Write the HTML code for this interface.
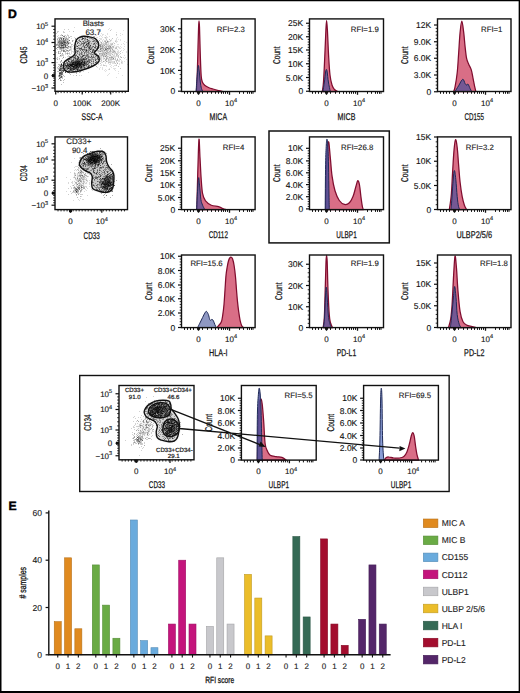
<!DOCTYPE html>
<html><head><meta charset="utf-8"><title>Figure</title>
<style>html,body{margin:0;padding:0;background:#fff;overflow:hidden}svg{display:block;font-family:"Liberation Sans",sans-serif;text-rendering:geometricPrecision}text{stroke:#1a1a1a;stroke-width:.12px}</style>
</head><body>
<svg width="520" height="693" viewBox="0 0 520 693" font-family="Liberation Sans"><rect x="0" y="0" width="520" height="693" fill="#fff"/>
<defs><filter id="bl0" x="-50%" y="-50%" width="200%" height="200%"><feGaussianBlur stdDeviation="0.4"/></filter><filter id="bl1" x="-50%" y="-50%" width="200%" height="200%"><feGaussianBlur stdDeviation="0.8"/></filter><filter id="bl2" x="-50%" y="-50%" width="200%" height="200%"><feGaussianBlur stdDeviation="1.6"/></filter><filter id="bl3" x="-50%" y="-50%" width="200%" height="200%"><feGaussianBlur stdDeviation="2.6"/></filter><filter id="bl4" x="-50%" y="-50%" width="200%" height="200%"><feGaussianBlur stdDeviation="4"/></filter></defs>
<path d="M196.4 91.5 C196.54 88.71 196.91 84.01 197.2 76 C197.49 67.99 197.75 55.82 198 47 C198.25 38.18 198.42 31.7 198.6 27 C198.78 22.3 198.84 20.9 199 20.9 C199.16 20.9 199.27 20.86 199.5 27 C199.73 33.14 199.99 46.18 200.3 55 C200.61 63.82 200.79 71.05 201.2 76 C201.61 80.95 201.92 80.79 202.6 82.5 C203.28 84.21 203.85 84.56 205 85.5 C206.15 86.44 207.56 87.07 209 87.7 C210.44 88.33 211.29 88.48 213 89 C214.71 89.52 216.7 90.15 218.5 90.6 C220.3 91.05 222.19 91.34 223 91.5Z" fill="#d96e86" fill-opacity="1.0" stroke="#800d2f" stroke-width="1.25" stroke-linejoin="round"/>
<path d="M196.1 91.5 C196.26 89.07 196.6 82.66 197 78 C197.4 73.34 197.89 66.68 198.3 65.6 C198.71 64.52 198.94 69.05 199.3 72 C199.66 74.95 199.9 79.03 200.3 82 C200.7 84.97 201.01 86.79 201.5 88.5 C201.99 90.21 202.73 90.96 203 91.5Z" fill="#4a4f9a" fill-opacity="0.7" stroke="#1f2a58" stroke-width="1.0" stroke-linejoin="round"/>
<rect x="181.5" y="18.9" width="73.6" height="72.6" fill="none" stroke="#111" stroke-width="1.4"/>
<path d="M178 28.8H181.5" stroke="#111" stroke-width="1.2"/>
<text x="175.2" y="31.9" font-size="8.5" text-anchor="end" fill="#111">30K</text>
<path d="M178 49.6H181.5" stroke="#111" stroke-width="1.2"/>
<text x="175.2" y="52.7" font-size="8.5" text-anchor="end" fill="#111">20K</text>
<path d="M178 70.4H181.5" stroke="#111" stroke-width="1.2"/>
<text x="175.2" y="73.5" font-size="8.5" text-anchor="end" fill="#111">10K</text>
<path d="M178 91.2H181.5" stroke="#111" stroke-width="1.2"/>
<text x="175.2" y="94.3" font-size="8.5" text-anchor="end" fill="#111">0</text>
<path d="M179.7 32.96H181.5M179.7 37.12H181.5M179.7 41.28H181.5M179.7 45.44H181.5M179.7 53.76H181.5M179.7 57.92H181.5M179.7 62.08H181.5M179.7 66.24H181.5M179.7 74.56H181.5M179.7 78.72H181.5M179.7 82.88H181.5M179.7 87.04H181.5" stroke="#111" stroke-width="0.9"/>
<path d="M184.5 91.5V93.8M187.5 91.5V93.8M190.5 91.5V93.8M193.5 91.5V93.8M202.5 91.5V93.8M207.5 91.5V93.8M211.5 91.5V93.8M215.5 91.5V93.8M218.5 91.5V93.8M221.5 91.5V93.8M223.5 91.5V93.8M225.5 91.5V93.8M227.5 91.5V93.8M239.5 91.5V93.8M243.5 91.5V93.8M247.5 91.5V93.8M249.5 91.5V93.8M251.5 91.5V93.8M253 91.5V93.8" stroke="#111" stroke-width="1"/>
<path d="M198.5 91.5V94.7M229.5 91.5V94.7" stroke="#111" stroke-width="1.3"/>
<rect x="197" y="91.5" width="3" height="2.2" fill="#111"/>
<text x="198.5" y="105.5" font-size="8" text-anchor="middle" fill="#111">0</text>
<text x="225.1" y="105.5" font-size="8" fill="#111">10<tspan font-size="5.6" dy="-3.4">4</tspan></text>
<text transform="translate(218.3 119.9)" font-size="9.8" text-anchor="middle" textLength="17.5" lengthAdjust="spacingAndGlyphs" style="stroke-width:0.25px" fill="#111">MICA</text>
<text transform="translate(153.8 55.2) rotate(-90)" font-size="9.8" text-anchor="middle" textLength="17.6" lengthAdjust="spacingAndGlyphs" style="stroke-width:0.25px" fill="#111">Count</text>
<text x="216.8" y="32.2" font-size="7.8" fill="#151515">RFI=2.3</text>
<path d="M322.3 91.5 C322.52 89.79 323.05 88.39 323.5 82 C323.95 75.61 324.37 65.36 324.8 56 C325.23 46.64 325.58 36.37 325.9 30 C326.22 23.63 326.33 20.6 326.6 20.6 C326.87 20.6 327.04 23.72 327.4 30 C327.76 36.28 328.13 47.4 328.6 55.5 C329.07 63.6 329.39 69.69 330 75 C330.61 80.31 331.19 82.39 332 85 C332.81 87.61 333.51 88.33 334.5 89.5 C335.49 90.67 336.96 91.14 337.5 91.5Z" fill="#d96e86" fill-opacity="1.0" stroke="#800d2f" stroke-width="1.25" stroke-linejoin="round"/>
<path d="M322.9 91.5 C323.17 89.79 323.91 85.51 324.4 82 C324.89 78.49 325.24 74.25 325.6 72 C325.96 69.75 326.11 69.5 326.4 69.5 C326.69 69.5 326.84 69.75 327.2 72 C327.56 74.25 327.84 78.49 328.4 82 C328.96 85.51 329.96 89.79 330.3 91.5Z" fill="#4a4f9a" fill-opacity="0.7" stroke="#1f2a58" stroke-width="1.0" stroke-linejoin="round"/>
<rect x="309.5" y="18.9" width="74" height="72.6" fill="none" stroke="#111" stroke-width="1.4"/>
<path d="M306 23.25H309.5" stroke="#111" stroke-width="1.2"/>
<text x="303.2" y="26.35" font-size="8.5" text-anchor="end" fill="#111">25K</text>
<path d="M306 36.75H309.5" stroke="#111" stroke-width="1.2"/>
<text x="303.2" y="39.85" font-size="8.5" text-anchor="end" fill="#111">20K</text>
<path d="M306 50H309.5" stroke="#111" stroke-width="1.2"/>
<text x="303.2" y="53.1" font-size="8.5" text-anchor="end" fill="#111">15K</text>
<path d="M306 63.75H309.5" stroke="#111" stroke-width="1.2"/>
<text x="303.2" y="66.85" font-size="8.5" text-anchor="end" fill="#111">10K</text>
<path d="M306 77.5H309.5" stroke="#111" stroke-width="1.2"/>
<text x="303.2" y="80.6" font-size="8.5" text-anchor="end" fill="#111">5.0K</text>
<path d="M306 91.25H309.5" stroke="#111" stroke-width="1.2"/>
<text x="303.2" y="94.35" font-size="8.5" text-anchor="end" fill="#111">0</text>
<path d="M307.7 25.95H309.5M307.7 28.65H309.5M307.7 31.35H309.5M307.7 34.05H309.5M307.7 39.4H309.5M307.7 42.05H309.5M307.7 44.7H309.5M307.7 47.35H309.5M307.7 52.75H309.5M307.7 55.5H309.5M307.7 58.25H309.5M307.7 61H309.5M307.7 66.5H309.5M307.7 69.25H309.5M307.7 72H309.5M307.7 74.75H309.5M307.7 80.25H309.5M307.7 83H309.5M307.7 85.75H309.5M307.7 88.5H309.5" stroke="#111" stroke-width="0.9"/>
<path d="M312.5 91.5V93.8M315.5 91.5V93.8M318.5 91.5V93.8M321.5 91.5V93.8M330.5 91.5V93.8M335.5 91.5V93.8M339.5 91.5V93.8M343.5 91.5V93.8M346.5 91.5V93.8M349.5 91.5V93.8M351.5 91.5V93.8M353.5 91.5V93.8M355.5 91.5V93.8M367.5 91.5V93.8M371.5 91.5V93.8M375.5 91.5V93.8M377.5 91.5V93.8M379.5 91.5V93.8M381 91.5V93.8" stroke="#111" stroke-width="1"/>
<path d="M326.5 91.5V94.7M357.5 91.5V94.7" stroke="#111" stroke-width="1.3"/>
<rect x="325" y="91.5" width="3" height="2.2" fill="#111"/>
<text x="326.5" y="105.5" font-size="8" text-anchor="middle" fill="#111">0</text>
<text x="353.1" y="105.5" font-size="8" fill="#111">10<tspan font-size="5.6" dy="-3.4">4</tspan></text>
<text transform="translate(346.5 119.9)" font-size="9.8" text-anchor="middle" textLength="17.8" lengthAdjust="spacingAndGlyphs" style="stroke-width:0.25px" fill="#111">MICB</text>
<text transform="translate(280.2 55.2) rotate(-90)" font-size="9.8" text-anchor="middle" textLength="17.6" lengthAdjust="spacingAndGlyphs" style="stroke-width:0.25px" fill="#111">Count</text>
<text x="350.8" y="32.4" font-size="7.8" fill="#151515">RFI=1.9</text>
<path d="M453.6 91.5 C453.85 90.73 454.35 90.57 455 87.2 C455.65 83.83 456.55 78.78 457.2 72.8 C457.85 66.82 458.08 61.27 458.6 54 C459.12 46.73 459.52 38.3 460.1 32.4 C460.68 26.5 461.15 21.2 461.8 21.2 C462.45 21.2 463.11 27.79 463.7 32.4 C464.29 37.01 464.58 42.12 465.1 46.8 C465.62 51.48 465.95 55.27 466.6 58.4 C467.25 61.53 467.85 62.13 468.7 64.2 C469.55 66.27 470.51 67.31 471.3 69.9 C472.09 72.49 472.47 75.49 473.1 78.6 C473.73 81.71 474.3 84.88 474.8 87.2 C475.3 89.52 475.7 90.73 475.9 91.5Z" fill="#d96e86" fill-opacity="1.0" stroke="#800d2f" stroke-width="1.25" stroke-linejoin="round"/>
<path d="M455 91.5 C455.65 90.47 457.21 88 458.6 85.8 C459.99 83.6 461.53 79.7 462.7 79.3 C463.87 78.9 464.4 82.56 465.1 83.6 C465.8 84.64 466.08 85.01 466.6 85.1 C467.12 85.19 467.35 83.45 468 84.1 C468.65 84.75 469.55 87.37 470.2 88.7 C470.85 90.03 471.35 91 471.6 91.5Z" fill="#4a4f9a" fill-opacity="0.7" stroke="#1f2a58" stroke-width="1.0" stroke-linejoin="round"/>
<rect x="437.5" y="18.9" width="73.5" height="72.6" fill="none" stroke="#111" stroke-width="1.4"/>
<path d="M434 25H437.5" stroke="#111" stroke-width="1.2"/>
<text x="431.2" y="28.1" font-size="8.5" text-anchor="end" fill="#111">12K</text>
<path d="M434 41.75H437.5" stroke="#111" stroke-width="1.2"/>
<text x="431.2" y="44.85" font-size="8.5" text-anchor="end" fill="#111">9.0K</text>
<path d="M434 58.25H437.5" stroke="#111" stroke-width="1.2"/>
<text x="431.2" y="61.35" font-size="8.5" text-anchor="end" fill="#111">6.0K</text>
<path d="M434 75H437.5" stroke="#111" stroke-width="1.2"/>
<text x="431.2" y="78.1" font-size="8.5" text-anchor="end" fill="#111">3.0K</text>
<path d="M434 91.75H437.5" stroke="#111" stroke-width="1.2"/>
<text x="431.2" y="94.85" font-size="8.5" text-anchor="end" fill="#111">0</text>
<path d="M435.7 28.35H437.5M435.7 31.7H437.5M435.7 35.05H437.5M435.7 38.4H437.5M435.7 45.05H437.5M435.7 48.35H437.5M435.7 51.65H437.5M435.7 54.95H437.5M435.7 61.6H437.5M435.7 64.95H437.5M435.7 68.3H437.5M435.7 71.65H437.5M435.7 78.35H437.5M435.7 81.7H437.5M435.7 85.05H437.5M435.7 88.4H437.5" stroke="#111" stroke-width="0.9"/>
<path d="M440.5 91.5V93.8M443.5 91.5V93.8M446.5 91.5V93.8M449.5 91.5V93.8M458.5 91.5V93.8M463.5 91.5V93.8M467.5 91.5V93.8M471.5 91.5V93.8M474.5 91.5V93.8M477.5 91.5V93.8M479.5 91.5V93.8M481.5 91.5V93.8M483.5 91.5V93.8M495.5 91.5V93.8M499.5 91.5V93.8M503.5 91.5V93.8M505.5 91.5V93.8M507.5 91.5V93.8M509 91.5V93.8" stroke="#111" stroke-width="1"/>
<path d="M454.5 91.5V94.7M485.5 91.5V94.7" stroke="#111" stroke-width="1.3"/>
<rect x="453" y="91.5" width="3" height="2.2" fill="#111"/>
<text x="454.5" y="105.5" font-size="8" text-anchor="middle" fill="#111">0</text>
<text x="481.1" y="105.5" font-size="8" fill="#111">10<tspan font-size="5.6" dy="-3.4">4</tspan></text>
<text transform="translate(474.25 119.9)" font-size="9.8" text-anchor="middle" textLength="19.5" lengthAdjust="spacingAndGlyphs" style="stroke-width:0.25px" fill="#111">CD155</text>
<text transform="translate(408.2 55.2) rotate(-90)" font-size="9.8" text-anchor="middle" textLength="17.6" lengthAdjust="spacingAndGlyphs" style="stroke-width:0.25px" fill="#111">Count</text>
<text x="481" y="32.4" font-size="7.8" fill="#151515">RFI=1</text>
<path d="M196.9 209.6 C196.95 206.74 197 201.76 197.2 193.7 C197.4 185.64 197.68 174.61 198 164.8 C198.32 154.99 198.64 140.5 199 139.2 C199.36 137.9 199.6 150.38 200 157.6 C200.4 164.82 200.73 172.8 201.2 179.3 C201.67 185.8 201.83 189.81 202.6 193.7 C203.37 197.59 203.93 198.83 205.5 200.9 C207.07 202.97 208.96 204.16 211.3 205.2 C213.64 206.24 216.43 206.09 218.5 206.7 C220.57 207.31 221.45 208.08 222.8 208.6 C224.15 209.12 225.42 209.42 226 209.6Z" fill="#d96e86" fill-opacity="1.0" stroke="#800d2f" stroke-width="1.25" stroke-linejoin="round"/>
<path d="M196.6 209.6 C196.71 207.26 196.84 202.32 197.2 196.6 C197.56 190.88 198.13 179.37 198.6 177.8 C199.07 176.23 199.39 183.99 199.8 187.9 C200.21 191.81 200.4 196.39 200.9 199.5 C201.4 202.61 201.9 203.38 202.6 205.2 C203.3 207.02 204.4 208.81 204.8 209.6Z" fill="#4a4f9a" fill-opacity="0.7" stroke="#1f2a58" stroke-width="1.0" stroke-linejoin="round"/>
<rect x="181.5" y="136.9" width="73.6" height="72.7" fill="none" stroke="#111" stroke-width="1.4"/>
<path d="M178 148.25H181.5" stroke="#111" stroke-width="1.2"/>
<text x="175.2" y="151.35" font-size="8.5" text-anchor="end" fill="#111">25K</text>
<path d="M178 160.75H181.5" stroke="#111" stroke-width="1.2"/>
<text x="175.2" y="163.85" font-size="8.5" text-anchor="end" fill="#111">20K</text>
<path d="M178 172.5H181.5" stroke="#111" stroke-width="1.2"/>
<text x="175.2" y="175.6" font-size="8.5" text-anchor="end" fill="#111">15K</text>
<path d="M178 185H181.5" stroke="#111" stroke-width="1.2"/>
<text x="175.2" y="188.1" font-size="8.5" text-anchor="end" fill="#111">10K</text>
<path d="M178 197.5H181.5" stroke="#111" stroke-width="1.2"/>
<text x="175.2" y="200.6" font-size="8.5" text-anchor="end" fill="#111">5.0K</text>
<path d="M178 209.5H181.5" stroke="#111" stroke-width="1.2"/>
<text x="175.2" y="212.6" font-size="8.5" text-anchor="end" fill="#111">0</text>
<path d="M179.7 150.75H181.5M179.7 153.25H181.5M179.7 155.75H181.5M179.7 158.25H181.5M179.7 163.1H181.5M179.7 165.45H181.5M179.7 167.8H181.5M179.7 170.15H181.5M179.7 175H181.5M179.7 177.5H181.5M179.7 180H181.5M179.7 182.5H181.5M179.7 187.5H181.5M179.7 190H181.5M179.7 192.5H181.5M179.7 195H181.5M179.7 199.9H181.5M179.7 202.3H181.5M179.7 204.7H181.5M179.7 207.1H181.5" stroke="#111" stroke-width="0.9"/>
<path d="M184.5 209.6V211.9M187.5 209.6V211.9M190.5 209.6V211.9M193.5 209.6V211.9M202.5 209.6V211.9M207.5 209.6V211.9M211.5 209.6V211.9M215.5 209.6V211.9M218.5 209.6V211.9M221.5 209.6V211.9M223.5 209.6V211.9M225.5 209.6V211.9M227.5 209.6V211.9M239.5 209.6V211.9M243.5 209.6V211.9M247.5 209.6V211.9M249.5 209.6V211.9M251.5 209.6V211.9M253 209.6V211.9" stroke="#111" stroke-width="1"/>
<path d="M198.5 209.6V212.8M229.5 209.6V212.8" stroke="#111" stroke-width="1.3"/>
<rect x="197" y="209.6" width="3" height="2.2" fill="#111"/>
<text x="198.5" y="223.6" font-size="8" text-anchor="middle" fill="#111">0</text>
<text x="225.1" y="223.6" font-size="8" fill="#111">10<tspan font-size="5.6" dy="-3.4">4</tspan></text>
<text transform="translate(218.3 238)" font-size="9.8" text-anchor="middle" textLength="19.2" lengthAdjust="spacingAndGlyphs" style="stroke-width:0.25px" fill="#111">CD112</text>
<text transform="translate(152.2 173.25) rotate(-90)" font-size="9.8" text-anchor="middle" textLength="17.6" lengthAdjust="spacingAndGlyphs" style="stroke-width:0.25px" fill="#111">Count</text>
<text x="222.8" y="149.9" font-size="7.8" fill="#151515">RFI=4</text>
<path d="M325.6 209.6 C325.82 200.67 326.28 172.2 326.8 160 C327.32 147.8 327.87 142.23 328.5 141.8 C329.13 141.37 329.65 151.37 330.3 157.6 C330.95 163.83 331.25 170.42 332.1 176.4 C332.95 182.38 333.7 186.46 335 190.8 C336.3 195.14 337.59 198.05 339.3 200.5 C341.01 202.95 342.68 203.99 344.5 204.4 C346.32 204.81 347.87 204.2 349.4 202.8 C350.93 201.4 351.83 199.53 353 196.6 C354.17 193.67 355.04 189.36 355.9 186.5 C356.76 183.64 357.15 180.97 357.8 180.7 C358.45 180.43 358.94 182.14 359.5 185 C360.06 187.86 360.38 192.69 360.9 196.6 C361.42 200.51 361.95 204.36 362.4 206.7 C362.85 209.04 363.22 209.08 363.4 209.6Z" fill="#d96e86" fill-opacity="1.0" stroke="#800d2f" stroke-width="1.25" stroke-linejoin="round"/>
<path d="M325.2 209.6 C325.27 201.54 325.4 176.43 325.6 164.8 C325.8 153.17 326.05 149.61 326.3 145 C326.55 140.39 326.71 139.02 327 139.2 C327.29 139.38 327.63 141.36 327.9 146 C328.17 150.64 328.3 156.18 328.5 165 C328.7 173.82 328.86 186.97 329 195 C329.14 203.03 329.25 206.97 329.3 209.6Z" fill="#4a4f9a" fill-opacity="0.85" stroke="#1f2a58" stroke-width="1.0" stroke-linejoin="round"/>
<rect x="309.5" y="136.9" width="74" height="72.7" fill="none" stroke="#111" stroke-width="1.4"/>
<path d="M306 148.3H309.5" stroke="#111" stroke-width="1.2"/>
<text x="303.2" y="151.4" font-size="8.5" text-anchor="end" fill="#111">10K</text>
<path d="M306 160.9H309.5" stroke="#111" stroke-width="1.2"/>
<text x="303.2" y="164" font-size="8.5" text-anchor="end" fill="#111">8.0K</text>
<path d="M306 172.8H309.5" stroke="#111" stroke-width="1.2"/>
<text x="303.2" y="175.9" font-size="8.5" text-anchor="end" fill="#111">6.0K</text>
<path d="M306 184.6H309.5" stroke="#111" stroke-width="1.2"/>
<text x="303.2" y="187.7" font-size="8.5" text-anchor="end" fill="#111">4.0K</text>
<path d="M306 196.7H309.5" stroke="#111" stroke-width="1.2"/>
<text x="303.2" y="199.8" font-size="8.5" text-anchor="end" fill="#111">2.0K</text>
<path d="M306 208.9H309.5" stroke="#111" stroke-width="1.2"/>
<text x="303.2" y="212" font-size="8.5" text-anchor="end" fill="#111">0</text>
<path d="M307.7 150.82H309.5M307.7 153.34H309.5M307.7 155.86H309.5M307.7 158.38H309.5M307.7 163.28H309.5M307.7 165.66H309.5M307.7 168.04H309.5M307.7 170.42H309.5M307.7 175.16H309.5M307.7 177.52H309.5M307.7 179.88H309.5M307.7 182.24H309.5M307.7 187.02H309.5M307.7 189.44H309.5M307.7 191.86H309.5M307.7 194.28H309.5M307.7 199.14H309.5M307.7 201.58H309.5M307.7 204.02H309.5M307.7 206.46H309.5" stroke="#111" stroke-width="0.9"/>
<path d="M312.5 209.6V211.9M315.5 209.6V211.9M318.5 209.6V211.9M321.5 209.6V211.9M330.5 209.6V211.9M335.5 209.6V211.9M339.5 209.6V211.9M343.5 209.6V211.9M346.5 209.6V211.9M349.5 209.6V211.9M351.5 209.6V211.9M353.5 209.6V211.9M355.5 209.6V211.9M367.5 209.6V211.9M371.5 209.6V211.9M375.5 209.6V211.9M377.5 209.6V211.9M379.5 209.6V211.9M381 209.6V211.9" stroke="#111" stroke-width="1"/>
<path d="M326.5 209.6V212.8M357.5 209.6V212.8" stroke="#111" stroke-width="1.3"/>
<rect x="325" y="209.6" width="3" height="2.2" fill="#111"/>
<text x="326.5" y="223.6" font-size="8" text-anchor="middle" fill="#111">0</text>
<text x="353.1" y="223.6" font-size="8" fill="#111">10<tspan font-size="5.6" dy="-3.4">4</tspan></text>
<text transform="translate(346.5 238)" font-size="9.8" text-anchor="middle" textLength="20.5" lengthAdjust="spacingAndGlyphs" style="stroke-width:0.25px" fill="#111">ULBP1</text>
<text transform="translate(280.2 173.25) rotate(-90)" font-size="9.8" text-anchor="middle" textLength="17.6" lengthAdjust="spacingAndGlyphs" style="stroke-width:0.25px" fill="#111">Count</text>
<text x="341" y="149.9" font-size="7.8" fill="#151515">RFI=26.8</text>
<path d="M449.3 209.6 C449.43 208.81 449.62 208.06 450 205.2 C450.38 202.34 450.93 199.68 451.4 193.7 C451.87 187.72 452.13 179.79 452.6 172 C453.07 164.21 453.48 156.23 454 150.4 C454.52 144.57 454.92 140.12 455.5 139.6 C456.08 139.08 456.64 142.96 457.2 147.5 C457.76 152.04 458.08 158.55 458.6 164.8 C459.12 171.05 459.45 176.48 460.1 182.2 C460.75 187.92 461.43 192.46 462.2 196.6 C462.97 200.74 463.61 202.86 464.4 205.2 C465.19 207.54 466.2 208.81 466.6 209.6Z" fill="#d96e86" fill-opacity="1.0" stroke="#800d2f" stroke-width="1.25" stroke-linejoin="round"/>
<path d="M450.7 209.6 C450.83 208.81 451 209.88 451.4 205.2 C451.8 200.52 452.38 189.83 452.9 183.6 C453.42 177.37 453.78 171.37 454.3 170.6 C454.82 169.83 455.28 174.62 455.8 179.3 C456.32 183.98 456.7 191.67 457.2 196.6 C457.7 201.53 458.08 204.36 458.6 206.7 C459.12 209.04 459.83 209.08 460.1 209.6Z" fill="#4a4f9a" fill-opacity="0.7" stroke="#1f2a58" stroke-width="1.0" stroke-linejoin="round"/>
<rect x="437.5" y="136.9" width="73.5" height="72.7" fill="none" stroke="#111" stroke-width="1.4"/>
<path d="M434 137H437.5" stroke="#111" stroke-width="1.2"/>
<text x="431.2" y="140.1" font-size="8.5" text-anchor="end" fill="#111">15K</text>
<path d="M434 161.25H437.5" stroke="#111" stroke-width="1.2"/>
<text x="431.2" y="164.35" font-size="8.5" text-anchor="end" fill="#111">10K</text>
<path d="M434 185.5H437.5" stroke="#111" stroke-width="1.2"/>
<text x="431.2" y="188.6" font-size="8.5" text-anchor="end" fill="#111">5.0K</text>
<path d="M434 209.5H437.5" stroke="#111" stroke-width="1.2"/>
<text x="431.2" y="212.6" font-size="8.5" text-anchor="end" fill="#111">0</text>
<path d="M435.7 141.85H437.5M435.7 146.7H437.5M435.7 151.55H437.5M435.7 156.4H437.5M435.7 166.1H437.5M435.7 170.95H437.5M435.7 175.8H437.5M435.7 180.65H437.5M435.7 190.3H437.5M435.7 195.1H437.5M435.7 199.9H437.5M435.7 204.7H437.5" stroke="#111" stroke-width="0.9"/>
<path d="M440.5 209.6V211.9M443.5 209.6V211.9M446.5 209.6V211.9M449.5 209.6V211.9M458.5 209.6V211.9M463.5 209.6V211.9M467.5 209.6V211.9M471.5 209.6V211.9M474.5 209.6V211.9M477.5 209.6V211.9M479.5 209.6V211.9M481.5 209.6V211.9M483.5 209.6V211.9M495.5 209.6V211.9M499.5 209.6V211.9M503.5 209.6V211.9M505.5 209.6V211.9M507.5 209.6V211.9M509 209.6V211.9" stroke="#111" stroke-width="1"/>
<path d="M454.5 209.6V212.8M485.5 209.6V212.8" stroke="#111" stroke-width="1.3"/>
<rect x="453" y="209.6" width="3" height="2.2" fill="#111"/>
<text x="454.5" y="223.6" font-size="8" text-anchor="middle" fill="#111">0</text>
<text x="481.1" y="223.6" font-size="8" fill="#111">10<tspan font-size="5.6" dy="-3.4">4</tspan></text>
<text transform="translate(474.25 238)" font-size="9.8" text-anchor="middle" textLength="35.6" lengthAdjust="spacingAndGlyphs" style="stroke-width:0.25px" fill="#111">ULBP2/5/6</text>
<text transform="translate(408.2 173.25) rotate(-90)" font-size="9.8" text-anchor="middle" textLength="17.6" lengthAdjust="spacingAndGlyphs" style="stroke-width:0.25px" fill="#111">Count</text>
<text x="465.8" y="149.9" font-size="7.8" fill="#151515">RFI=3.2</text>
<path d="M217.1 327.6 C217.41 327.2 218.03 326.44 218.8 325.4 C219.57 324.36 220.68 323.74 221.4 321.8 C222.12 319.86 222.33 317.71 222.8 314.6 C223.27 311.49 223.6 308.93 224 304.5 C224.4 300.07 224.64 295.2 225 290 C225.36 284.8 225.6 279.74 226 275.6 C226.4 271.46 226.73 269.72 227.2 267 C227.67 264.28 228.1 262.19 228.6 260.5 C229.1 258.81 229.53 258.19 230 257.6 C230.47 257.01 230.73 256.95 231.2 257.2 C231.67 257.45 232.08 257.51 232.6 259 C233.12 260.49 233.58 262.26 234.1 265.5 C234.62 268.74 235.07 272.59 235.5 277 C235.93 281.41 236.14 285.57 236.5 290 C236.86 294.43 237.1 297.69 237.5 301.6 C237.9 305.51 238.23 308.33 238.7 311.7 C239.17 315.07 239.58 317.83 240.1 320.3 C240.62 322.77 241.02 324.09 241.6 325.4 C242.18 326.71 242.99 327.2 243.3 327.6Z" fill="#d96e86" fill-opacity="1.0" stroke="#800d2f" stroke-width="1.25" stroke-linejoin="round"/>
<path d="M197.6 327.6 C198 326.81 198.9 325.02 199.8 323.2 C200.7 321.38 201.7 319.32 202.6 317.5 C203.5 315.68 204.1 314.2 204.8 313.1 C205.5 312 205.85 311.13 206.5 311.4 C207.15 311.67 207.81 313.12 208.4 314.6 C208.99 316.08 209.33 318.57 209.8 319.6 C210.27 320.63 210.6 320.37 211 320.3 C211.4 320.23 211.55 319.06 212 319.2 C212.45 319.34 212.98 320.11 213.5 321.1 C214.02 322.09 214.4 323.53 214.9 324.7 C215.4 325.87 216.05 327.08 216.3 327.6Z" fill="#7b86b8" fill-opacity="0.85" stroke="#1f2a58" stroke-width="1.0" stroke-linejoin="round"/>
<rect x="181.5" y="255" width="73.6" height="72.6" fill="none" stroke="#111" stroke-width="1.4"/>
<path d="M178 256.25H181.5" stroke="#111" stroke-width="1.2"/>
<text x="175.2" y="259.35" font-size="8.5" text-anchor="end" fill="#111">10K</text>
<path d="M178 270.5H181.5" stroke="#111" stroke-width="1.2"/>
<text x="175.2" y="273.6" font-size="8.5" text-anchor="end" fill="#111">8.0K</text>
<path d="M178 285H181.5" stroke="#111" stroke-width="1.2"/>
<text x="175.2" y="288.1" font-size="8.5" text-anchor="end" fill="#111">6.0K</text>
<path d="M178 298.75H181.5" stroke="#111" stroke-width="1.2"/>
<text x="175.2" y="301.85" font-size="8.5" text-anchor="end" fill="#111">4.0K</text>
<path d="M178 313H181.5" stroke="#111" stroke-width="1.2"/>
<text x="175.2" y="316.1" font-size="8.5" text-anchor="end" fill="#111">2.0K</text>
<path d="M178 327.5H181.5" stroke="#111" stroke-width="1.2"/>
<text x="175.2" y="330.6" font-size="8.5" text-anchor="end" fill="#111">0</text>
<path d="M179.7 259.1H181.5M179.7 261.95H181.5M179.7 264.8H181.5M179.7 267.65H181.5M179.7 273.4H181.5M179.7 276.3H181.5M179.7 279.2H181.5M179.7 282.1H181.5M179.7 287.75H181.5M179.7 290.5H181.5M179.7 293.25H181.5M179.7 296H181.5M179.7 301.6H181.5M179.7 304.45H181.5M179.7 307.3H181.5M179.7 310.15H181.5M179.7 315.9H181.5M179.7 318.8H181.5M179.7 321.7H181.5M179.7 324.6H181.5" stroke="#111" stroke-width="0.9"/>
<path d="M184.5 327.6V329.9M187.5 327.6V329.9M190.5 327.6V329.9M193.5 327.6V329.9M202.5 327.6V329.9M207.5 327.6V329.9M211.5 327.6V329.9M215.5 327.6V329.9M218.5 327.6V329.9M221.5 327.6V329.9M223.5 327.6V329.9M225.5 327.6V329.9M227.5 327.6V329.9M239.5 327.6V329.9M243.5 327.6V329.9M247.5 327.6V329.9M249.5 327.6V329.9M251.5 327.6V329.9M253 327.6V329.9" stroke="#111" stroke-width="1"/>
<path d="M198.5 327.6V330.8M229.5 327.6V330.8" stroke="#111" stroke-width="1.3"/>
<rect x="197" y="327.6" width="3" height="2.2" fill="#111"/>
<text x="198.5" y="341.6" font-size="8" text-anchor="middle" fill="#111">0</text>
<text x="225.1" y="341.6" font-size="8" fill="#111">10<tspan font-size="5.6" dy="-3.4">4</tspan></text>
<text transform="translate(218.3 356)" font-size="9.8" text-anchor="middle" textLength="18.5" lengthAdjust="spacingAndGlyphs" style="stroke-width:0.25px" fill="#111">HLA-I</text>
<text transform="translate(152.2 291.3) rotate(-90)" font-size="9.8" text-anchor="middle" textLength="17.6" lengthAdjust="spacingAndGlyphs" style="stroke-width:0.25px" fill="#111">Count</text>
<text x="190.4" y="266.3" font-size="7.8" fill="#151515">RFI=15.6</text>
<path d="M323.1 327.6 C323.32 325.87 323.92 324.77 324.3 318 C324.68 311.23 324.89 300.08 325.2 290 C325.51 279.92 325.75 268.23 326 262 C326.25 255.77 326.38 255.4 326.6 255.4 C326.82 255.4 326.95 255.77 327.2 262 C327.45 268.23 327.62 280.46 328 290 C328.38 299.54 328.83 309.06 329.3 315 C329.77 320.94 330.02 320.73 330.6 323 C331.18 325.27 332.16 326.77 332.5 327.6Z" fill="#d96e86" fill-opacity="1.0" stroke="#800d2f" stroke-width="1.25" stroke-linejoin="round"/>
<path d="M323.4 327.6 C323.6 325.87 324.14 323.33 324.5 318 C324.86 312.67 325.08 303.54 325.4 298 C325.72 292.46 325.98 287.2 326.3 287.2 C326.62 287.2 326.82 292.82 327.2 298 C327.58 303.18 327.9 311.32 328.4 316 C328.9 320.68 329.44 321.91 330 324 C330.56 326.09 331.23 326.95 331.5 327.6Z" fill="#4a4f9a" fill-opacity="0.7" stroke="#1f2a58" stroke-width="1.0" stroke-linejoin="round"/>
<rect x="309.5" y="255" width="74" height="72.6" fill="none" stroke="#111" stroke-width="1.4"/>
<path d="M306 264.25H309.5" stroke="#111" stroke-width="1.2"/>
<text x="303.2" y="267.35" font-size="8.5" text-anchor="end" fill="#111">30K</text>
<path d="M306 285.5H309.5" stroke="#111" stroke-width="1.2"/>
<text x="303.2" y="288.6" font-size="8.5" text-anchor="end" fill="#111">20K</text>
<path d="M306 306.75H309.5" stroke="#111" stroke-width="1.2"/>
<text x="303.2" y="309.85" font-size="8.5" text-anchor="end" fill="#111">10K</text>
<path d="M306 327.5H309.5" stroke="#111" stroke-width="1.2"/>
<text x="303.2" y="330.6" font-size="8.5" text-anchor="end" fill="#111">0</text>
<path d="M307.7 268.5H309.5M307.7 272.75H309.5M307.7 277H309.5M307.7 281.25H309.5M307.7 289.75H309.5M307.7 294H309.5M307.7 298.25H309.5M307.7 302.5H309.5M307.7 310.9H309.5M307.7 315.05H309.5M307.7 319.2H309.5M307.7 323.35H309.5" stroke="#111" stroke-width="0.9"/>
<path d="M312.5 327.6V329.9M315.5 327.6V329.9M318.5 327.6V329.9M321.5 327.6V329.9M330.5 327.6V329.9M335.5 327.6V329.9M339.5 327.6V329.9M343.5 327.6V329.9M346.5 327.6V329.9M349.5 327.6V329.9M351.5 327.6V329.9M353.5 327.6V329.9M355.5 327.6V329.9M367.5 327.6V329.9M371.5 327.6V329.9M375.5 327.6V329.9M377.5 327.6V329.9M379.5 327.6V329.9M381 327.6V329.9" stroke="#111" stroke-width="1"/>
<path d="M326.5 327.6V330.8M357.5 327.6V330.8" stroke="#111" stroke-width="1.3"/>
<rect x="325" y="327.6" width="3" height="2.2" fill="#111"/>
<text x="326.5" y="341.6" font-size="8" text-anchor="middle" fill="#111">0</text>
<text x="353.1" y="341.6" font-size="8" fill="#111">10<tspan font-size="5.6" dy="-3.4">4</tspan></text>
<text transform="translate(346.5 356)" font-size="9.8" text-anchor="middle" textLength="19.4" lengthAdjust="spacingAndGlyphs" style="stroke-width:0.25px" fill="#111">PD-L1</text>
<text transform="translate(281.8 291.3) rotate(-90)" font-size="9.8" text-anchor="middle" textLength="17.6" lengthAdjust="spacingAndGlyphs" style="stroke-width:0.25px" fill="#111">Count</text>
<text x="350.8" y="265.8" font-size="7.8" fill="#151515">RFI=1.9</text>
<path d="M448.5 327.6 C448.9 326.03 450.05 323.06 450.7 318.9 C451.35 314.74 451.58 312.29 452.1 304.5 C452.62 296.71 453.08 284.29 453.6 275.6 C454.12 266.91 454.48 257.5 455 256.2 C455.52 254.9 455.98 262.3 456.5 268.4 C457.02 274.5 457.25 282.31 457.9 290.1 C458.55 297.89 459.18 305.99 460.1 311.7 C461.02 317.41 461.7 319.33 463 321.8 C464.3 324.27 465.48 324.5 467.3 325.4 C469.12 326.3 471.53 326.4 473.1 326.8 C474.67 327.2 475.48 327.46 476 327.6Z" fill="#d96e86" fill-opacity="1.0" stroke="#800d2f" stroke-width="1.25" stroke-linejoin="round"/>
<path d="M450.3 327.6 C450.5 326.03 450.88 323.83 451.4 318.9 C451.92 313.97 452.62 306.03 453.2 300.2 C453.78 294.37 454.1 287.02 454.6 286.5 C455.1 285.98 455.53 292.24 456 297.3 C456.47 302.36 456.59 309.67 457.2 314.6 C457.81 319.53 458.63 322.36 459.4 324.7 C460.17 327.04 461.12 327.08 461.5 327.6Z" fill="#4a4f9a" fill-opacity="0.7" stroke="#1f2a58" stroke-width="1.0" stroke-linejoin="round"/>
<rect x="437.5" y="255" width="73.5" height="72.6" fill="none" stroke="#111" stroke-width="1.4"/>
<path d="M434 263H437.5" stroke="#111" stroke-width="1.2"/>
<text x="431.2" y="266.1" font-size="8.5" text-anchor="end" fill="#111">15K</text>
<path d="M434 284.25H437.5" stroke="#111" stroke-width="1.2"/>
<text x="431.2" y="287.35" font-size="8.5" text-anchor="end" fill="#111">10K</text>
<path d="M434 305.75H437.5" stroke="#111" stroke-width="1.2"/>
<text x="431.2" y="308.85" font-size="8.5" text-anchor="end" fill="#111">5.0K</text>
<path d="M434 327.5H437.5" stroke="#111" stroke-width="1.2"/>
<text x="431.2" y="330.6" font-size="8.5" text-anchor="end" fill="#111">0</text>
<path d="M435.7 267.25H437.5M435.7 271.5H437.5M435.7 275.75H437.5M435.7 280H437.5M435.7 288.55H437.5M435.7 292.85H437.5M435.7 297.15H437.5M435.7 301.45H437.5M435.7 310.1H437.5M435.7 314.45H437.5M435.7 318.8H437.5M435.7 323.15H437.5" stroke="#111" stroke-width="0.9"/>
<path d="M440.5 327.6V329.9M443.5 327.6V329.9M446.5 327.6V329.9M449.5 327.6V329.9M458.5 327.6V329.9M463.5 327.6V329.9M467.5 327.6V329.9M471.5 327.6V329.9M474.5 327.6V329.9M477.5 327.6V329.9M479.5 327.6V329.9M481.5 327.6V329.9M483.5 327.6V329.9M495.5 327.6V329.9M499.5 327.6V329.9M503.5 327.6V329.9M505.5 327.6V329.9M507.5 327.6V329.9M509 327.6V329.9" stroke="#111" stroke-width="1"/>
<path d="M454.5 327.6V330.8M485.5 327.6V330.8" stroke="#111" stroke-width="1.3"/>
<rect x="453" y="327.6" width="3" height="2.2" fill="#111"/>
<text x="454.5" y="341.6" font-size="8" text-anchor="middle" fill="#111">0</text>
<text x="481.1" y="341.6" font-size="8" fill="#111">10<tspan font-size="5.6" dy="-3.4">4</tspan></text>
<text transform="translate(474.25 356)" font-size="9.8" text-anchor="middle" textLength="20.3" lengthAdjust="spacingAndGlyphs" style="stroke-width:0.25px" fill="#111">PD-L2</text>
<text transform="translate(408.2 291.3) rotate(-90)" font-size="9.8" text-anchor="middle" textLength="17.6" lengthAdjust="spacingAndGlyphs" style="stroke-width:0.25px" fill="#111">Count</text>
<text x="480" y="266.3" font-size="7.8" fill="#151515">RFI=1.8</text>
<path d="M257.3 460.1 C257.43 454.68 257.66 439.92 258 430 C258.34 420.08 258.71 410.6 259.2 405 C259.69 399.4 260.16 399.08 260.7 398.9 C261.24 398.72 261.66 399.93 262.2 404 C262.74 408.07 263.18 414.39 263.7 421.5 C264.22 428.61 264.45 438.23 265.1 443.5 C265.75 448.77 266.38 448.69 267.3 450.8 C268.22 452.91 268.62 454.16 270.2 455.2 C271.78 456.24 273.99 456.22 276.1 456.6 C278.21 456.98 280.06 456.67 281.9 457.3 C283.74 457.93 285.51 459.6 286.3 460.1Z" fill="#d96e86" fill-opacity="1.0" stroke="#800d2f" stroke-width="1.25" stroke-linejoin="round"/>
<path d="M257.1 460.1 C257.15 451.84 257.15 426.28 257.4 414.2 C257.65 402.12 258.16 397.68 258.5 393 C258.84 388.32 258.99 388.02 259.3 388.2 C259.61 388.38 259.91 390.98 260.2 394 C260.49 397.02 260.67 398.74 260.9 405 C261.13 411.26 261.27 418.88 261.5 428.8 C261.73 438.72 262.07 454.47 262.2 460.1Z" fill="#4a4f9a" fill-opacity="0.85" stroke="#1f2a58" stroke-width="1.0" stroke-linejoin="round"/>
<rect x="241.4" y="385.5" width="74.8" height="74.6" fill="none" stroke="#111" stroke-width="1.4"/>
<path d="M237.9 398.25H241.4" stroke="#111" stroke-width="1.2"/>
<text x="235.1" y="401.35" font-size="8.5" text-anchor="end" fill="#111">10K</text>
<path d="M237.9 410.5H241.4" stroke="#111" stroke-width="1.2"/>
<text x="235.1" y="413.6" font-size="8.5" text-anchor="end" fill="#111">8.0K</text>
<path d="M237.9 423H241.4" stroke="#111" stroke-width="1.2"/>
<text x="235.1" y="426.1" font-size="8.5" text-anchor="end" fill="#111">6.0K</text>
<path d="M237.9 435.5H241.4" stroke="#111" stroke-width="1.2"/>
<text x="235.1" y="438.6" font-size="8.5" text-anchor="end" fill="#111">4.0K</text>
<path d="M237.9 448H241.4" stroke="#111" stroke-width="1.2"/>
<text x="235.1" y="451.1" font-size="8.5" text-anchor="end" fill="#111">2.0K</text>
<path d="M237.9 460H241.4" stroke="#111" stroke-width="1.2"/>
<text x="235.1" y="463.1" font-size="8.5" text-anchor="end" fill="#111">0</text>
<path d="M239.6 400.7H241.4M239.6 403.15H241.4M239.6 405.6H241.4M239.6 408.05H241.4M239.6 413H241.4M239.6 415.5H241.4M239.6 418H241.4M239.6 420.5H241.4M239.6 425.5H241.4M239.6 428H241.4M239.6 430.5H241.4M239.6 433H241.4M239.6 438H241.4M239.6 440.5H241.4M239.6 443H241.4M239.6 445.5H241.4M239.6 450.4H241.4M239.6 452.8H241.4M239.6 455.2H241.4M239.6 457.6H241.4" stroke="#111" stroke-width="0.9"/>
<path d="M244.4 460.1V462.4M247.4 460.1V462.4M250.4 460.1V462.4M253.4 460.1V462.4M262.4 460.1V462.4M267.4 460.1V462.4M271.4 460.1V462.4M275.4 460.1V462.4M278.4 460.1V462.4M281.4 460.1V462.4M283.4 460.1V462.4M285.4 460.1V462.4M287.4 460.1V462.4M299.4 460.1V462.4M303.4 460.1V462.4M307.4 460.1V462.4M309.4 460.1V462.4M311.4 460.1V462.4M312.9 460.1V462.4" stroke="#111" stroke-width="1"/>
<path d="M258.4 460.1V463.3M289.4 460.1V463.3" stroke="#111" stroke-width="1.3"/>
<rect x="256.9" y="460.1" width="3" height="2.2" fill="#111"/>
<text x="258.4" y="474.1" font-size="8" text-anchor="middle" fill="#111">0</text>
<text x="285" y="474.1" font-size="8" fill="#111">10<tspan font-size="5.6" dy="-3.4">4</tspan></text>
<text transform="translate(278.8 487.9)" font-size="9.8" text-anchor="middle" textLength="20.5" lengthAdjust="spacingAndGlyphs" style="stroke-width:0.25px" fill="#111">ULBP1</text>
<text transform="translate(212.1 422.8) rotate(-90)" font-size="9.8" text-anchor="middle" textLength="17.6" lengthAdjust="spacingAndGlyphs" style="stroke-width:0.25px" fill="#111">Count</text>
<text x="284.6" y="398.4" font-size="7.8" fill="#151515">RFI=5.5</text>
<path d="M384.2 460.1 C384.52 459.69 385.21 458.36 386 457.8 C386.79 457.24 387.21 456.96 388.6 457 C389.99 457.04 391.74 457.82 393.7 458 C395.66 458.18 397.66 458.29 399.5 458 C401.34 457.71 402.59 457.44 403.9 456.4 C405.21 455.36 405.79 454.52 406.8 452.2 C407.81 449.88 408.71 446.38 409.5 443.5 C410.29 440.62 410.62 438.18 411.2 436.2 C411.78 434.22 412.16 432.5 412.7 432.5 C413.24 432.5 413.68 433.7 414.2 436.2 C414.72 438.7 415.08 442.98 415.6 446.4 C416.12 449.82 416.56 452.73 417.1 455.2 C417.64 457.67 418.33 459.22 418.6 460.1Z" fill="#d96e86" fill-opacity="1.0" stroke="#800d2f" stroke-width="1.25" stroke-linejoin="round"/>
<path d="M379.1 460.1 C379.24 456.48 379.63 450.82 379.9 440 C380.17 429.18 380.35 409.32 380.6 400 C380.85 390.68 381.05 388.2 381.3 388.2 C381.55 388.2 381.77 390.68 382 400 C382.23 409.32 382.28 429.18 382.6 440 C382.92 450.82 383.58 456.48 383.8 460.1Z" fill="#7d92d0" fill-opacity="0.9" stroke="#1f2a58" stroke-width="1.0" stroke-linejoin="round"/>
<rect x="363.6" y="385.5" width="74.8" height="74.6" fill="none" stroke="#111" stroke-width="1.4"/>
<path d="M360.1 398.25H363.6" stroke="#111" stroke-width="1.2"/>
<text x="357.3" y="401.35" font-size="8.5" text-anchor="end" fill="#111">10K</text>
<path d="M360.1 410.5H363.6" stroke="#111" stroke-width="1.2"/>
<text x="357.3" y="413.6" font-size="8.5" text-anchor="end" fill="#111">8.0K</text>
<path d="M360.1 423H363.6" stroke="#111" stroke-width="1.2"/>
<text x="357.3" y="426.1" font-size="8.5" text-anchor="end" fill="#111">6.0K</text>
<path d="M360.1 435.5H363.6" stroke="#111" stroke-width="1.2"/>
<text x="357.3" y="438.6" font-size="8.5" text-anchor="end" fill="#111">4.0K</text>
<path d="M360.1 448H363.6" stroke="#111" stroke-width="1.2"/>
<text x="357.3" y="451.1" font-size="8.5" text-anchor="end" fill="#111">2.0K</text>
<path d="M360.1 460H363.6" stroke="#111" stroke-width="1.2"/>
<text x="357.3" y="463.1" font-size="8.5" text-anchor="end" fill="#111">0</text>
<path d="M361.8 400.7H363.6M361.8 403.15H363.6M361.8 405.6H363.6M361.8 408.05H363.6M361.8 413H363.6M361.8 415.5H363.6M361.8 418H363.6M361.8 420.5H363.6M361.8 425.5H363.6M361.8 428H363.6M361.8 430.5H363.6M361.8 433H363.6M361.8 438H363.6M361.8 440.5H363.6M361.8 443H363.6M361.8 445.5H363.6M361.8 450.4H363.6M361.8 452.8H363.6M361.8 455.2H363.6M361.8 457.6H363.6" stroke="#111" stroke-width="0.9"/>
<path d="M366.6 460.1V462.4M369.6 460.1V462.4M372.6 460.1V462.4M375.6 460.1V462.4M384.6 460.1V462.4M389.6 460.1V462.4M393.6 460.1V462.4M397.6 460.1V462.4M400.6 460.1V462.4M403.6 460.1V462.4M405.6 460.1V462.4M407.6 460.1V462.4M409.6 460.1V462.4M421.6 460.1V462.4M425.6 460.1V462.4M429.6 460.1V462.4M431.6 460.1V462.4M433.6 460.1V462.4M435.1 460.1V462.4" stroke="#111" stroke-width="1"/>
<path d="M380.6 460.1V463.3M411.6 460.1V463.3" stroke="#111" stroke-width="1.3"/>
<rect x="379.1" y="460.1" width="3" height="2.2" fill="#111"/>
<text x="380.6" y="474.1" font-size="8" text-anchor="middle" fill="#111">0</text>
<text x="407.2" y="474.1" font-size="8" fill="#111">10<tspan font-size="5.6" dy="-3.4">4</tspan></text>
<text transform="translate(401 487.9)" font-size="9.8" text-anchor="middle" textLength="20.5" lengthAdjust="spacingAndGlyphs" style="stroke-width:0.25px" fill="#111">ULBP1</text>
<text transform="translate(334.3 422.8) rotate(-90)" font-size="9.8" text-anchor="middle" textLength="17.6" lengthAdjust="spacingAndGlyphs" style="stroke-width:0.25px" fill="#111">Count</text>
<text x="398.8" y="398.4" font-size="7.8" fill="#151515">RFI=69.5</text>
<path d="M75.2 43.5 C75.54 41.93 75.74 40.73 76.6 39.6 C77.46 38.47 78.7 37.8 80 37.2 C81.3 36.6 82.23 36.34 83.8 36.25 C85.37 36.16 86.79 36.35 88.7 36.7 C90.61 37.05 92.76 37.34 94.4 38.2 C96.04 39.06 97.02 40.2 97.8 41.5 C98.58 42.8 98.84 44.01 98.75 45.4 C98.66 46.79 98.05 47.96 97.3 49.2 C96.55 50.44 94.94 51.38 94.6 52.3 C94.26 53.22 94.73 53.63 95.4 54.3 C96.07 54.97 97.62 55.19 98.3 56 C98.98 56.81 99.12 57.77 99.2 58.8 C99.28 59.83 99.43 60.66 98.75 61.7 C98.07 62.74 97.05 63.56 95.4 64.6 C93.75 65.64 91.85 66.55 89.6 67.5 C87.35 68.45 85.49 69.13 82.9 69.9 C80.31 70.67 77.97 71.46 75.2 71.8 C72.43 72.14 69.5 72.23 67.5 71.8 C65.5 71.37 64.78 70.52 64.1 69.4 C63.42 68.28 63.61 66.99 63.7 65.6 C63.79 64.21 63.74 62.92 64.6 61.7 C65.46 60.48 66.93 59.83 68.5 58.8 C70.07 57.77 72.09 57.03 73.3 56 C74.51 54.97 74.95 54.49 75.2 53.1 C75.45 51.71 74.7 50.03 74.7 48.3 C74.7 46.57 74.86 45.07 75.2 43.5Z" fill="#000" fill-opacity="0.16" filter="url(#bl1)"/>
<ellipse cx="77" cy="64" rx="10" ry="4.2" transform="rotate(-15 77 64)" fill="#000" fill-opacity="0.48" filter="url(#bl2)"/>
<ellipse cx="87" cy="46" rx="6" ry="5" transform="rotate(0 87 46)" fill="#000" fill-opacity="0.08" filter="url(#bl2)"/>
<ellipse cx="63" cy="44" rx="4" ry="5.5" transform="rotate(0 63 44)" fill="#000" fill-opacity="0.3" filter="url(#bl2)"/>
<ellipse cx="106" cy="51" rx="10" ry="9" transform="rotate(-10 106 51)" fill="#000" fill-opacity="0.07" filter="url(#bl3)"/>
<ellipse cx="61" cy="71" rx="1.8" ry="6" transform="rotate(0 61 71)" fill="#000" fill-opacity="0.16" filter="url(#bl1)"/>
<path d="M74 66.5h1M93 61.5h1M86 44.5h1M81 67.5h1M85 52.5h1M83 64.5h1M90 59.5h1M75 65.5h1M80 65.5h1M91 66.5h1M70 64.5h1M95 44.5h1M69 64.5h1M90 49.5h1M79 64.5h1M84 64.5h1M83 51.5h1M78 58.5h1M88 53.5h1M81 63.5h1M67 67.5h1M82 59.5h1M73 66.5h1M78 63.5h1M77 61.5h1M84 46.5h1M88 57.5h1M69 71.5h1M82 54.5h1M77 69.5h1M68 59.5h1M73 70.5h1M91 58.5h1M82 60.5h1M71 56.5h1M88 66.5h1M96 66.5h1M91 60.5h1M95 47.5h1M75 67.5h1M94 47.5h1M71 64.5h1M77 43.5h1M75 58.5h1M80 63.5h1M90 49.5h1M75 62.5h1M97 57.5h1M80 68.5h1M67 65.5h1M85 39.5h1M77 46.5h1M81 69.5h1M83 49.5h1M78 64.5h1M94 57.5h1M70 69.5h1M75 62.5h1M79 69.5h1M81 63.5h1M77 64.5h1M72 64.5h1M71 61.5h1M98 44.5h1M78 56.5h1M85 64.5h1M74 61.5h1M83 38.5h1M97 48.5h1M90 45.5h1M86 39.5h1M77 60.5h1M80 48.5h1M77 63.5h1M73 67.5h1M98 45.5h1M80 41.5h1M77 61.5h1M84 37.5h1M79 65.5h1M87 39.5h1M74 64.5h1M72 64.5h1M76 68.5h1M75 48.5h1M76 63.5h1M77 56.5h1M70 65.5h1M80 68.5h1M85 51.5h1M77 63.5h1M63 70.5h1M94 43.5h1M81 48.5h1M72 69.5h1M78 61.5h1M65 71.5h1M89 43.5h1M78 60.5h1M68 66.5h1M96 55.5h1M89 47.5h1M70 69.5h1M74 57.5h1M77 66.5h1M87 41.5h1M77 70.5h1M91 63.5h1M84 40.5h1M78 62.5h1M67 63.5h1M76 51.5h1M75 65.5h1M79 72.5h1M83 67.5h1M64 63.5h1M84 55.5h1M96 54.5h1M63 62.5h1M72 62.5h1M78 63.5h1M89 62.5h1M93 52.5h1M87 37.5h1M88 40.5h1M77 62.5h1M71 64.5h1M88 42.5h1M93 41.5h1M87 39.5h1M82 37.5h1M75 64.5h1M83 64.5h1M96 62.5h1M87 61.5h1M74 53.5h1M86 42.5h1M76 69.5h1M81 49.5h1M77 64.5h1M75 68.5h1M82 61.5h1M82 56.5h1M78 50.5h1M86 64.5h1M75 61.5h1M79 62.5h1M93 36.5h1M69 66.5h1M76 59.5h1M69 66.5h1M82 60.5h1M66 66.5h1M66 63.5h1M64 64.5h1M81 54.5h1M93 44.5h1M76 64.5h1M79 63.5h1M65 72.5h1M93 46.5h1M84 52.5h1M95 58.5h1M84 59.5h1M65 70.5h1M69 68.5h1M79 40.5h1M88 45.5h1M78 62.5h1M65 69.5h1M88 56.5h1M74 65.5h1M75 67.5h1M71 65.5h1M91 49.5h1M67 62.5h1M77 61.5h1M82 38.5h1M83 64.5h1M81 68.5h1M66 66.5h1M66 65.5h1M76 41.5h1M84 59.5h1M87 45.5h1M95 51.5h1M75 66.5h1M72 65.5h1M79 61.5h1M71 68.5h1M77 64.5h1M95 62.5h1M69 61.5h1M94 64.5h1M76 67.5h1M78 45.5h1M78 64.5h1M61 67.5h1M86 44.5h1M81 48.5h1M76 52.5h1M75 38.5h1M93 57.5h1M84 63.5h1M72 62.5h1M98 41.5h1M81 67.5h1M71 65.5h1M64 70.5h1M82 41.5h1M95 48.5h1M89 53.5h1M76 60.5h1M68 61.5h1M82 64.5h1M82 50.5h1M84 61.5h1M70 64.5h1M80 67.5h1M79 55.5h1M76 65.5h1M68 68.5h1M76 61.5h1M95 38.5h1M80 64.5h1M73 55.5h1M72 64.5h1M78 61.5h1M74 57.5h1M73 66.5h1M72 63.5h1M73 57.5h1M80 41.5h1M86 55.5h1M92 52.5h1M79 66.5h1M82 58.5h1M73 64.5h1M80 50.5h1M73 64.5h1M83 64.5h1M70 70.5h1M72 63.5h1M94 51.5h1M92 47.5h1M76 61.5h1M75 70.5h1M90 49.5h1M77 62.5h1M77 68.5h1M82 56.5h1M83 58.5h1M96 46.5h1M88 52.5h1M69 64.5h1M75 62.5h1M85 56.5h1M74 65.5h1M66 68.5h1M86 59.5h1M89 61.5h1M70 66.5h1M77 64.5h1M83 38.5h1M73 66.5h1M81 53.5h1M83 49.5h1M81 62.5h1M85 42.5h1M74 64.5h1M66 65.5h1M81 42.5h1M68 72.5h1M86 66.5h1M80 63.5h1M66 61.5h1M83 65.5h1M93 53.5h1M81 48.5h1M92 39.5h1M88 43.5h1M71 66.5h1M76 58.5h1M70 69.5h1M87 64.5h1M80 70.5h1M90 41.5h1M93 61.5h1M83 59.5h1M73 71.5h1M79 61.5h1M73 64.5h1M84 62.5h1M87 56.5h1M77 56.5h1M89 60.5h1M74 64.5h1M82 43.5h1M59 70.5h1M71 70.5h1M91 56.5h1M81 62.5h1M78 63.5h1M71 72.5h1M81 57.5h1M89 48.5h1M78 67.5h1M84 54.5h1M92 59.5h1M89 48.5h1M70 65.5h1M76 64.5h1M97 57.5h1M67 68.5h1M78 62.5h1M70 74.5h1M68 60.5h1M88 61.5h1M84 61.5h1M89 46.5h1M90 57.5h1M84 62.5h1M79 63.5h1M87 64.5h1M88 43.5h1M73 61.5h1M95 51.5h1M87 52.5h1M81 63.5h1M81 37.5h1M82 64.5h1M69 66.5h1M67 69.5h1M87 46.5h1M88 42.5h1M76 65.5h1M75 64.5h1M80 63.5h1M98 59.5h1M80 66.5h1M95 60.5h1M86 43.5h1M94 54.5h1M98 61.5h1M72 69.5h1M77 51.5h1M83 65.5h1M71 64.5h1M64 68.5h1M86 36.5h1M73 66.5h1M92 57.5h1M76 65.5h1M71 70.5h1M92 51.5h1M73 68.5h1M97 58.5h1M74 66.5h1M70 70.5h1M87 39.5h1M70 67.5h1M72 60.5h1M87 41.5h1M81 62.5h1M73 69.5h1M85 59.5h1M80 65.5h1M87 50.5h1M69 67.5h1M79 49.5h1M72 66.5h1M91 61.5h1M63 68.5h1M79 64.5h1M89 65.5h1M86 55.5h1M65 72.5h1M79 43.5h1M82 43.5h1M76 39.5h1M87 37.5h1M85 45.5h1M88 50.5h1M96 59.5h1M85 61.5h1M77 41.5h1M90 48.5h1M69 70.5h1M97 58.5h1M84 62.5h1M93 62.5h1M67 66.5h1M98 43.5h1M87 37.5h1M85 42.5h1M76 65.5h1M86 41.5h1M87 43.5h1M87 46.5h1M77 69.5h1M76 66.5h1M96 41.5h1M90 62.5h1M91 55.5h1M80 71.5h1M79 37.5h1M67 64.5h1M89 62.5h1M76 68.5h1M75 46.5h1M94 47.5h1M80 64.5h1M88 41.5h1M81 67.5h1M80 50.5h1M81 62.5h1M77 48.5h1" stroke="#000" stroke-opacity="0.28" stroke-width="1" fill="none" filter="url(#bl0)"/>
<path d="M78 57.5h1M75 68.5h1M76 62.5h1M98 47.5h1M96 61.5h1M72 64.5h1M70 68.5h1M65 65.5h1M87 55.5h1M75 62.5h1M88 46.5h1M79 54.5h1M86 49.5h1M67 67.5h1M90 45.5h1M86 65.5h1M75 61.5h1M61 68.5h1M73 68.5h1M93 49.5h1M95 47.5h1M81 66.5h1M78 65.5h1M81 70.5h1M87 54.5h1M96 41.5h1M91 48.5h1M61 66.5h1M77 57.5h1M73 68.5h1M81 66.5h1M86 65.5h1M95 59.5h1M79 53.5h1M86 58.5h1M58 66.5h1M86 44.5h1M70 69.5h1M84 42.5h1M65 63.5h1M71 65.5h1M93 41.5h1M89 65.5h1M85 41.5h1M81 63.5h1M90 47.5h1M75 66.5h1M73 62.5h1M86 49.5h1M73 57.5h1M71 69.5h1M89 38.5h1M76 72.5h1M69 73.5h1M88 65.5h1M86 64.5h1M72 70.5h1M93 39.5h1M76 64.5h1M75 64.5h1M71 62.5h1M88 54.5h1M65 70.5h1M87 36.5h1M80 63.5h1M92 46.5h1M65 70.5h1M80 41.5h1M63 64.5h1M69 66.5h1M77 46.5h1M80 64.5h1M79 64.5h1M78 64.5h1M83 59.5h1M82 69.5h1M72 63.5h1M72 68.5h1M95 45.5h1M77 64.5h1M76 41.5h1M79 52.5h1M79 62.5h1M83 38.5h1M68 61.5h1M76 67.5h1M71 65.5h1M80 65.5h1M95 59.5h1M75 62.5h1M97 58.5h1M73 64.5h1M83 43.5h1M86 50.5h1M73 64.5h1M73 67.5h1M71 64.5h1M76 68.5h1M76 66.5h1M74 62.5h1M90 37.5h1M85 38.5h1M81 59.5h1M72 70.5h1M75 63.5h1M69 61.5h1M65 70.5h1M88 57.5h1M87 39.5h1M71 61.5h1M77 52.5h1M76 64.5h1M83 38.5h1M75 69.5h1M67 66.5h1M73 59.5h1M86 47.5h1M80 67.5h1M68 67.5h1M94 40.5h1M81 58.5h1M74 67.5h1M70 64.5h1M80 53.5h1M86 44.5h1M78 57.5h1M77 42.5h1M69 59.5h1M74 66.5h1M81 62.5h1M85 63.5h1M82 56.5h1M89 57.5h1M96 41.5h1M74 54.5h1M67 63.5h1M84 66.5h1M75 64.5h1M94 41.5h1M78 67.5h1M84 59.5h1M90 38.5h1M75 68.5h1M95 46.5h1M93 44.5h1M83 45.5h1M86 61.5h1M62 66.5h1M64 70.5h1M81 52.5h1M81 54.5h1M83 66.5h1M77 63.5h1M86 50.5h1M85 67.5h1M75 65.5h1M65 61.5h1M88 48.5h1M92 57.5h1M64 66.5h1M78 51.5h1M84 61.5h1M94 40.5h1M76 62.5h1M71 69.5h1M71 65.5h1M98 61.5h1M98 44.5h1M79 39.5h1M79 61.5h1M75 65.5h1M83 55.5h1M79 65.5h1M72 63.5h1M79 67.5h1M66 67.5h1M84 60.5h1M90 49.5h1M71 66.5h1M79 60.5h1M82 61.5h1M86 47.5h1M67 62.5h1M81 64.5h1M91 38.5h1M94 36.5h1M77 59.5h1M91 38.5h1M77 51.5h1M90 54.5h1M66 66.5h1M84 64.5h1M88 62.5h1M77 64.5h1M67 64.5h1M66 65.5h1M83 55.5h1M83 58.5h1M67 65.5h1M82 46.5h1M90 53.5h1M80 66.5h1M84 47.5h1M83 59.5h1M79 54.5h1M89 44.5h1M65 65.5h1M78 57.5h1M76 65.5h1M77 59.5h1M70 65.5h1M86 58.5h1M73 58.5h1M84 68.5h1M77 69.5h1M71 58.5h1M63 67.5h1M93 57.5h1M81 56.5h1M76 65.5h1M96 43.5h1M83 46.5h1M81 66.5h1M90 46.5h1M84 52.5h1M66 66.5h1M91 43.5h1M89 59.5h1M79 63.5h1M88 40.5h1M67 72.5h1M95 46.5h1M69 59.5h1M81 49.5h1M83 45.5h1M89 60.5h1M78 62.5h1M82 63.5h1M82 68.5h1M76 69.5h1M77 68.5h1M70 65.5h1M69 69.5h1M86 52.5h1M97 42.5h1M93 49.5h1M88 59.5h1M73 64.5h1M69 64.5h1M75 63.5h1M72 66.5h1M80 48.5h1M88 68.5h1M69 68.5h1M82 37.5h1M68 68.5h1M76 41.5h1M70 64.5h1M91 56.5h1M77 67.5h1M82 67.5h1M77 66.5h1M77 71.5h1M85 38.5h1M80 37.5h1M74 68.5h1M76 65.5h1M79 62.5h1M84 43.5h1M70 67.5h1M88 47.5h1M93 50.5h1M64 68.5h1M68 68.5h1M71 69.5h1M82 56.5h1M71 60.5h1M94 38.5h1M91 65.5h1M72 64.5h1M73 71.5h1M97 59.5h1M80 58.5h1M76 54.5h1M95 56.5h1M81 67.5h1M84 49.5h1M89 47.5h1M95 62.5h1M88 63.5h1M83 44.5h1M76 71.5h1M70 68.5h1M83 43.5h1M84 63.5h1M93 56.5h1M93 60.5h1M68 65.5h1M76 63.5h1M81 53.5h1M77 48.5h1M71 62.5h1M89 66.5h1M77 69.5h1M84 67.5h1M84 67.5h1M78 63.5h1M65 64.5h1M74 58.5h1M72 66.5h1M79 64.5h1M72 65.5h1M78 68.5h1M66 65.5h1M86 51.5h1M88 44.5h1M79 65.5h1M88 42.5h1M65 63.5h1M91 65.5h1M75 56.5h1M77 66.5h1M67 65.5h1M79 66.5h1M94 43.5h1M87 44.5h1M94 43.5h1M88 60.5h1M73 66.5h1M97 56.5h1M83 41.5h1M67 60.5h1M74 69.5h1M77 43.5h1M80 60.5h1M77 61.5h1M98 44.5h1M73 69.5h1M71 68.5h1M79 69.5h1M87 43.5h1M81 62.5h1M83 44.5h1M79 40.5h1M87 60.5h1M79 45.5h1M65 66.5h1M80 62.5h1M69 56.5h1M91 54.5h1M96 53.5h1M96 48.5h1M81 65.5h1M81 66.5h1M75 39.5h1M85 63.5h1M65 70.5h1M74 63.5h1M76 46.5h1M81 52.5h1M89 49.5h1M81 64.5h1M63 70.5h1M76 65.5h1M86 51.5h1M84 63.5h1M83 66.5h1M78 64.5h1M79 66.5h1M72 64.5h1M83 64.5h1M88 60.5h1M73 69.5h1M74 62.5h1M79 64.5h1M83 55.5h1M83 65.5h1M76 55.5h1M72 62.5h1M75 49.5h1M76 64.5h1M72 64.5h1M77 56.5h1M69 70.5h1M75 58.5h1M67 69.5h1M88 61.5h1M87 41.5h1M81 66.5h1M78 65.5h1M76 66.5h1M83 62.5h1M75 55.5h1M85 45.5h1M82 61.5h1M80 56.5h1M68 67.5h1M72 68.5h1M78 67.5h1M93 40.5h1M82 49.5h1M92 49.5h1M92 58.5h1M90 45.5h1M80 49.5h1M76 67.5h1M93 63.5h1M83 55.5h1M75 49.5h1M78 69.5h1M82 39.5h1M68 68.5h1M73 62.5h1M84 49.5h1M68 68.5h1M78 65.5h1" stroke="#000" stroke-opacity="0.28" stroke-width="1" fill="none" filter="url(#bl0)"/>
<path d="M72 61.5h1M73 64.5h1M73 60.5h1M82 59.5h1M92 51.5h1M95 60.5h1M84 47.5h1M77 65.5h1M84 65.5h1M74 65.5h1M75 68.5h1M74 69.5h1M95 42.5h1M68 68.5h1M93 51.5h1M85 65.5h1M77 58.5h1M65 67.5h1M98 59.5h1M72 60.5h1M88 43.5h1M91 65.5h1M94 50.5h1M77 66.5h1M93 54.5h1M89 46.5h1M75 47.5h1M91 59.5h1M90 60.5h1M77 65.5h1M85 57.5h1M89 59.5h1M83 51.5h1M84 43.5h1M79 65.5h1M86 62.5h1M80 69.5h1M75 61.5h1M62 65.5h1M91 47.5h1M78 57.5h1M94 44.5h1M78 60.5h1M70 67.5h1M87 57.5h1M70 63.5h1M84 62.5h1M77 46.5h1M91 61.5h1M69 65.5h1M66 69.5h1M97 42.5h1M82 66.5h1M77 59.5h1M76 65.5h1M84 42.5h1M84 65.5h1M93 55.5h1M84 63.5h1M90 45.5h1M68 61.5h1M76 66.5h1M77 63.5h1M88 59.5h1M77 69.5h1M70 69.5h1M92 50.5h1M88 43.5h1M94 52.5h1M80 65.5h1M82 69.5h1M95 50.5h1M68 61.5h1M76 45.5h1M77 58.5h1M78 59.5h1M91 56.5h1M91 63.5h1M96 62.5h1M84 53.5h1M87 40.5h1M79 64.5h1M84 48.5h1M83 63.5h1M85 55.5h1M70 67.5h1M98 48.5h1M84 46.5h1M83 59.5h1M82 52.5h1M77 38.5h1M78 69.5h1M76 62.5h1M68 68.5h1M65 65.5h1M75 65.5h1M92 54.5h1M64 68.5h1M80 44.5h1M94 47.5h1M78 68.5h1M69 66.5h1M71 61.5h1M65 65.5h1M74 67.5h1M89 61.5h1M63 64.5h1M81 57.5h1M74 62.5h1M69 58.5h1M79 64.5h1M88 66.5h1M85 59.5h1M70 65.5h1M84 65.5h1M88 36.5h1M66 67.5h1M91 52.5h1M73 67.5h1M77 53.5h1M88 66.5h1M83 42.5h1M76 50.5h1M81 68.5h1M78 67.5h1M87 64.5h1M95 41.5h1M73 62.5h1M83 68.5h1M89 56.5h1M77 66.5h1M73 67.5h1M88 65.5h1M75 44.5h1M67 64.5h1M73 69.5h1M81 67.5h1M76 67.5h1M75 65.5h1M88 67.5h1M84 65.5h1M69 66.5h1M89 47.5h1M71 59.5h1M86 54.5h1M82 62.5h1M88 44.5h1M89 42.5h1M93 50.5h1M71 65.5h1M72 66.5h1M71 65.5h1M95 45.5h1M79 59.5h1M75 57.5h1M84 38.5h1M75 60.5h1M81 47.5h1M78 42.5h1M86 45.5h1M86 53.5h1M82 61.5h1M88 43.5h1M68 65.5h1M77 61.5h1M87 61.5h1M92 52.5h1M92 51.5h1M81 62.5h1M70 62.5h1M88 64.5h1M75 67.5h1M68 70.5h1M86 44.5h1M79 41.5h1M68 65.5h1M83 56.5h1M92 65.5h1M86 50.5h1M89 48.5h1M75 63.5h1M92 38.5h1M74 69.5h1M74 64.5h1M76 48.5h1M76 75.5h1M78 45.5h1M77 64.5h1M69 71.5h1M77 70.5h1M80 64.5h1M77 43.5h1M69 71.5h1M78 58.5h1M85 64.5h1M84 53.5h1M82 55.5h1M68 66.5h1M98 57.5h1M88 63.5h1M88 47.5h1M74 67.5h1M61 63.5h1M74 65.5h1M68 65.5h1M72 66.5h1M75 63.5h1M76 64.5h1M68 60.5h1M85 47.5h1M76 62.5h1M71 70.5h1M81 39.5h1M81 51.5h1M77 63.5h1M60 69.5h1M91 66.5h1M74 68.5h1M79 61.5h1M85 62.5h1M80 37.5h1M84 67.5h1M91 64.5h1M77 63.5h1M69 62.5h1M84 63.5h1M68 64.5h1M79 65.5h1M70 65.5h1M78 58.5h1M89 40.5h1M84 62.5h1M81 64.5h1M77 59.5h1M80 67.5h1M78 48.5h1M82 64.5h1M92 41.5h1M78 62.5h1M88 56.5h1M79 66.5h1M81 44.5h1M84 39.5h1M88 34.5h1M82 62.5h1M87 45.5h1M77 65.5h1M85 49.5h1M82 38.5h1M95 64.5h1M83 58.5h1M84 58.5h1M68 64.5h1M76 71.5h1M78 42.5h1M77 63.5h1M73 69.5h1M87 61.5h1M82 38.5h1M88 55.5h1M77 65.5h1M95 40.5h1M87 55.5h1M87 62.5h1M73 62.5h1M88 51.5h1M71 64.5h1M68 68.5h1M86 58.5h1M70 65.5h1M65 64.5h1M73 63.5h1M70 65.5h1M71 63.5h1M95 62.5h1M76 55.5h1M74 66.5h1M66 70.5h1M86 50.5h1M77 70.5h1M82 39.5h1M72 65.5h1M78 47.5h1M78 63.5h1M75 55.5h1M86 59.5h1M67 68.5h1M92 52.5h1M63 63.5h1M93 52.5h1M80 64.5h1M72 63.5h1M63 64.5h1M65 67.5h1M93 43.5h1M73 67.5h1M87 66.5h1M70 68.5h1M94 50.5h1M76 67.5h1M79 63.5h1M65 68.5h1M75 65.5h1M77 51.5h1M76 73.5h1M84 43.5h1M67 59.5h1M78 61.5h1M75 43.5h1M73 66.5h1M86 56.5h1M77 67.5h1M72 68.5h1M74 57.5h1M83 62.5h1M79 61.5h1M91 52.5h1M89 41.5h1M83 69.5h1M93 46.5h1M84 57.5h1M70 70.5h1M82 57.5h1M66 62.5h1M78 40.5h1M67 64.5h1M77 56.5h1M65 72.5h1M93 63.5h1M84 68.5h1M86 63.5h1M88 66.5h1M74 69.5h1M81 43.5h1M80 48.5h1M79 48.5h1M84 50.5h1M82 38.5h1M65 68.5h1M65 70.5h1M80 59.5h1M89 62.5h1M77 69.5h1M85 58.5h1M85 57.5h1M96 55.5h1M87 58.5h1M76 63.5h1M85 50.5h1M94 64.5h1M74 63.5h1M91 48.5h1M81 60.5h1M84 55.5h1M76 61.5h1M82 65.5h1M77 63.5h1M82 49.5h1M86 62.5h1M71 68.5h1M84 65.5h1M86 50.5h1M73 63.5h1M69 64.5h1M73 62.5h1M81 59.5h1M93 49.5h1M68 72.5h1M90 67.5h1M90 51.5h1M78 66.5h1M70 59.5h1M83 41.5h1M68 63.5h1M87 67.5h1M87 61.5h1M90 51.5h1M77 50.5h1M75 56.5h1M77 62.5h1M69 63.5h1M88 58.5h1M78 66.5h1M98 59.5h1M75 59.5h1M82 50.5h1M80 61.5h1M67 65.5h1M73 63.5h1M74 68.5h1M73 62.5h1M73 59.5h1M72 71.5h1M84 47.5h1M68 65.5h1M67 68.5h1M70 69.5h1M75 57.5h1M89 42.5h1M81 60.5h1M92 54.5h1M85 37.5h1M89 50.5h1M73 60.5h1M86 63.5h1M93 59.5h1M87 54.5h1M91 53.5h1M88 49.5h1M76 60.5h1M75 63.5h1M91 57.5h1M75 58.5h1M79 63.5h1M90 57.5h1M83 65.5h1" stroke="#000" stroke-opacity="0.28" stroke-width="1" fill="none" filter="url(#bl0)"/>
<path d="M116 41.5h1M120 53.5h1M92 63.5h1M112 51.5h1M103 50.5h1M110 46.5h1M96 61.5h1M110 59.5h1M110 41.5h1M118 66.5h1M115 51.5h1M114 59.5h1M108 45.5h1M104 43.5h1M102 54.5h1M106 37.5h1M121 62.5h1M100 57.5h1M103 61.5h1M108 60.5h1M101 38.5h1M115 41.5h1M117 59.5h1M100 45.5h1M99 38.5h1M117 41.5h1M99 68.5h1M96 35.5h1M99 51.5h1M108 69.5h1M109 68.5h1M115 48.5h1M116 48.5h1M105 38.5h1M103 52.5h1M99 40.5h1M100 39.5h1M105 47.5h1M113 58.5h1M116 47.5h1M105 42.5h1M101 59.5h1M98 52.5h1M100 45.5h1M117 55.5h1M126 59.5h1M107 49.5h1M103 55.5h1M99 55.5h1M118 56.5h1M102 69.5h1M103 45.5h1M105 37.5h1M103 49.5h1M94 51.5h1M105 65.5h1M116 48.5h1M116 56.5h1M116 54.5h1M105 37.5h1M95 57.5h1M110 64.5h1M95 60.5h1M120 53.5h1M124 44.5h1M121 62.5h1M99 47.5h1M107 42.5h1M114 62.5h1M94 49.5h1M111 67.5h1M119 63.5h1M115 60.5h1M109 28.5h1M98 32.5h1M109 48.5h1M95 47.5h1M114 68.5h1M111 44.5h1M103 56.5h1M114 65.5h1M101 45.5h1M97 49.5h1M123 43.5h1M100 51.5h1M118 50.5h1M109 58.5h1M105 52.5h1M121 61.5h1M105 60.5h1M118 57.5h1M92 37.5h1M111 40.5h1M114 51.5h1M100 67.5h1M103 42.5h1M109 61.5h1M107 48.5h1M106 43.5h1M106 49.5h1M108 47.5h1M120 59.5h1M110 46.5h1M112 61.5h1M102 52.5h1M106 61.5h1M115 58.5h1M106 44.5h1M113 46.5h1M106 42.5h1M118 57.5h1M120 46.5h1M104 65.5h1M116 40.5h1M108 61.5h1M105 60.5h1M102 50.5h1M113 51.5h1M110 63.5h1M119 47.5h1M110 57.5h1M106 59.5h1M96 59.5h1M96 39.5h1M99 40.5h1M120 68.5h1M106 46.5h1M108 42.5h1M105 49.5h1M106 53.5h1M120 51.5h1M120 56.5h1M112 49.5h1M104 45.5h1M112 58.5h1M97 50.5h1M125 57.5h1M103 49.5h1M105 49.5h1M113 58.5h1M124 55.5h1M109 53.5h1M106 61.5h1M109 62.5h1M115 59.5h1M121 63.5h1M107 48.5h1M126 42.5h1M99 54.5h1M101 36.5h1M116 65.5h1M96 56.5h1M119 52.5h1M117 58.5h1M104 61.5h1M106 50.5h1M109 41.5h1M103 64.5h1M101 42.5h1M96 40.5h1M112 44.5h1M105 41.5h1M110 66.5h1M103 46.5h1M111 59.5h1M101 48.5h1M104 41.5h1M105 71.5h1M115 48.5h1M110 61.5h1M123 48.5h1M112 50.5h1M114 57.5h1M121 57.5h1M96 39.5h1M103 61.5h1M109 45.5h1M112 47.5h1M103 53.5h1M106 66.5h1M101 48.5h1M113 58.5h1M98 64.5h1M109 51.5h1M102 35.5h1M109 57.5h1M98 51.5h1M109 47.5h1M112 54.5h1M109 36.5h1M101 44.5h1M99 53.5h1M105 43.5h1M104 48.5h1M95 38.5h1M109 64.5h1M108 46.5h1M101 46.5h1M104 40.5h1M116 46.5h1M97 51.5h1M100 59.5h1M126 51.5h1M98 56.5h1M127 64.5h1M100 31.5h1M99 45.5h1M93 49.5h1M119 59.5h1M105 48.5h1M95 56.5h1M109 57.5h1M108 74.5h1M113 58.5h1M111 44.5h1M110 52.5h1M106 54.5h1M114 61.5h1M100 54.5h1M105 46.5h1M117 60.5h1M116 55.5h1M89 37.5h1M106 51.5h1M120 39.5h1M101 60.5h1M107 51.5h1M97 46.5h1M100 63.5h1M92 47.5h1M106 48.5h1M101 44.5h1M100 45.5h1M92 61.5h1M109 48.5h1M100 42.5h1M102 68.5h1M100 44.5h1M113 66.5h1M105 52.5h1M108 43.5h1M115 52.5h1M121 60.5h1M117 54.5h1M111 53.5h1M108 41.5h1M113 55.5h1M118 61.5h1M124 49.5h1M104 52.5h1M97 61.5h1M105 40.5h1M100 51.5h1M106 70.5h1M101 60.5h1M111 39.5h1M118 46.5h1M100 63.5h1M111 57.5h1M99 45.5h1M108 46.5h1M108 52.5h1M102 47.5h1M110 50.5h1M114 63.5h1M109 54.5h1M111 43.5h1M105 49.5h1M96 37.5h1M104 65.5h1M123 50.5h1M124 58.5h1M102 46.5h1M95 54.5h1M110 47.5h1" stroke="#000" stroke-opacity="0.12" stroke-width="1" fill="none" filter="url(#bl0)"/>
<path d="M113 63.5h1M106 57.5h1M102 48.5h1M112 57.5h1M100 53.5h1M95 50.5h1M91 56.5h1M106 49.5h1M102 48.5h1M105 41.5h1M106 47.5h1M119 58.5h1M116 61.5h1M100 65.5h1M113 47.5h1M92 50.5h1M99 40.5h1M119 48.5h1M120 57.5h1M115 70.5h1M103 34.5h1M102 37.5h1M102 47.5h1M100 44.5h1M107 33.5h1M102 67.5h1M97 56.5h1M100 61.5h1M99 53.5h1M122 62.5h1M107 58.5h1M108 49.5h1M106 60.5h1M111 48.5h1M111 56.5h1M114 61.5h1M110 50.5h1M97 47.5h1M102 49.5h1M102 54.5h1M105 50.5h1M102 45.5h1M106 58.5h1M106 42.5h1M107 41.5h1M107 41.5h1M102 62.5h1M118 51.5h1M118 55.5h1M102 46.5h1M106 39.5h1M95 47.5h1M110 48.5h1M104 50.5h1M109 47.5h1M93 56.5h1M114 51.5h1M88 27.5h1M112 52.5h1M89 45.5h1M115 47.5h1M87 56.5h1M105 48.5h1M107 41.5h1M99 30.5h1M101 55.5h1M109 55.5h1M100 46.5h1M111 65.5h1M118 55.5h1M114 51.5h1M107 52.5h1M92 50.5h1M101 47.5h1M113 42.5h1M116 77.5h1M107 48.5h1M116 60.5h1M100 46.5h1M103 48.5h1M108 58.5h1M106 45.5h1M112 38.5h1M95 65.5h1M114 43.5h1M114 43.5h1M102 55.5h1M106 59.5h1M104 45.5h1M107 50.5h1M102 53.5h1M106 44.5h1M109 39.5h1M110 46.5h1M115 41.5h1M104 44.5h1M101 48.5h1M115 68.5h1M106 59.5h1M106 47.5h1M109 49.5h1M110 62.5h1M92 50.5h1M96 43.5h1M111 58.5h1M100 48.5h1M100 48.5h1M116 62.5h1M118 56.5h1M103 49.5h1M108 53.5h1M112 43.5h1M99 50.5h1M108 48.5h1M111 58.5h1M100 59.5h1M111 48.5h1M111 62.5h1M115 40.5h1M107 52.5h1M101 42.5h1M116 35.5h1M105 59.5h1M107 41.5h1M100 48.5h1M100 58.5h1M118 53.5h1M101 49.5h1M114 53.5h1M99 53.5h1M112 62.5h1M100 58.5h1M117 60.5h1M106 65.5h1M117 37.5h1M117 59.5h1M108 54.5h1M103 56.5h1M103 59.5h1M100 44.5h1M103 44.5h1M104 50.5h1M112 54.5h1M107 41.5h1M114 50.5h1M110 54.5h1M117 63.5h1M89 52.5h1M107 56.5h1M109 69.5h1M111 59.5h1M92 56.5h1M120 56.5h1M110 51.5h1M97 37.5h1M99 69.5h1M108 62.5h1M102 53.5h1M116 55.5h1M104 47.5h1M116 47.5h1M114 52.5h1M116 39.5h1M105 50.5h1M103 65.5h1M113 50.5h1M106 39.5h1M110 57.5h1M122 52.5h1M104 50.5h1M106 43.5h1M99 51.5h1M105 53.5h1M93 64.5h1M113 46.5h1M104 53.5h1M102 46.5h1M102 44.5h1M102 34.5h1M115 57.5h1M116 60.5h1M121 47.5h1M100 48.5h1M104 70.5h1M110 59.5h1M102 45.5h1M113 62.5h1M99 54.5h1M105 46.5h1M112 44.5h1M100 47.5h1M102 43.5h1M103 65.5h1M116 54.5h1M109 59.5h1M113 57.5h1M94 57.5h1M100 38.5h1M100 46.5h1M95 54.5h1M106 53.5h1M112 49.5h1M117 52.5h1M108 50.5h1M120 51.5h1M122 63.5h1M109 48.5h1M109 46.5h1M97 43.5h1M106 56.5h1M101 58.5h1M96 56.5h1M113 61.5h1M105 56.5h1M100 56.5h1M114 55.5h1M101 33.5h1M103 51.5h1M105 56.5h1M110 45.5h1M110 53.5h1M119 64.5h1M112 49.5h1M107 51.5h1M121 57.5h1M93 50.5h1M108 63.5h1M109 48.5h1M105 43.5h1M93 41.5h1M97 61.5h1M104 51.5h1M101 48.5h1M94 43.5h1M123 30.5h1M108 59.5h1M104 54.5h1M101 39.5h1M106 36.5h1M110 44.5h1M111 61.5h1M106 55.5h1M116 34.5h1M103 54.5h1M117 46.5h1M107 40.5h1M110 48.5h1M107 48.5h1M98 63.5h1M112 48.5h1M116 53.5h1M120 68.5h1M107 48.5h1M111 56.5h1M110 49.5h1M120 35.5h1M121 50.5h1M97 44.5h1M98 59.5h1M105 55.5h1M102 50.5h1M93 59.5h1M104 56.5h1M89 47.5h1M118 73.5h1M97 42.5h1M100 53.5h1M97 44.5h1M111 47.5h1M100 49.5h1M107 37.5h1M116 32.5h1M109 51.5h1M100 55.5h1M100 49.5h1" stroke="#000" stroke-opacity="0.12" stroke-width="1" fill="none" filter="url(#bl0)"/>
<path d="M113 47.5h1M103 55.5h1M101 43.5h1M106 38.5h1M105 52.5h1M113 58.5h1M116 34.5h1M117 51.5h1M100 46.5h1M103 47.5h1M111 60.5h1M105 49.5h1M110 47.5h1M99 49.5h1M108 56.5h1M102 45.5h1M100 35.5h1M124 61.5h1M114 54.5h1M110 40.5h1M103 48.5h1M113 68.5h1M100 50.5h1M105 49.5h1M113 56.5h1M112 56.5h1M107 53.5h1M100 41.5h1M114 69.5h1M93 61.5h1M103 58.5h1M117 44.5h1M97 47.5h1M106 49.5h1M105 35.5h1M112 59.5h1M107 48.5h1M107 42.5h1M97 67.5h1M113 52.5h1M110 47.5h1M105 60.5h1M112 46.5h1M116 65.5h1M109 60.5h1M103 53.5h1M107 75.5h1M109 46.5h1M104 54.5h1M103 43.5h1M104 54.5h1M106 58.5h1M92 48.5h1M117 56.5h1M107 45.5h1M94 48.5h1M103 56.5h1M108 49.5h1M90 60.5h1M120 59.5h1M106 48.5h1M117 63.5h1M100 51.5h1M102 51.5h1M105 56.5h1M94 42.5h1M106 40.5h1M113 59.5h1M107 61.5h1M119 60.5h1M110 43.5h1M109 69.5h1M101 57.5h1M96 53.5h1M105 54.5h1M101 55.5h1M97 50.5h1M102 51.5h1M99 36.5h1M96 42.5h1M95 43.5h1M106 57.5h1M107 50.5h1M119 54.5h1M104 47.5h1M110 49.5h1M97 40.5h1M113 50.5h1M112 63.5h1M115 53.5h1M107 56.5h1M109 45.5h1M108 62.5h1M101 51.5h1M106 55.5h1M101 65.5h1M107 44.5h1M114 45.5h1M110 51.5h1M87 40.5h1M118 60.5h1M112 38.5h1M121 57.5h1M109 52.5h1M113 59.5h1M111 45.5h1M117 59.5h1M100 49.5h1M106 49.5h1M101 62.5h1M106 51.5h1M107 57.5h1M98 50.5h1M97 48.5h1M106 50.5h1M93 56.5h1M100 49.5h1M99 47.5h1M108 60.5h1M106 47.5h1M122 61.5h1M109 39.5h1M115 58.5h1M107 46.5h1M115 63.5h1M118 44.5h1M97 43.5h1M105 62.5h1M101 46.5h1M106 61.5h1M89 50.5h1M120 48.5h1M105 42.5h1M102 41.5h1M110 55.5h1M120 33.5h1M102 47.5h1M110 62.5h1M104 41.5h1M117 53.5h1M103 61.5h1M105 56.5h1M110 46.5h1M115 63.5h1M110 58.5h1M102 55.5h1M108 41.5h1M106 58.5h1M115 65.5h1M94 34.5h1M97 46.5h1M103 44.5h1M114 56.5h1M100 31.5h1M100 49.5h1M107 58.5h1M118 71.5h1M106 52.5h1M101 53.5h1M103 46.5h1M108 46.5h1M118 52.5h1M117 63.5h1M114 62.5h1M106 49.5h1M110 55.5h1M112 52.5h1M100 47.5h1M106 46.5h1M115 59.5h1M111 51.5h1M122 34.5h1M118 39.5h1M95 60.5h1M105 44.5h1M98 50.5h1M108 52.5h1M96 61.5h1M94 51.5h1M113 52.5h1M101 64.5h1M108 29.5h1M110 50.5h1M112 46.5h1M107 54.5h1M111 47.5h1M101 42.5h1M108 59.5h1M109 57.5h1M124 41.5h1M104 50.5h1M103 39.5h1M104 45.5h1M108 48.5h1M104 37.5h1M92 41.5h1M105 41.5h1M100 51.5h1M94 58.5h1M108 47.5h1M109 73.5h1M108 48.5h1M117 54.5h1M116 64.5h1M118 47.5h1M102 54.5h1M105 59.5h1M121 44.5h1M103 52.5h1M119 61.5h1M117 62.5h1M85 40.5h1M105 49.5h1M102 40.5h1M107 34.5h1M123 57.5h1M106 42.5h1M90 46.5h1M101 43.5h1M112 57.5h1M110 30.5h1M120 40.5h1M94 59.5h1M116 42.5h1M87 51.5h1M101 61.5h1M98 51.5h1M103 57.5h1M118 66.5h1M115 56.5h1M101 50.5h1M104 53.5h1M104 58.5h1M105 48.5h1M100 46.5h1M106 53.5h1M115 52.5h1M110 30.5h1M126 52.5h1M97 54.5h1M102 48.5h1M124 46.5h1M104 55.5h1M117 49.5h1M111 57.5h1M112 59.5h1M101 50.5h1M108 44.5h1M112 43.5h1M101 53.5h1M106 53.5h1M109 62.5h1M112 57.5h1M111 57.5h1M122 75.5h1M113 51.5h1M116 61.5h1M110 40.5h1M104 58.5h1M116 38.5h1M105 63.5h1M100 45.5h1M106 55.5h1M101 54.5h1M97 47.5h1M101 56.5h1M95 35.5h1M98 48.5h1M111 29.5h1M110 60.5h1M105 69.5h1M92 46.5h1M116 53.5h1M105 44.5h1M105 48.5h1" stroke="#000" stroke-opacity="0.12" stroke-width="1" fill="none" filter="url(#bl0)"/>
<path d="M62 47.5h1M58 53.5h1M60 42.5h1M64 47.5h1M70 36.5h1M60 55.5h1M67 45.5h1M59 44.5h1M64 44.5h1M61 44.5h1M66 39.5h1M59 38.5h1M61 43.5h1M62 43.5h1M68 40.5h1M69 37.5h1M63 48.5h1M61 38.5h1M61 48.5h1M63 32.5h1M60 47.5h1M59 40.5h1M57 44.5h1M60 43.5h1M63 36.5h1M62 53.5h1M61 46.5h1M67 53.5h1M65 46.5h1M72 44.5h1M67 50.5h1M65 42.5h1M62 42.5h1M65 51.5h1M59 48.5h1M68 43.5h1M57 47.5h1M69 43.5h1M62 45.5h1M62 47.5h1M70 47.5h1M59 40.5h1M67 47.5h1M60 47.5h1M62 58.5h1M61 39.5h1M65 39.5h1M62 45.5h1M57 32.5h1M63 44.5h1M63 39.5h1M56 44.5h1M64 36.5h1M63 47.5h1M65 40.5h1M65 44.5h1M65 46.5h1M67 41.5h1M57 57.5h1M66 45.5h1M59 45.5h1M58 52.5h1M68 36.5h1M62 47.5h1M61 48.5h1M63 46.5h1M63 31.5h1M62 40.5h1M68 42.5h1M61 37.5h1M68 46.5h1M56 48.5h1M61 42.5h1M57 38.5h1M63 51.5h1M63 38.5h1M60 35.5h1M61 42.5h1M69 40.5h1M59 46.5h1M66 38.5h1M65 44.5h1M61 45.5h1M64 41.5h1M62 42.5h1M65 40.5h1M63 47.5h1M64 29.5h1M61 41.5h1M67 38.5h1M67 54.5h1M57 45.5h1M64 38.5h1M67 48.5h1M60 45.5h1M69 40.5h1M63 55.5h1M59 47.5h1M64 37.5h1M65 46.5h1M63 57.5h1M58 42.5h1M61 38.5h1M69 37.5h1M63 41.5h1" stroke="#000" stroke-opacity="0.2" stroke-width="1" fill="none" filter="url(#bl0)"/>
<path d="M65 49.5h1M69 49.5h1M61 34.5h1M58 53.5h1M60 41.5h1M67 39.5h1M68 43.5h1M64 44.5h1M65 42.5h1M61 35.5h1M64 44.5h1M67 39.5h1M59 39.5h1M61 40.5h1M58 31.5h1M69 46.5h1M65 45.5h1M66 42.5h1M58 46.5h1M58 45.5h1M63 41.5h1M65 46.5h1M58 42.5h1M65 47.5h1M67 35.5h1M68 37.5h1M60 48.5h1M63 44.5h1M62 35.5h1M62 48.5h1M63 38.5h1M63 51.5h1M61 50.5h1M64 42.5h1M66 43.5h1M59 41.5h1M61 45.5h1M60 52.5h1M58 43.5h1M58 47.5h1M70 46.5h1M57 59.5h1M71 36.5h1M63 41.5h1M61 43.5h1M68 50.5h1M60 43.5h1M64 51.5h1M60 55.5h1M58 42.5h1M60 37.5h1M59 46.5h1M59 37.5h1M69 50.5h1M65 42.5h1M56 45.5h1M67 41.5h1M65 37.5h1M70 47.5h1M67 42.5h1M62 53.5h1M64 40.5h1M63 39.5h1M61 38.5h1M64 50.5h1M61 43.5h1M65 51.5h1M57 42.5h1M68 43.5h1M59 47.5h1M63 39.5h1M67 50.5h1M60 47.5h1M65 52.5h1M68 44.5h1M58 45.5h1M64 32.5h1M58 47.5h1M61 47.5h1M58 37.5h1M63 42.5h1M62 37.5h1M66 43.5h1M63 51.5h1M60 38.5h1M69 50.5h1M66 50.5h1M59 42.5h1M62 35.5h1M66 38.5h1M60 40.5h1M63 44.5h1M59 41.5h1M61 50.5h1M63 40.5h1M59 44.5h1M60 47.5h1M61 51.5h1M66 37.5h1M66 40.5h1M63 45.5h1M63 47.5h1M58 51.5h1M65 42.5h1M68 38.5h1" stroke="#000" stroke-opacity="0.2" stroke-width="1" fill="none" filter="url(#bl0)"/>
<path d="M60 48.5h1M62 43.5h1M58 44.5h1M63 40.5h1M63 50.5h1M66 47.5h1M58 38.5h1M63 47.5h1M60 49.5h1M66 47.5h1M61 39.5h1M64 36.5h1M61 45.5h1M67 42.5h1M65 35.5h1M56 33.5h1M64 36.5h1M57 31.5h1M67 41.5h1M56 48.5h1M64 42.5h1M64 43.5h1M57 47.5h1M60 53.5h1M64 42.5h1M66 50.5h1M59 41.5h1M63 50.5h1M63 43.5h1M62 45.5h1M61 55.5h1M57 44.5h1M61 41.5h1M72 41.5h1M58 40.5h1M60 37.5h1M61 39.5h1M70 43.5h1M64 42.5h1M68 39.5h1M67 45.5h1M68 43.5h1M57 49.5h1M57 39.5h1M64 50.5h1M67 44.5h1M60 42.5h1M59 39.5h1M63 47.5h1M63 45.5h1M57 39.5h1M60 51.5h1M68 29.5h1M61 47.5h1M65 39.5h1M62 43.5h1M65 47.5h1M59 42.5h1M61 49.5h1M57 43.5h1M63 50.5h1M59 43.5h1M65 45.5h1M64 47.5h1M64 40.5h1M68 48.5h1M56 44.5h1M62 54.5h1M57 36.5h1M72 40.5h1M68 47.5h1M61 42.5h1M65 53.5h1M62 35.5h1M59 53.5h1M58 41.5h1M69 42.5h1M58 41.5h1M65 43.5h1M60 44.5h1M68 35.5h1M61 45.5h1M65 38.5h1M60 38.5h1M67 42.5h1M69 40.5h1M63 36.5h1M62 43.5h1M66 53.5h1M65 45.5h1M64 41.5h1M63 42.5h1M66 36.5h1M68 41.5h1M63 38.5h1M65 45.5h1M68 42.5h1M63 38.5h1M58 51.5h1M59 43.5h1M60 53.5h1M68 46.5h1M65 41.5h1M68 53.5h1M61 47.5h1" stroke="#000" stroke-opacity="0.2" stroke-width="1" fill="none" filter="url(#bl0)"/>
<path d="M60 68.5h1M59 77.5h1M61 73.5h1M59 70.5h1M59 74.5h1M60 66.5h1M59 69.5h1M62 68.5h1M63 71.5h1M59 65.5h1M59 58.5h1M61 80.5h1M62 70.5h1M60 70.5h1M61 64.5h1M58 64.5h1M61 75.5h1M61 65.5h1M58 75.5h1M61 60.5h1M61 63.5h1M63 64.5h1M62 67.5h1M59 74.5h1M61 76.5h1M59 78.5h1M61 65.5h1M61 84.5h1M59 73.5h1M60 66.5h1M61 77.5h1M63 80.5h1M58 68.5h1M59 67.5h1M62 72.5h1M60 80.5h1M62 74.5h1M61 74.5h1M60 64.5h1M59 78.5h1M60 67.5h1M62 78.5h1M61 73.5h1M60 75.5h1M63 67.5h1M60 68.5h1M59 75.5h1M60 79.5h1M62 65.5h1M60 66.5h1M61 74.5h1M63 70.5h1M61 69.5h1M64 65.5h1" stroke="#000" stroke-opacity="0.25" stroke-width="1" fill="none" filter="url(#bl0)"/>
<path d="M60 68.5h1M60 69.5h1M57 71.5h1M63 67.5h1M62 70.5h1M62 73.5h1M60 65.5h1M60 72.5h1M63 75.5h1M61 70.5h1M59 75.5h1M62 67.5h1M62 65.5h1M60 77.5h1M60 74.5h1M58 71.5h1M62 72.5h1M60 62.5h1M62 68.5h1M58 76.5h1M59 68.5h1M60 68.5h1M60 61.5h1M62 76.5h1M60 78.5h1M61 64.5h1M63 57.5h1M60 75.5h1M63 71.5h1M61 72.5h1M59 76.5h1M59 75.5h1M60 65.5h1M59 76.5h1M61 74.5h1M61 64.5h1M63 82.5h1M61 76.5h1M61 66.5h1M64 76.5h1M59 70.5h1M62 73.5h1M59 70.5h1M61 64.5h1M60 70.5h1M61 64.5h1M60 72.5h1M60 70.5h1M61 66.5h1M62 70.5h1M61 77.5h1M60 73.5h1M59 75.5h1" stroke="#000" stroke-opacity="0.25" stroke-width="1" fill="none" filter="url(#bl0)"/>
<path d="M61 69.5h1M60 80.5h1M62 69.5h1M60 73.5h1M59 72.5h1M62 71.5h1M59 70.5h1M60 73.5h1M59 73.5h1M59 73.5h1M61 68.5h1M59 72.5h1M61 76.5h1M60 73.5h1M59 73.5h1M59 64.5h1M61 60.5h1M60 69.5h1M60 76.5h1M61 72.5h1M60 66.5h1M62 77.5h1M64 79.5h1M61 72.5h1M62 68.5h1M61 76.5h1M63 70.5h1M62 74.5h1M57 67.5h1M60 72.5h1M58 79.5h1M61 70.5h1M59 78.5h1M61 64.5h1M59 75.5h1M59 69.5h1M61 64.5h1M62 62.5h1M60 74.5h1M61 71.5h1M61 77.5h1M61 61.5h1M61 68.5h1M61 65.5h1M60 77.5h1M61 73.5h1M59 78.5h1M63 71.5h1M61 71.5h1M60 70.5h1M59 69.5h1M60 77.5h1M62 72.5h1" stroke="#000" stroke-opacity="0.25" stroke-width="1" fill="none" filter="url(#bl0)"/>
<path d="M77 63.5h1M66 41.5h1M73 48.5h1M59 45.5h1M72 57.5h1M72 46.5h1M68 46.5h1M59 59.5h1M70 56.5h1M79 48.5h1M71 50.5h1M63 36.5h1M68 55.5h1M59 46.5h1M81 57.5h1M61 38.5h1M61 46.5h1M57 59.5h1M87 63.5h1M67 41.5h1M76 50.5h1M79 54.5h1M78 63.5h1M72 60.5h1M77 46.5h1M66 51.5h1M84 58.5h1M61 44.5h1M69 56.5h1M68 51.5h1M75 42.5h1M64 43.5h1M71 53.5h1M57 68.5h1M68 70.5h1M59 56.5h1M79 48.5h1M81 39.5h1M61 65.5h1M79 49.5h1M60 67.5h1M71 60.5h1M61 54.5h1M62 55.5h1M80 62.5h1M61 56.5h1M58 52.5h1M80 45.5h1M95 60.5h1M80 55.5h1M69 31.5h1M83 50.5h1M59 39.5h1M69 59.5h1M67 53.5h1M70 42.5h1M79 55.5h1M74 37.5h1M71 44.5h1M56 52.5h1M66 49.5h1M74 52.5h1M67 48.5h1M67 59.5h1M77 67.5h1M77 46.5h1M64 51.5h1M71 38.5h1M85 51.5h1M75 38.5h1M70 56.5h1M73 40.5h1M93 46.5h1M69 47.5h1M67 34.5h1M70 49.5h1M75 41.5h1M69 65.5h1M62 55.5h1M57 41.5h1M56 45.5h1M67 63.5h1M56 58.5h1M67 50.5h1" stroke="#000" stroke-opacity="0.14" stroke-width="1" fill="none" filter="url(#bl0)"/>
<path d="M71 67.5h1M75 58.5h1M81 43.5h1M67 47.5h1M58 69.5h1M75 47.5h1M67 56.5h1M67 51.5h1M74 55.5h1M67 53.5h1M75 51.5h1M73 55.5h1M88 51.5h1M73 52.5h1M82 55.5h1M70 48.5h1M62 43.5h1M67 43.5h1M68 60.5h1M80 56.5h1M86 60.5h1M57 47.5h1M81 75.5h1M59 38.5h1M74 51.5h1M79 75.5h1M69 53.5h1M63 38.5h1M81 69.5h1M80 57.5h1M75 55.5h1M76 46.5h1M70 54.5h1M68 46.5h1M70 50.5h1M62 45.5h1M63 69.5h1M72 56.5h1M66 61.5h1M88 45.5h1M60 41.5h1M63 71.5h1M68 43.5h1M79 51.5h1M71 52.5h1M62 41.5h1M70 64.5h1M59 49.5h1M73 59.5h1M65 39.5h1M64 41.5h1M71 48.5h1M70 63.5h1M76 40.5h1M82 53.5h1M67 40.5h1M88 52.5h1M77 62.5h1M75 49.5h1M63 62.5h1M63 49.5h1M77 58.5h1M78 61.5h1M73 66.5h1M79 47.5h1M79 57.5h1M69 40.5h1M88 72.5h1M67 44.5h1M67 42.5h1M63 54.5h1M62 45.5h1M76 44.5h1M71 45.5h1M85 57.5h1M81 65.5h1M56 62.5h1M67 47.5h1M58 35.5h1M79 59.5h1M73 66.5h1M78 67.5h1M64 45.5h1" stroke="#000" stroke-opacity="0.14" stroke-width="1" fill="none" filter="url(#bl0)"/>
<path d="M64 51.5h1M75 44.5h1M71 44.5h1M66 62.5h1M73 45.5h1M81 47.5h1M84 63.5h1M71 47.5h1M73 31.5h1M70 46.5h1M71 51.5h1M69 53.5h1M76 67.5h1M66 47.5h1M59 51.5h1M68 51.5h1M79 63.5h1M80 72.5h1M75 42.5h1M83 55.5h1M62 50.5h1M72 56.5h1M69 52.5h1M72 51.5h1M87 46.5h1M57 62.5h1M71 49.5h1M73 31.5h1M73 75.5h1M79 48.5h1M71 46.5h1M78 54.5h1M64 42.5h1M81 44.5h1M73 51.5h1M74 56.5h1M65 57.5h1M77 42.5h1M63 56.5h1M74 56.5h1M72 40.5h1M72 55.5h1M63 38.5h1M65 54.5h1M60 55.5h1M60 56.5h1M85 57.5h1M63 48.5h1M73 64.5h1M69 54.5h1M70 59.5h1M77 60.5h1M83 71.5h1M77 66.5h1M70 62.5h1M70 49.5h1M60 40.5h1M80 59.5h1M73 55.5h1M77 51.5h1M80 54.5h1M80 45.5h1M57 58.5h1M74 27.5h1M89 48.5h1M68 56.5h1M82 39.5h1M67 52.5h1M62 64.5h1M76 40.5h1M65 72.5h1M72 41.5h1M82 49.5h1M86 56.5h1M80 71.5h1M57 40.5h1M73 49.5h1M77 53.5h1M67 43.5h1M73 54.5h1M78 57.5h1M64 35.5h1M74 61.5h1" stroke="#000" stroke-opacity="0.14" stroke-width="1" fill="none" filter="url(#bl0)"/>
<path d="M75.2 43.5 C75.54 41.93 75.74 40.73 76.6 39.6 C77.46 38.47 78.7 37.8 80 37.2 C81.3 36.6 82.23 36.34 83.8 36.25 C85.37 36.16 86.79 36.35 88.7 36.7 C90.61 37.05 92.76 37.34 94.4 38.2 C96.04 39.06 97.02 40.2 97.8 41.5 C98.58 42.8 98.84 44.01 98.75 45.4 C98.66 46.79 98.05 47.96 97.3 49.2 C96.55 50.44 94.94 51.38 94.6 52.3 C94.26 53.22 94.73 53.63 95.4 54.3 C96.07 54.97 97.62 55.19 98.3 56 C98.98 56.81 99.12 57.77 99.2 58.8 C99.28 59.83 99.43 60.66 98.75 61.7 C98.07 62.74 97.05 63.56 95.4 64.6 C93.75 65.64 91.85 66.55 89.6 67.5 C87.35 68.45 85.49 69.13 82.9 69.9 C80.31 70.67 77.97 71.46 75.2 71.8 C72.43 72.14 69.5 72.23 67.5 71.8 C65.5 71.37 64.78 70.52 64.1 69.4 C63.42 68.28 63.61 66.99 63.7 65.6 C63.79 64.21 63.74 62.92 64.6 61.7 C65.46 60.48 66.93 59.83 68.5 58.8 C70.07 57.77 72.09 57.03 73.3 56 C74.51 54.97 74.95 54.49 75.2 53.1 C75.45 51.71 74.7 50.03 74.7 48.3 C74.7 46.57 74.86 45.07 75.2 43.5Z" fill="none" stroke="#111" stroke-width="1.4"/>
<rect x="55" y="18.9" width="73.3" height="72.4" fill="none" stroke="#111" stroke-width="1.4"/>
<path d="M51.5 26.2H55" stroke="#111" stroke-width="1.2"/>
<text x="48.2" y="29.1" font-size="8" text-anchor="end" fill="#111">10<tspan font-size="5.6" dy="-3.4">5</tspan></text>
<path d="M51.5 42.5H55" stroke="#111" stroke-width="1.2"/>
<text x="48.2" y="45.4" font-size="8" text-anchor="end" fill="#111">10<tspan font-size="5.6" dy="-3.4">4</tspan></text>
<path d="M51.5 62.6H55" stroke="#111" stroke-width="1.2"/>
<text x="48.2" y="65.5" font-size="8" text-anchor="end" fill="#111">10<tspan font-size="5.6" dy="-3.4">3</tspan></text>
<path d="M51.5 75.6H55" stroke="#111" stroke-width="1.2"/>
<text x="48.2" y="78.5" font-size="8" text-anchor="end" fill="#111">0</text>
<rect x="52" y="74.1" width="3" height="3" fill="#111"/>
<path d="M51.5 88H55" stroke="#111" stroke-width="1.2"/>
<text x="48.2" y="90.9" font-size="8" text-anchor="end" fill="#111">−10<tspan font-size="5.6" dy="-3.4">3</tspan></text>
<path d="M53.2 29.46H55M53.2 32.72H55M53.2 35.98H55M53.2 39.24H55M53.2 46.52H55M53.2 50.54H55M53.2 54.56H55M53.2 58.58H55M53.2 65.2H55M53.2 67.8H55M53.2 70.4H55M53.2 73H55M53.2 78.08H55M53.2 80.56H55M53.2 83.04H55M53.2 85.52H55" stroke="#111" stroke-width=".9"/>
<path d="M55.7 91.3V94.5" stroke="#111" stroke-width="1.2"/>
<text x="55.7" y="106" font-size="8" text-anchor="middle" fill="#111">0</text>
<path d="M82.2 91.3V94.5" stroke="#111" stroke-width="1.2"/>
<text x="82.2" y="106" font-size="8" text-anchor="middle" fill="#111">100K</text>
<path d="M110.7 91.3V94.5" stroke="#111" stroke-width="1.2"/>
<text x="110.7" y="106" font-size="8" text-anchor="middle" fill="#111">200K</text>
<path d="M58.05 91.3V93.1M61.11 91.3V93.1M64.16 91.3V93.1M67.22 91.3V93.1M70.27 91.3V93.1M73.33 91.3V93.1M76.38 91.3V93.1M79.43 91.3V93.1M82.49 91.3V93.1M85.54 91.3V93.1M88.6 91.3V93.1M91.65 91.3V93.1M94.7 91.3V93.1M97.76 91.3V93.1M100.81 91.3V93.1M103.87 91.3V93.1M106.92 91.3V93.1M109.97 91.3V93.1M113.03 91.3V93.1M116.08 91.3V93.1M119.14 91.3V93.1M122.19 91.3V93.1M125.25 91.3V93.1" stroke="#111" stroke-width=".9"/>
<text transform="translate(92.05 119.8)" font-size="9.8" text-anchor="middle" textLength="20.9" lengthAdjust="spacingAndGlyphs" style="stroke-width:0.25px" fill="#111">SSC-A</text>
<text transform="translate(26.5 55.1) rotate(-90)" font-size="9.8" text-anchor="middle" textLength="16.9" lengthAdjust="spacingAndGlyphs" style="stroke-width:0.25px" fill="#111">CD45</text>
<text x="93.3" y="25.9" font-size="7.8" text-anchor="middle" fill="#111">Blasts</text>
<text x="93.2" y="35.3" font-size="8" text-anchor="middle" fill="#111">63.7</text>
<path d="M79.6 163 C79.85 161.96 80.08 160.71 81 159.4 C81.92 158.09 82.72 156.89 84.7 155.7 C86.68 154.51 89.64 153.59 92 152.8 C94.36 152.01 95.69 151.48 97.8 151.3 C99.91 151.12 102.24 151.01 103.7 151.8 C105.16 152.59 105.38 153.94 105.9 155.7 C106.42 157.46 106.08 159.62 106.6 161.6 C107.12 163.58 107.74 164.99 108.8 166.7 C109.86 168.41 111.58 169.52 112.5 171.1 C113.42 172.68 113.7 173.39 113.9 175.5 C114.1 177.61 113.85 180.44 113.6 182.8 C113.35 185.16 113.24 187.03 112.5 188.6 C111.76 190.17 111.08 190.83 109.5 191.5 C107.92 192.17 105.81 192.43 103.7 192.3 C101.59 192.17 99.78 191.47 97.8 190.8 C95.82 190.13 93.8 190.04 92.7 188.6 C91.6 187.16 91.77 184.91 91.7 182.8 C91.63 180.69 92.52 178.61 92.3 176.9 C92.08 175.19 91.6 174.34 90.5 173.3 C89.4 172.26 87.77 172.02 86.2 171.1 C84.63 170.18 82.99 169.26 81.8 168.2 C80.61 167.14 80 166.14 79.6 165.2 C79.2 164.26 79.35 164.04 79.6 163Z" fill="#000" fill-opacity="0.22" filter="url(#bl1)"/>
<ellipse cx="94" cy="159" rx="7" ry="5" transform="rotate(-10 94 159)" fill="#000" fill-opacity="0.7" filter="url(#bl2)"/>
<ellipse cx="107" cy="183" rx="4.5" ry="7" transform="rotate(10 107 183)" fill="#000" fill-opacity="0.5" filter="url(#bl2)"/>
<ellipse cx="81" cy="180" rx="5" ry="9" transform="rotate(10 81 180)" fill="#000" fill-opacity="0.08" filter="url(#bl3)"/>
<path d="M102 188.5h1M101 180.5h1M95 156.5h1M110 189.5h1M98 164.5h1M94 179.5h1M84 168.5h1M105 186.5h1M106 176.5h1M107 184.5h1M113 175.5h1M108 179.5h1M96 174.5h1M98 158.5h1M95 162.5h1M89 159.5h1M112 179.5h1M107 186.5h1M86 155.5h1M111 182.5h1M92 154.5h1M92 162.5h1M92 168.5h1M101 184.5h1M90 153.5h1M92 162.5h1M101 191.5h1M94 156.5h1M98 176.5h1M107 180.5h1M109 182.5h1M93 158.5h1M100 187.5h1M94 159.5h1M99 176.5h1M95 158.5h1M113 186.5h1M109 183.5h1M98 176.5h1M90 154.5h1M87 159.5h1M108 182.5h1M108 185.5h1M92 163.5h1M110 182.5h1M102 174.5h1M92 158.5h1M112 191.5h1M87 153.5h1M97 155.5h1M88 162.5h1M95 162.5h1M89 154.5h1M103 161.5h1M102 183.5h1M97 177.5h1M87 160.5h1M107 185.5h1M90 158.5h1M103 181.5h1M105 182.5h1M97 158.5h1M108 178.5h1M106 177.5h1M91 151.5h1M97 178.5h1M93 171.5h1M102 181.5h1M93 172.5h1M107 185.5h1M97 158.5h1M91 162.5h1M95 165.5h1M89 161.5h1M102 182.5h1M102 154.5h1M105 170.5h1M105 188.5h1M112 181.5h1M97 164.5h1M96 187.5h1M98 155.5h1M107 175.5h1M92 162.5h1M107 181.5h1M106 189.5h1M103 167.5h1M93 158.5h1M98 160.5h1M97 159.5h1M107 184.5h1M98 162.5h1M106 165.5h1M102 158.5h1M90 161.5h1M96 178.5h1M93 158.5h1M95 156.5h1M103 187.5h1M100 157.5h1M80 161.5h1M86 160.5h1M99 172.5h1M91 159.5h1M105 161.5h1M96 185.5h1M93 160.5h1M106 180.5h1M100 156.5h1M92 182.5h1M104 180.5h1M112 184.5h1M106 169.5h1M102 178.5h1M90 157.5h1M101 182.5h1M92 160.5h1M83 164.5h1M107 171.5h1M101 183.5h1M102 183.5h1M112 179.5h1M93 162.5h1M101 185.5h1M99 156.5h1M88 163.5h1M100 190.5h1M109 177.5h1M107 165.5h1M83 165.5h1M97 179.5h1M106 189.5h1M92 155.5h1M111 183.5h1M110 184.5h1M105 163.5h1M110 180.5h1M94 159.5h1M90 151.5h1M112 185.5h1M94 156.5h1M104 185.5h1M106 188.5h1M92 154.5h1M97 157.5h1M90 166.5h1M94 156.5h1M92 156.5h1M100 158.5h1M105 181.5h1M106 162.5h1M100 157.5h1M108 182.5h1M87 162.5h1M89 160.5h1M83 163.5h1M94 159.5h1M93 160.5h1M111 178.5h1M93 157.5h1M95 154.5h1M97 158.5h1M104 171.5h1M109 188.5h1M110 177.5h1M97 177.5h1M111 185.5h1M112 184.5h1M105 185.5h1M98 160.5h1M86 160.5h1M105 177.5h1M85 166.5h1M111 176.5h1M100 159.5h1M85 159.5h1M108 182.5h1M100 159.5h1M92 163.5h1M100 167.5h1M108 176.5h1M107 183.5h1M98 160.5h1M94 155.5h1M95 162.5h1M112 177.5h1M90 162.5h1M107 188.5h1M96 177.5h1M94 159.5h1M105 180.5h1M112 181.5h1M102 183.5h1M109 170.5h1M111 182.5h1M104 184.5h1M107 178.5h1M94 158.5h1M84 164.5h1M85 159.5h1M95 154.5h1M98 188.5h1M93 172.5h1M97 184.5h1M102 188.5h1M112 175.5h1M84 162.5h1M91 159.5h1M109 189.5h1M87 157.5h1M100 180.5h1M94 180.5h1M81 159.5h1M99 157.5h1M94 153.5h1M102 163.5h1M89 154.5h1M108 185.5h1M106 182.5h1M105 173.5h1M95 158.5h1M101 156.5h1M94 160.5h1M97 186.5h1M110 186.5h1M98 160.5h1M89 157.5h1M103 162.5h1M102 158.5h1M92 156.5h1M109 176.5h1M107 172.5h1M93 160.5h1M99 163.5h1M108 177.5h1M88 159.5h1M112 173.5h1M108 171.5h1M106 186.5h1M94 156.5h1M103 182.5h1M101 179.5h1M96 189.5h1M101 157.5h1M96 154.5h1M90 154.5h1M109 175.5h1M99 153.5h1M92 164.5h1M85 160.5h1M97 157.5h1M90 157.5h1M110 183.5h1M103 163.5h1M86 158.5h1M90 159.5h1M98 154.5h1M91 159.5h1M99 159.5h1M88 161.5h1M97 153.5h1M112 174.5h1M88 157.5h1M96 161.5h1M110 188.5h1M88 162.5h1M104 172.5h1M85 157.5h1M111 187.5h1M105 184.5h1M112 182.5h1M104 183.5h1M102 167.5h1M92 166.5h1M85 158.5h1M108 181.5h1M103 158.5h1M105 175.5h1M109 175.5h1M97 181.5h1M90 159.5h1M101 190.5h1M87 161.5h1M100 180.5h1M89 159.5h1M101 156.5h1M90 163.5h1M88 163.5h1M92 158.5h1M101 161.5h1M110 170.5h1M108 183.5h1M105 180.5h1M97 171.5h1M100 186.5h1M95 161.5h1M113 182.5h1M112 190.5h1M84 162.5h1M91 155.5h1M92 169.5h1M90 158.5h1M107 182.5h1M111 184.5h1M84 159.5h1M109 178.5h1M97 155.5h1M97 189.5h1M100 178.5h1M90 163.5h1M93 178.5h1M101 186.5h1M95 157.5h1M96 164.5h1M93 164.5h1M97 154.5h1M83 158.5h1M109 185.5h1M97 164.5h1M92 158.5h1M93 161.5h1M101 162.5h1M111 175.5h1M95 183.5h1M92 168.5h1M92 153.5h1M90 157.5h1M109 180.5h1M92 157.5h1M93 185.5h1M99 189.5h1M92 179.5h1M104 189.5h1M112 173.5h1M100 152.5h1M96 156.5h1M116 180.5h1M94 177.5h1M109 182.5h1M101 161.5h1M90 161.5h1M90 161.5h1M104 178.5h1M87 169.5h1M92 187.5h1M97 156.5h1M95 160.5h1M83 163.5h1M101 181.5h1M89 162.5h1M112 195.5h1M88 168.5h1M105 190.5h1M96 161.5h1M111 187.5h1M107 184.5h1M96 185.5h1M97 170.5h1M108 190.5h1M112 179.5h1M107 174.5h1M100 148.5h1M101 160.5h1M112 178.5h1M97 177.5h1M103 167.5h1M103 166.5h1M102 152.5h1M88 159.5h1M101 159.5h1M106 190.5h1M104 160.5h1M94 161.5h1M96 161.5h1M111 182.5h1M95 159.5h1M99 156.5h1M99 179.5h1M93 178.5h1M96 157.5h1M96 162.5h1M102 192.5h1M80 162.5h1M103 153.5h1M104 161.5h1M110 182.5h1M91 157.5h1M100 183.5h1M92 155.5h1M99 172.5h1M105 187.5h1M96 162.5h1M95 187.5h1M107 171.5h1M98 157.5h1M97 161.5h1M92 158.5h1M103 162.5h1M97 155.5h1M99 157.5h1M105 167.5h1M86 158.5h1M98 173.5h1M91 155.5h1M109 189.5h1M106 171.5h1M107 172.5h1M90 173.5h1M92 162.5h1M90 159.5h1M88 160.5h1M94 163.5h1M99 160.5h1M97 159.5h1M108 179.5h1M108 181.5h1M94 158.5h1M90 170.5h1M92 155.5h1M104 186.5h1M102 184.5h1M102 182.5h1M103 176.5h1M90 161.5h1M103 183.5h1M94 185.5h1M104 179.5h1M106 188.5h1M107 163.5h1M101 171.5h1M104 187.5h1M104 183.5h1M92 159.5h1M106 184.5h1M108 167.5h1M91 162.5h1M86 170.5h1M91 163.5h1M104 187.5h1M95 153.5h1M94 161.5h1M100 159.5h1M95 161.5h1M92 162.5h1M93 188.5h1M94 152.5h1M107 174.5h1M102 188.5h1M88 160.5h1M102 163.5h1M101 189.5h1M90 154.5h1M92 159.5h1M95 156.5h1" stroke="#000" stroke-opacity="0.3" stroke-width="1" fill="none" filter="url(#bl0)"/>
<path d="M112 184.5h1M100 160.5h1M90 158.5h1M93 171.5h1M96 158.5h1M99 162.5h1M110 186.5h1M104 171.5h1M90 153.5h1M110 184.5h1M108 190.5h1M98 162.5h1M97 189.5h1M94 154.5h1M111 164.5h1M107 176.5h1M92 181.5h1M106 167.5h1M96 154.5h1M96 173.5h1M99 187.5h1M101 179.5h1M107 186.5h1M95 159.5h1M105 168.5h1M90 163.5h1M93 156.5h1M110 185.5h1M97 152.5h1M87 168.5h1M111 185.5h1M92 157.5h1M103 161.5h1M106 177.5h1M80 157.5h1M112 184.5h1M94 156.5h1M98 156.5h1M93 161.5h1M112 176.5h1M95 159.5h1M101 150.5h1M88 165.5h1M108 176.5h1M100 176.5h1M94 172.5h1M108 173.5h1M88 156.5h1M111 179.5h1M104 182.5h1M86 160.5h1M105 180.5h1M91 165.5h1M97 153.5h1M102 163.5h1M94 168.5h1M99 183.5h1M111 188.5h1M108 182.5h1M106 176.5h1M94 160.5h1M101 167.5h1M93 161.5h1M83 159.5h1M97 162.5h1M81 164.5h1M103 181.5h1M105 160.5h1M108 184.5h1M100 178.5h1M105 187.5h1M111 174.5h1M109 181.5h1M109 175.5h1M96 156.5h1M95 163.5h1M94 160.5h1M101 186.5h1M94 152.5h1M98 162.5h1M92 151.5h1M94 159.5h1M105 189.5h1M96 163.5h1M99 161.5h1M109 188.5h1M109 176.5h1M80 161.5h1M89 152.5h1M98 157.5h1M110 175.5h1M99 189.5h1M89 153.5h1M104 183.5h1M86 159.5h1M108 174.5h1M84 162.5h1M96 159.5h1M107 181.5h1M100 168.5h1M98 157.5h1M94 160.5h1M100 181.5h1M92 176.5h1M109 182.5h1M91 167.5h1M100 170.5h1M84 159.5h1M91 160.5h1M102 153.5h1M94 156.5h1M88 161.5h1M92 158.5h1M105 159.5h1M99 163.5h1M110 170.5h1M105 182.5h1M93 170.5h1M102 166.5h1M102 156.5h1M105 185.5h1M103 181.5h1M96 188.5h1M94 159.5h1M104 179.5h1M104 184.5h1M102 150.5h1M94 172.5h1M109 177.5h1M109 181.5h1M102 178.5h1M95 158.5h1M104 189.5h1M92 178.5h1M94 179.5h1M95 164.5h1M102 160.5h1M104 194.5h1M95 167.5h1M88 161.5h1M95 166.5h1M91 155.5h1M88 155.5h1M90 162.5h1M107 188.5h1M109 177.5h1M90 164.5h1M87 161.5h1M111 182.5h1M109 180.5h1M109 184.5h1M98 161.5h1M93 185.5h1M90 161.5h1M107 183.5h1M110 183.5h1M92 153.5h1M108 168.5h1M91 159.5h1M96 161.5h1M111 184.5h1M89 171.5h1M90 164.5h1M101 153.5h1M88 156.5h1M89 160.5h1M103 186.5h1M105 188.5h1M99 155.5h1M99 185.5h1M101 154.5h1M98 184.5h1M106 176.5h1M100 154.5h1M96 172.5h1M102 183.5h1M99 158.5h1M87 164.5h1M103 182.5h1M112 176.5h1M102 156.5h1M94 167.5h1M96 161.5h1M99 181.5h1M98 166.5h1M105 186.5h1M90 159.5h1M93 160.5h1M112 182.5h1M90 161.5h1M100 165.5h1M105 179.5h1M99 154.5h1M105 158.5h1M83 159.5h1M99 156.5h1M98 157.5h1M93 169.5h1M81 166.5h1M102 188.5h1M96 173.5h1M107 182.5h1M95 165.5h1M89 164.5h1M90 161.5h1M112 187.5h1M99 152.5h1M110 184.5h1M110 185.5h1M93 175.5h1M105 184.5h1M97 172.5h1M90 158.5h1M103 191.5h1M101 156.5h1M94 168.5h1M102 183.5h1M102 179.5h1M88 161.5h1M110 183.5h1M107 163.5h1M97 157.5h1M89 167.5h1M91 158.5h1M85 164.5h1M100 154.5h1M101 185.5h1M101 187.5h1M109 179.5h1M107 187.5h1M89 158.5h1M95 161.5h1M93 171.5h1M111 169.5h1M106 165.5h1M91 157.5h1M92 153.5h1M105 177.5h1M91 154.5h1M95 176.5h1M101 156.5h1M97 161.5h1M107 185.5h1M97 167.5h1M99 157.5h1M97 160.5h1M93 159.5h1M93 155.5h1M106 186.5h1M107 183.5h1M108 184.5h1M100 178.5h1M100 155.5h1M110 175.5h1M88 163.5h1M95 156.5h1M107 167.5h1M99 170.5h1M111 176.5h1M105 193.5h1M106 176.5h1M109 188.5h1M99 169.5h1M94 170.5h1M106 186.5h1M88 157.5h1M97 181.5h1M89 162.5h1M94 156.5h1M105 181.5h1M93 184.5h1M93 158.5h1M94 157.5h1M88 158.5h1M103 154.5h1M94 159.5h1M107 177.5h1M102 178.5h1M112 183.5h1M99 162.5h1M98 165.5h1M87 159.5h1M100 174.5h1M107 177.5h1M96 156.5h1M100 154.5h1M106 178.5h1M106 195.5h1M94 156.5h1M94 160.5h1M98 164.5h1M107 189.5h1M102 172.5h1M104 190.5h1M94 161.5h1M99 157.5h1M105 178.5h1M86 159.5h1M83 158.5h1M94 154.5h1M91 160.5h1M110 179.5h1M109 177.5h1M89 154.5h1M104 179.5h1M107 176.5h1M96 176.5h1M102 182.5h1M102 178.5h1M100 163.5h1M97 158.5h1M108 186.5h1M101 184.5h1M103 187.5h1M101 184.5h1M106 187.5h1M104 173.5h1M93 156.5h1M95 156.5h1M106 167.5h1M83 157.5h1M106 175.5h1M92 182.5h1M90 154.5h1M95 177.5h1M90 163.5h1M80 166.5h1M108 183.5h1M110 176.5h1M101 160.5h1M84 158.5h1M99 155.5h1M82 162.5h1M99 158.5h1M111 191.5h1M100 175.5h1M108 181.5h1M93 158.5h1M106 184.5h1M109 183.5h1M98 161.5h1M107 181.5h1M95 156.5h1M94 152.5h1M87 171.5h1M99 156.5h1M105 176.5h1M107 167.5h1M86 169.5h1M108 174.5h1M109 183.5h1M104 187.5h1M97 155.5h1M108 169.5h1M102 182.5h1M112 183.5h1M99 164.5h1M88 158.5h1M92 162.5h1M93 156.5h1M104 184.5h1M90 160.5h1M95 178.5h1M101 184.5h1M104 192.5h1M97 155.5h1M91 156.5h1M84 159.5h1M91 158.5h1M86 156.5h1M92 154.5h1M89 159.5h1M100 154.5h1M113 178.5h1M89 159.5h1M94 162.5h1M100 184.5h1M110 185.5h1M108 185.5h1M112 180.5h1M103 190.5h1M104 169.5h1M94 156.5h1M102 159.5h1M88 154.5h1M103 188.5h1M109 186.5h1M97 155.5h1M104 176.5h1M105 191.5h1M107 181.5h1M110 172.5h1M95 161.5h1M109 185.5h1M107 174.5h1M91 162.5h1M93 168.5h1M98 155.5h1M85 159.5h1M91 160.5h1M105 191.5h1M104 185.5h1M91 170.5h1M103 195.5h1M86 160.5h1M105 183.5h1M105 169.5h1M91 157.5h1M93 155.5h1M89 162.5h1M93 157.5h1M102 155.5h1M108 184.5h1M99 161.5h1M102 181.5h1M102 158.5h1M106 179.5h1M104 184.5h1M106 184.5h1M88 160.5h1M93 153.5h1M92 160.5h1M94 156.5h1M107 176.5h1M108 182.5h1M87 160.5h1M103 170.5h1M112 184.5h1M108 178.5h1M95 165.5h1M99 164.5h1M94 168.5h1M94 167.5h1M84 162.5h1M105 178.5h1M95 163.5h1M90 158.5h1M103 189.5h1M99 182.5h1M89 165.5h1M97 156.5h1M110 174.5h1M95 162.5h1M96 156.5h1M89 160.5h1M102 164.5h1M107 189.5h1M85 166.5h1M83 165.5h1M95 160.5h1M93 154.5h1M107 166.5h1M112 175.5h1" stroke="#000" stroke-opacity="0.3" stroke-width="1" fill="none" filter="url(#bl0)"/>
<path d="M97 155.5h1M95 160.5h1M106 182.5h1M88 165.5h1M91 156.5h1M93 182.5h1M114 185.5h1M85 163.5h1M111 181.5h1M104 188.5h1M107 187.5h1M105 155.5h1M101 173.5h1M93 156.5h1M108 180.5h1M87 162.5h1M113 175.5h1M98 181.5h1M89 161.5h1M101 168.5h1M93 163.5h1M110 197.5h1M94 151.5h1M110 183.5h1M110 178.5h1M99 179.5h1M100 160.5h1M108 190.5h1M99 189.5h1M97 156.5h1M111 171.5h1M97 170.5h1M106 184.5h1M95 168.5h1M96 189.5h1M109 185.5h1M95 178.5h1M86 171.5h1M109 181.5h1M109 180.5h1M103 159.5h1M95 177.5h1M99 170.5h1M106 181.5h1M111 174.5h1M91 156.5h1M93 169.5h1M89 155.5h1M83 160.5h1M98 165.5h1M104 179.5h1M104 172.5h1M91 157.5h1M106 195.5h1M89 161.5h1M86 164.5h1M95 162.5h1M106 177.5h1M111 177.5h1M106 183.5h1M97 159.5h1M97 169.5h1M100 182.5h1M99 157.5h1M103 178.5h1M102 187.5h1M89 156.5h1M93 160.5h1M92 156.5h1M106 184.5h1M83 168.5h1M97 187.5h1M91 162.5h1M99 152.5h1M109 182.5h1M103 152.5h1M102 183.5h1M100 152.5h1M98 177.5h1M111 184.5h1M103 179.5h1M103 178.5h1M104 187.5h1M111 188.5h1M93 160.5h1M101 175.5h1M109 173.5h1M90 163.5h1M91 166.5h1M99 174.5h1M93 151.5h1M84 163.5h1M97 174.5h1M108 184.5h1M96 156.5h1M99 182.5h1M107 163.5h1M107 188.5h1M108 184.5h1M112 177.5h1M96 160.5h1M80 165.5h1M90 165.5h1M111 187.5h1M96 160.5h1M93 177.5h1M92 156.5h1M109 185.5h1M109 185.5h1M92 165.5h1M96 167.5h1M99 155.5h1M99 153.5h1M94 163.5h1M99 152.5h1M97 172.5h1M112 191.5h1M83 153.5h1M90 155.5h1M94 163.5h1M101 162.5h1M83 168.5h1M90 157.5h1M97 160.5h1M92 164.5h1M108 176.5h1M95 166.5h1M101 159.5h1M82 163.5h1M97 162.5h1M84 162.5h1M104 165.5h1M109 189.5h1M111 178.5h1M107 174.5h1M97 185.5h1M95 158.5h1M94 158.5h1M83 165.5h1M80 158.5h1M107 175.5h1M105 188.5h1M87 155.5h1M87 165.5h1M88 160.5h1M80 165.5h1M107 179.5h1M94 157.5h1M94 153.5h1M96 155.5h1M94 165.5h1M105 183.5h1M112 177.5h1M112 173.5h1M108 186.5h1M91 154.5h1M92 157.5h1M90 159.5h1M99 160.5h1M108 185.5h1M106 190.5h1M92 151.5h1M99 184.5h1M98 164.5h1M106 188.5h1M110 178.5h1M110 181.5h1M100 156.5h1M104 161.5h1M103 182.5h1M84 164.5h1M104 192.5h1M100 187.5h1M89 160.5h1M104 153.5h1M100 179.5h1M106 183.5h1M84 159.5h1M109 181.5h1M109 173.5h1M114 185.5h1M106 180.5h1M99 182.5h1M94 160.5h1M97 184.5h1M96 173.5h1M105 182.5h1M103 186.5h1M93 152.5h1M104 180.5h1M96 162.5h1M100 175.5h1M101 187.5h1M114 181.5h1M95 153.5h1M100 176.5h1M97 157.5h1M108 185.5h1M111 187.5h1M91 159.5h1M102 158.5h1M113 182.5h1M93 166.5h1M94 156.5h1M86 170.5h1M94 162.5h1M91 159.5h1M84 156.5h1M101 156.5h1M93 185.5h1M89 154.5h1M94 161.5h1M95 164.5h1M110 183.5h1M100 167.5h1M103 186.5h1M100 176.5h1M96 159.5h1M96 152.5h1M100 158.5h1M87 163.5h1M104 186.5h1M99 188.5h1M94 166.5h1M86 158.5h1M87 159.5h1M103 183.5h1M110 177.5h1M97 159.5h1M98 164.5h1M98 164.5h1M94 186.5h1M91 160.5h1M103 186.5h1M101 181.5h1M90 155.5h1M96 162.5h1M94 160.5h1M103 184.5h1M113 179.5h1M107 177.5h1M96 161.5h1M98 158.5h1M91 159.5h1M101 193.5h1M111 187.5h1M90 156.5h1M104 178.5h1M110 190.5h1M110 190.5h1M96 173.5h1M86 162.5h1M113 177.5h1M83 161.5h1M94 156.5h1M107 182.5h1M107 168.5h1M102 186.5h1M106 153.5h1M87 156.5h1M96 153.5h1M108 189.5h1M107 189.5h1M87 153.5h1M106 185.5h1M89 157.5h1M96 155.5h1M102 187.5h1M90 151.5h1M88 164.5h1M91 159.5h1M96 160.5h1M93 160.5h1M110 176.5h1M98 158.5h1M98 164.5h1M93 170.5h1M107 172.5h1M110 183.5h1M110 188.5h1M112 176.5h1M98 165.5h1M102 186.5h1M107 187.5h1M98 163.5h1M101 162.5h1M89 163.5h1M106 160.5h1M97 166.5h1M95 157.5h1M94 173.5h1M101 155.5h1M108 180.5h1M97 160.5h1M91 163.5h1M95 154.5h1M112 178.5h1M96 157.5h1M111 174.5h1M88 161.5h1M95 155.5h1M104 178.5h1M101 167.5h1M102 190.5h1M105 191.5h1M88 160.5h1M101 159.5h1M91 163.5h1M98 187.5h1M100 165.5h1M106 179.5h1M103 170.5h1M92 158.5h1M105 189.5h1M104 184.5h1M91 173.5h1M104 188.5h1M105 184.5h1M104 174.5h1M105 178.5h1M95 168.5h1M113 177.5h1M92 154.5h1M103 187.5h1M110 182.5h1M107 188.5h1M110 188.5h1M107 178.5h1M88 164.5h1M105 185.5h1M94 163.5h1M107 179.5h1M105 186.5h1M109 186.5h1M105 187.5h1M81 160.5h1M112 173.5h1M112 178.5h1M100 182.5h1M86 161.5h1M93 152.5h1M85 165.5h1M112 180.5h1M104 197.5h1M111 174.5h1M105 181.5h1M96 159.5h1M104 181.5h1M99 159.5h1M83 160.5h1M104 184.5h1M110 177.5h1M105 184.5h1M92 158.5h1M95 161.5h1M103 152.5h1M93 154.5h1M97 165.5h1M91 162.5h1M93 168.5h1M100 167.5h1M110 187.5h1M96 177.5h1M101 157.5h1M98 156.5h1M95 164.5h1M112 176.5h1M106 183.5h1M110 172.5h1M93 157.5h1M91 153.5h1M88 158.5h1M110 174.5h1M110 178.5h1M85 159.5h1M105 183.5h1M105 180.5h1M94 159.5h1M91 166.5h1M103 184.5h1M114 185.5h1M95 163.5h1M87 158.5h1M93 161.5h1M109 169.5h1M89 164.5h1M93 161.5h1M110 188.5h1M87 159.5h1M104 187.5h1M97 155.5h1M99 167.5h1M99 177.5h1M91 160.5h1M104 154.5h1M95 173.5h1M94 162.5h1M110 184.5h1M103 172.5h1M101 184.5h1M103 184.5h1M85 157.5h1M95 151.5h1M88 154.5h1M109 189.5h1M99 174.5h1M100 185.5h1M101 159.5h1M93 159.5h1M107 188.5h1M108 182.5h1M94 172.5h1M103 191.5h1M103 186.5h1M99 161.5h1M101 183.5h1M103 183.5h1M101 160.5h1M83 163.5h1M106 175.5h1M97 165.5h1M103 157.5h1M102 178.5h1M94 161.5h1M91 164.5h1M83 166.5h1M108 185.5h1M85 168.5h1M108 179.5h1M87 169.5h1M111 188.5h1M86 162.5h1M90 161.5h1M94 163.5h1M86 168.5h1M95 155.5h1M84 163.5h1M92 165.5h1M94 168.5h1M99 158.5h1M108 186.5h1M111 185.5h1M87 156.5h1M100 181.5h1M107 183.5h1M99 168.5h1M100 165.5h1M93 155.5h1M90 157.5h1M96 178.5h1M90 160.5h1M96 160.5h1M92 158.5h1" stroke="#000" stroke-opacity="0.3" stroke-width="1" fill="none" filter="url(#bl0)"/>
<path d="M79 178.5h1M82 199.5h1M82 175.5h1M81 185.5h1M79 189.5h1M89 186.5h1M81 172.5h1M81 187.5h1M82 161.5h1M75 182.5h1M81 187.5h1M81 167.5h1M77 169.5h1M83 178.5h1M78 162.5h1M79 183.5h1M93 176.5h1M82 185.5h1M68 182.5h1M78 165.5h1M86 165.5h1M78 173.5h1M79 179.5h1M81 177.5h1M77 191.5h1M81 164.5h1M86 170.5h1M85 173.5h1M87 168.5h1M74 173.5h1M80 169.5h1M82 166.5h1M74 177.5h1M71 162.5h1M87 166.5h1M78 186.5h1M85 163.5h1M83 185.5h1M87 188.5h1M84 176.5h1M78 190.5h1M81 180.5h1M71 182.5h1M87 176.5h1M83 187.5h1M81 182.5h1M81 161.5h1M78 179.5h1M77 177.5h1M81 171.5h1M82 175.5h1M84 187.5h1M85 173.5h1M75 175.5h1M77 184.5h1M92 156.5h1M77 184.5h1M79 175.5h1M72 181.5h1M77 184.5h1M86 182.5h1M79 193.5h1M86 186.5h1M89 162.5h1M83 186.5h1M74 176.5h1M85 156.5h1M75 179.5h1M79 188.5h1M85 169.5h1M72 185.5h1M86 175.5h1M83 172.5h1M81 181.5h1M81 186.5h1M81 171.5h1M82 178.5h1M83 183.5h1M79 182.5h1M84 174.5h1M80 157.5h1M81 173.5h1M85 183.5h1M76 183.5h1M81 177.5h1M79 189.5h1M79 185.5h1M83 184.5h1M75 175.5h1M80 179.5h1M75 178.5h1M83 181.5h1M79 187.5h1M80 175.5h1M81 173.5h1M87 170.5h1M80 183.5h1M80 170.5h1M74 158.5h1M77 181.5h1M75 178.5h1M87 168.5h1M83 199.5h1M80 176.5h1M81 171.5h1M89 184.5h1M78 187.5h1M82 172.5h1M80 172.5h1M87 173.5h1M82 185.5h1M85 175.5h1M78 181.5h1M83 177.5h1M78 181.5h1M89 180.5h1M84 178.5h1M78 165.5h1M85 189.5h1M84 177.5h1M78 175.5h1M81 172.5h1M81 184.5h1M81 178.5h1M77 173.5h1M82 175.5h1M77 180.5h1" stroke="#000" stroke-opacity="0.15" stroke-width="1" fill="none" filter="url(#bl0)"/>
<path d="M82 158.5h1M77 197.5h1M76 184.5h1M78 192.5h1M82 164.5h1M77 166.5h1M80 178.5h1M77 178.5h1M80 177.5h1M81 163.5h1M80 179.5h1M87 176.5h1M79 160.5h1M79 178.5h1M80 170.5h1M73 185.5h1M84 175.5h1M82 175.5h1M75 183.5h1M83 183.5h1M70 172.5h1M80 172.5h1M82 175.5h1M81 167.5h1M78 169.5h1M83 166.5h1M88 169.5h1M77 197.5h1M89 174.5h1M79 174.5h1M89 166.5h1M79 178.5h1M82 179.5h1M76 166.5h1M78 168.5h1M83 187.5h1M74 170.5h1M80 181.5h1M79 185.5h1M88 167.5h1M86 171.5h1M79 186.5h1M91 189.5h1M83 182.5h1M82 171.5h1M81 175.5h1M72 182.5h1M83 173.5h1M76 191.5h1M79 163.5h1M77 179.5h1M86 178.5h1M78 167.5h1M80 185.5h1M78 187.5h1M81 190.5h1M84 181.5h1M84 168.5h1M79 184.5h1M79 180.5h1M78 172.5h1M79 183.5h1M79 188.5h1M78 186.5h1M66 177.5h1M81 166.5h1M86 176.5h1M76 185.5h1M75 190.5h1M77 175.5h1M84 163.5h1M83 168.5h1M84 174.5h1M79 175.5h1M84 174.5h1M82 172.5h1M74 187.5h1M82 177.5h1M84 182.5h1M83 176.5h1M70 186.5h1M88 169.5h1M75 193.5h1M85 175.5h1M84 176.5h1M86 183.5h1M81 174.5h1M73 200.5h1M83 163.5h1M82 167.5h1M83 186.5h1M78 170.5h1M66 191.5h1M79 179.5h1M77 178.5h1M86 169.5h1M87 195.5h1M80 198.5h1M80 170.5h1M74 187.5h1M75 175.5h1M80 167.5h1M81 189.5h1M80 176.5h1M81 191.5h1M75 173.5h1M81 196.5h1M71 187.5h1M83 172.5h1M74 191.5h1M81 187.5h1M74 184.5h1M80 176.5h1M75 182.5h1M83 170.5h1M88 173.5h1M83 176.5h1M85 165.5h1M83 180.5h1M75 174.5h1M78 180.5h1M77 184.5h1M79 157.5h1M82 163.5h1M79 173.5h1M86 175.5h1M83 157.5h1" stroke="#000" stroke-opacity="0.15" stroke-width="1" fill="none" filter="url(#bl0)"/>
<path d="M79 176.5h1M85 179.5h1M74 167.5h1M80 175.5h1M85 171.5h1M83 181.5h1M82 168.5h1M78 167.5h1M82 165.5h1M81 175.5h1M84 170.5h1M80 188.5h1M83 177.5h1M83 179.5h1M86 187.5h1M74 177.5h1M84 186.5h1M76 182.5h1M77 188.5h1M84 159.5h1M79 172.5h1M74 172.5h1M77 178.5h1M77 190.5h1M85 164.5h1M80 171.5h1M89 160.5h1M80 184.5h1M79 175.5h1M77 176.5h1M81 181.5h1M80 175.5h1M87 180.5h1M70 179.5h1M77 169.5h1M78 180.5h1M88 168.5h1M76 186.5h1M75 169.5h1M80 173.5h1M79 180.5h1M91 169.5h1M83 167.5h1M73 177.5h1M77 177.5h1M78 170.5h1M76 179.5h1M85 174.5h1M88 176.5h1M84 188.5h1M74 174.5h1M92 190.5h1M80 172.5h1M82 160.5h1M76 180.5h1M80 174.5h1M78 199.5h1M83 169.5h1M85 164.5h1M84 191.5h1M81 186.5h1M80 180.5h1M81 171.5h1M79 158.5h1M73 192.5h1M79 171.5h1M82 183.5h1M89 182.5h1M76 170.5h1M89 183.5h1M80 181.5h1M81 175.5h1M78 176.5h1M74 181.5h1M75 177.5h1M82 165.5h1M75 166.5h1M77 178.5h1M79 168.5h1M80 190.5h1M76 182.5h1M76 190.5h1M84 163.5h1M80 181.5h1M83 188.5h1M84 179.5h1M87 181.5h1M74 173.5h1M74 175.5h1M81 158.5h1M77 187.5h1M76 183.5h1M86 169.5h1M84 156.5h1M81 170.5h1M79 200.5h1M86 180.5h1M80 196.5h1M85 186.5h1M78 172.5h1M78 183.5h1M76 188.5h1M72 183.5h1M78 183.5h1M85 150.5h1M82 176.5h1M81 157.5h1M81 170.5h1M86 180.5h1M86 179.5h1M78 172.5h1M80 180.5h1M79 180.5h1M82 179.5h1M85 177.5h1M78 181.5h1M81 186.5h1M84 187.5h1M82 176.5h1M83 179.5h1M77 174.5h1M68 183.5h1M80 172.5h1M80 196.5h1M81 178.5h1M86 190.5h1" stroke="#000" stroke-opacity="0.15" stroke-width="1" fill="none" filter="url(#bl0)"/>
<path d="M81 190.5h1M75 189.5h1M76 191.5h1M75 191.5h1M77 192.5h1M76 192.5h1M80 191.5h1M81 185.5h1M76 188.5h1M73 191.5h1M81 194.5h1M80 194.5h1M81 187.5h1M75 188.5h1M77 190.5h1M75 188.5h1M79 187.5h1M72 192.5h1M78 185.5h1M78 191.5h1M78 188.5h1M82 187.5h1M74 192.5h1M73 187.5h1M76 189.5h1M77 189.5h1M76 192.5h1M70 191.5h1M74 186.5h1M75 190.5h1M76 195.5h1M76 191.5h1M79 189.5h1M79 187.5h1" stroke="#000" stroke-opacity="0.2" stroke-width="1" fill="none" filter="url(#bl0)"/>
<path d="M79 189.5h1M80 192.5h1M74 189.5h1M79 185.5h1M78 194.5h1M74 187.5h1M78 188.5h1M78 188.5h1M83 188.5h1M79 187.5h1M76 189.5h1M79 188.5h1M71 193.5h1M76 189.5h1M78 191.5h1M74 188.5h1M75 187.5h1M73 188.5h1M80 190.5h1M82 187.5h1M76 189.5h1M81 189.5h1M78 194.5h1M75 190.5h1M77 187.5h1M76 191.5h1M76 192.5h1M76 191.5h1M77 192.5h1M68 194.5h1M76 190.5h1M80 191.5h1M77 190.5h1" stroke="#000" stroke-opacity="0.2" stroke-width="1" fill="none" filter="url(#bl0)"/>
<path d="M73 191.5h1M82 194.5h1M78 187.5h1M81 187.5h1M77 186.5h1M68 188.5h1M77 189.5h1M80 186.5h1M73 190.5h1M76 188.5h1M73 185.5h1M71 188.5h1M76 189.5h1M76 194.5h1M77 193.5h1M75 188.5h1M76 194.5h1M84 188.5h1M78 188.5h1M76 191.5h1M75 189.5h1M75 190.5h1M77 189.5h1M81 188.5h1M82 189.5h1M76 191.5h1M78 190.5h1M77 191.5h1M75 192.5h1M77 187.5h1M78 193.5h1M78 189.5h1M74 190.5h1" stroke="#000" stroke-opacity="0.2" stroke-width="1" fill="none" filter="url(#bl0)"/>
<path d="M79.6 163 C79.85 161.96 80.08 160.71 81 159.4 C81.92 158.09 82.72 156.89 84.7 155.7 C86.68 154.51 89.64 153.59 92 152.8 C94.36 152.01 95.69 151.48 97.8 151.3 C99.91 151.12 102.24 151.01 103.7 151.8 C105.16 152.59 105.38 153.94 105.9 155.7 C106.42 157.46 106.08 159.62 106.6 161.6 C107.12 163.58 107.74 164.99 108.8 166.7 C109.86 168.41 111.58 169.52 112.5 171.1 C113.42 172.68 113.7 173.39 113.9 175.5 C114.1 177.61 113.85 180.44 113.6 182.8 C113.35 185.16 113.24 187.03 112.5 188.6 C111.76 190.17 111.08 190.83 109.5 191.5 C107.92 192.17 105.81 192.43 103.7 192.3 C101.59 192.17 99.78 191.47 97.8 190.8 C95.82 190.13 93.8 190.04 92.7 188.6 C91.6 187.16 91.77 184.91 91.7 182.8 C91.63 180.69 92.52 178.61 92.3 176.9 C92.08 175.19 91.6 174.34 90.5 173.3 C89.4 172.26 87.77 172.02 86.2 171.1 C84.63 170.18 82.99 169.26 81.8 168.2 C80.61 167.14 80 166.14 79.6 165.2 C79.2 164.26 79.35 164.04 79.6 163Z" fill="none" stroke="#111" stroke-width="1.4"/>
<rect x="55" y="136.9" width="72.5" height="72.7" fill="none" stroke="#111" stroke-width="1.4"/>
<path d="M51.5 143.8H55" stroke="#111" stroke-width="1.2"/>
<text x="48.2" y="146.7" font-size="8" text-anchor="end" fill="#111">10<tspan font-size="5.6" dy="-3.4">5</tspan></text>
<path d="M51.5 160H55" stroke="#111" stroke-width="1.2"/>
<text x="48.2" y="162.9" font-size="8" text-anchor="end" fill="#111">10<tspan font-size="5.6" dy="-3.4">4</tspan></text>
<path d="M51.5 180.2H55" stroke="#111" stroke-width="1.2"/>
<text x="48.2" y="183.1" font-size="8" text-anchor="end" fill="#111">10<tspan font-size="5.6" dy="-3.4">3</tspan></text>
<path d="M51.5 193.1H55" stroke="#111" stroke-width="1.2"/>
<text x="48.2" y="196" font-size="8" text-anchor="end" fill="#111">0</text>
<rect x="52" y="191.6" width="3" height="3" fill="#111"/>
<path d="M51.5 205.2H55" stroke="#111" stroke-width="1.2"/>
<text x="48.2" y="208.1" font-size="8" text-anchor="end" fill="#111">−10<tspan font-size="5.6" dy="-3.4">3</tspan></text>
<path d="M53.2 147.04H55M53.2 150.28H55M53.2 153.52H55M53.2 156.76H55M53.2 164.04H55M53.2 168.08H55M53.2 172.12H55M53.2 176.16H55M53.2 182.78H55M53.2 185.36H55M53.2 187.94H55M53.2 190.52H55M53.2 195.52H55M53.2 197.94H55M53.2 200.36H55M53.2 202.78H55" stroke="#111" stroke-width=".9"/>
<path d="M70.5 209.6V212.8" stroke="#111" stroke-width="1.2"/>
<rect x="69" y="209.6" width="3" height="2.6" fill="#111"/>
<text x="70.5" y="224" font-size="8" text-anchor="middle" fill="#111">0</text>
<path d="M101.8 209.6V212.8" stroke="#111" stroke-width="1.2"/>
<text x="101.8" y="224" font-size="8" text-anchor="middle" fill="#111">10<tspan font-size="5.6" dy="-3.4">4</tspan></text>
<path d="M58.02 209.6V211.4M61.04 209.6V211.4M64.06 209.6V211.4M67.08 209.6V211.4M70.1 209.6V211.4M73.12 209.6V211.4M76.15 209.6V211.4M79.17 209.6V211.4M82.19 209.6V211.4M85.21 209.6V211.4M88.23 209.6V211.4M91.25 209.6V211.4M94.27 209.6V211.4M97.29 209.6V211.4M100.31 209.6V211.4M103.33 209.6V211.4M106.35 209.6V211.4M109.38 209.6V211.4M112.4 209.6V211.4M115.42 209.6V211.4M118.44 209.6V211.4M121.46 209.6V211.4M124.48 209.6V211.4" stroke="#111" stroke-width=".9"/>
<text transform="translate(91.65 238.5)" font-size="9.8" text-anchor="middle" textLength="16.2" lengthAdjust="spacingAndGlyphs" style="stroke-width:0.25px" fill="#111">CD33</text>
<text transform="translate(26.5 173.25) rotate(-90)" font-size="9.8" text-anchor="middle" textLength="16.2" lengthAdjust="spacingAndGlyphs" style="stroke-width:0.25px" fill="#111">CD34</text>
<text x="66.2" y="144.1" font-size="8" fill="#1a1a1a">CD33+</text>
<text x="79.6" y="153.3" font-size="7.9" text-anchor="middle" fill="#1a1a1a">90.4</text>
<rect x="79.7" y="375.5" width="369.45" height="116" fill="none" stroke="#111" stroke-width="1.4"/>
<rect x="269" y="131" width="120.3" height="111.9" fill="none" stroke="#111" stroke-width="1.5"/>
<path d="M144.2 411.7 C144.38 410.62 144.75 409.35 145.7 408 C146.65 406.65 147.74 405.42 149.5 404.2 C151.26 402.98 153.07 401.92 155.5 401.2 C157.93 400.48 160.57 400.2 163 400.2 C165.43 400.2 167.6 400.34 169 401.2 C170.4 402.06 170.4 403.65 170.8 405 C171.2 406.35 170.59 407.35 171.2 408.7 C171.81 410.05 172.98 410.74 174.2 412.5 C175.42 414.26 177.05 416.34 178 418.5 C178.95 420.66 179.37 422.07 179.5 424.5 C179.63 426.93 179.11 429.57 178.7 432 C178.29 434.43 178.01 436.38 177.2 438 C176.39 439.62 175.68 440.33 174.2 441 C172.72 441.67 171.29 441.84 169 441.7 C166.71 441.56 163.61 440.92 161.5 440.2 C159.39 439.48 158.25 439.18 157.3 437.7 C156.35 436.22 156.2 434.11 156.2 432 C156.2 429.89 157.57 427.89 157.3 426 C157.03 424.11 155.98 422.72 154.7 421.5 C153.42 420.28 151.68 420.01 150.2 419.2 C148.72 418.39 147.49 417.94 146.5 417 C145.51 416.06 145.11 414.95 144.7 414 C144.29 413.05 144.02 412.78 144.2 411.7Z" fill="#000" fill-opacity="0.16" filter="url(#bl1)"/>
<path d="M148.7 409.5 C149.24 407.88 150.47 406.21 152.5 405 C154.53 403.79 157.57 403.02 160 402.75 C162.43 402.48 164.25 402.7 166 403.5 C167.75 404.3 168.94 405.58 169.7 407.2 C170.46 408.82 170.6 410.88 170.2 412.5 C169.8 414.12 169.07 415.26 167.5 416.2 C165.93 417.14 163.93 417.56 161.5 417.7 C159.07 417.84 156.16 417.67 154 417 C151.84 416.33 150.45 415.35 149.5 414 C148.55 412.65 148.16 411.12 148.7 409.5Z" fill="#000" fill-opacity="0.35" filter="url(#bl1)"/>
<path d="M163 427.5 C163.27 425.74 163.42 423.69 164.5 422.2 C165.58 420.71 167.25 419.6 169 419.2 C170.75 418.8 172.58 419.19 174.2 420 C175.82 420.81 177.1 422.08 178 423.7 C178.9 425.32 179.34 427.24 179.2 429 C179.06 430.76 178.5 432.15 177.2 433.5 C175.9 434.85 174.02 436.1 172 436.5 C169.98 436.9 167.62 436.51 166 435.7 C164.38 434.89 163.54 433.48 163 432 C162.46 430.52 162.73 429.26 163 427.5Z" fill="#000" fill-opacity="0.3" filter="url(#bl1)"/>
<ellipse cx="145" cy="428" rx="6" ry="10" transform="rotate(20 145 428)" fill="#000" fill-opacity="0.07" filter="url(#bl3)"/>
<path d="M155 415.5h1M166 427.5h1M165 411.5h1M152 415.5h1M168 421.5h1M165 426.5h1M165 434.5h1M163 409.5h1M154 409.5h1M163 408.5h1M158 433.5h1M157 402.5h1M159 407.5h1M155 409.5h1M161 426.5h1M169 425.5h1M159 404.5h1M168 406.5h1M171 419.5h1M154 408.5h1M171 429.5h1M165 407.5h1M166 408.5h1M174 420.5h1M168 440.5h1M166 419.5h1M169 419.5h1M156 409.5h1M149 405.5h1M170 435.5h1M171 432.5h1M160 410.5h1M153 413.5h1M163 406.5h1M176 425.5h1M170 429.5h1M160 415.5h1M174 427.5h1M167 438.5h1M171 428.5h1M150 412.5h1M164 437.5h1M156 400.5h1M154 407.5h1M161 403.5h1M172 423.5h1M158 404.5h1M150 408.5h1M166 412.5h1M158 408.5h1M164 412.5h1M150 410.5h1M175 434.5h1M169 411.5h1M152 406.5h1M166 410.5h1M163 407.5h1M168 421.5h1M151 410.5h1M170 430.5h1M168 407.5h1M169 425.5h1M153 413.5h1M171 430.5h1M160 415.5h1M154 415.5h1M175 430.5h1M151 410.5h1M166 422.5h1M153 408.5h1M171 430.5h1M166 440.5h1M151 408.5h1M174 422.5h1M154 415.5h1M150 411.5h1M169 428.5h1M150 415.5h1M159 414.5h1M154 413.5h1M155 416.5h1M176 428.5h1M163 406.5h1M171 429.5h1M154 404.5h1M168 414.5h1M155 411.5h1M165 426.5h1M164 412.5h1M155 410.5h1M178 428.5h1M161 410.5h1M171 428.5h1M166 411.5h1M157 424.5h1M177 432.5h1M162 413.5h1M162 403.5h1M156 417.5h1M170 432.5h1M160 415.5h1M154 405.5h1M163 404.5h1M173 428.5h1M165 433.5h1M148 409.5h1M173 426.5h1M172 425.5h1M171 431.5h1M167 434.5h1M151 413.5h1M162 411.5h1M160 431.5h1M167 428.5h1M153 406.5h1M174 423.5h1M149 414.5h1M176 425.5h1M170 428.5h1M152 413.5h1M175 426.5h1M152 408.5h1M152 403.5h1M169 425.5h1M158 412.5h1M172 433.5h1M156 409.5h1M164 422.5h1M167 427.5h1M162 408.5h1M157 408.5h1M166 436.5h1M165 428.5h1M171 427.5h1M174 422.5h1M157 409.5h1M166 425.5h1M174 427.5h1M148 411.5h1M153 409.5h1M155 407.5h1M171 434.5h1M165 425.5h1M172 435.5h1M168 412.5h1M168 435.5h1M170 432.5h1M172 435.5h1M168 415.5h1M157 413.5h1M176 433.5h1M167 419.5h1M178 425.5h1M164 407.5h1M169 411.5h1M173 433.5h1M170 411.5h1M156 410.5h1M171 430.5h1M166 405.5h1M169 403.5h1M160 414.5h1M166 424.5h1M169 433.5h1M173 434.5h1M173 430.5h1M167 421.5h1M163 417.5h1M166 432.5h1M163 424.5h1M163 425.5h1M173 426.5h1M160 411.5h1M166 428.5h1M156 416.5h1M164 404.5h1M155 412.5h1M164 428.5h1M147 407.5h1M170 427.5h1M164 434.5h1M161 410.5h1M169 431.5h1M160 412.5h1M168 428.5h1M152 410.5h1M171 422.5h1M151 412.5h1M150 418.5h1M157 407.5h1M146 408.5h1M175 424.5h1M167 431.5h1M167 432.5h1M157 412.5h1M169 431.5h1M160 417.5h1M172 425.5h1M161 409.5h1M169 422.5h1M162 411.5h1M175 424.5h1M170 427.5h1M165 426.5h1M177 429.5h1M170 422.5h1M157 406.5h1M156 407.5h1M155 407.5h1M167 426.5h1M167 431.5h1M163 408.5h1M178 424.5h1M166 405.5h1M167 430.5h1M157 412.5h1M166 433.5h1M171 423.5h1M171 414.5h1M167 415.5h1M166 427.5h1M151 412.5h1M157 404.5h1M166 427.5h1M155 413.5h1M166 429.5h1M168 434.5h1M173 427.5h1M160 401.5h1M171 433.5h1M167 421.5h1M162 430.5h1M168 432.5h1M175 424.5h1M157 407.5h1M172 426.5h1M164 409.5h1M160 409.5h1M159 409.5h1M172 434.5h1M167 413.5h1M170 431.5h1M151 404.5h1M175 432.5h1M158 412.5h1M164 428.5h1M159 409.5h1M156 407.5h1M158 404.5h1M167 427.5h1M177 433.5h1M165 410.5h1M169 412.5h1M154 416.5h1M161 407.5h1M151 414.5h1M171 433.5h1M174 427.5h1M156 420.5h1M158 417.5h1M170 434.5h1M168 435.5h1M168 430.5h1M158 417.5h1M163 431.5h1M149 412.5h1M167 424.5h1M156 415.5h1M166 407.5h1M173 418.5h1M164 406.5h1M177 426.5h1M157 411.5h1M152 412.5h1M171 427.5h1M168 433.5h1M166 433.5h1M167 420.5h1M170 424.5h1M149 407.5h1M165 432.5h1M167 438.5h1M158 421.5h1M164 406.5h1M162 422.5h1M169 435.5h1M151 403.5h1M156 417.5h1M153 407.5h1M157 407.5h1M161 411.5h1M164 423.5h1M158 412.5h1M167 428.5h1M168 422.5h1M171 428.5h1M152 409.5h1M156 416.5h1M168 435.5h1M154 414.5h1M177 428.5h1M177 424.5h1M157 413.5h1M174 429.5h1M169 419.5h1M167 412.5h1M176 433.5h1M172 431.5h1M162 413.5h1M167 432.5h1M165 433.5h1M166 434.5h1M173 433.5h1M176 423.5h1M162 411.5h1M164 414.5h1M169 415.5h1M165 414.5h1M171 431.5h1M172 438.5h1M155 415.5h1M169 429.5h1M172 423.5h1M168 427.5h1M159 407.5h1M150 408.5h1M162 413.5h1M170 429.5h1M153 411.5h1M165 428.5h1M166 427.5h1M155 407.5h1M162 402.5h1M173 426.5h1M157 410.5h1M169 409.5h1M167 408.5h1M152 415.5h1M176 430.5h1M157 408.5h1M157 412.5h1M158 410.5h1M171 430.5h1M168 440.5h1M161 412.5h1M174 432.5h1M164 410.5h1M176 424.5h1M150 413.5h1M160 413.5h1M172 418.5h1M170 430.5h1M160 416.5h1M180 422.5h1M155 407.5h1M174 420.5h1M151 414.5h1M172 426.5h1M163 411.5h1M160 411.5h1M157 425.5h1M170 438.5h1M158 435.5h1M176 437.5h1M165 406.5h1M179 427.5h1M164 415.5h1M169 432.5h1M159 403.5h1M148 409.5h1M159 436.5h1M162 409.5h1M175 424.5h1M152 415.5h1M174 425.5h1M147 413.5h1M162 412.5h1M158 407.5h1M167 410.5h1M156 411.5h1M166 428.5h1M173 428.5h1M159 412.5h1M167 402.5h1M174 418.5h1M165 414.5h1M152 410.5h1M152 414.5h1M170 427.5h1M173 424.5h1M172 427.5h1M155 419.5h1M171 434.5h1M168 422.5h1M166 408.5h1M158 416.5h1M172 414.5h1M159 410.5h1M178 426.5h1M154 421.5h1M168 429.5h1M167 433.5h1M175 427.5h1M167 424.5h1M173 425.5h1M159 405.5h1M155 405.5h1M167 434.5h1M178 434.5h1M161 405.5h1M165 409.5h1M169 421.5h1M156 411.5h1M169 426.5h1M172 418.5h1M154 405.5h1M157 404.5h1M174 419.5h1M169 416.5h1M154 409.5h1M158 408.5h1M152 407.5h1M164 409.5h1M177 430.5h1M176 427.5h1M167 430.5h1M163 419.5h1M169 422.5h1M173 426.5h1M171 430.5h1M149 415.5h1M170 431.5h1M171 430.5h1M152 412.5h1M164 411.5h1M176 429.5h1M156 415.5h1M169 440.5h1M151 409.5h1M157 409.5h1M165 427.5h1M172 431.5h1M156 412.5h1M168 426.5h1M152 411.5h1M163 403.5h1M153 405.5h1M167 434.5h1M163 402.5h1M171 432.5h1M148 412.5h1M158 409.5h1M166 406.5h1M175 422.5h1M161 406.5h1M171 431.5h1M156 404.5h1M165 433.5h1M166 433.5h1M169 429.5h1M156 412.5h1M154 406.5h1M149 410.5h1M157 406.5h1M177 426.5h1M170 416.5h1M169 409.5h1M168 430.5h1M157 412.5h1M159 406.5h1M176 427.5h1M161 415.5h1M169 427.5h1M152 408.5h1M158 409.5h1M158 412.5h1M176 433.5h1M169 413.5h1M166 426.5h1M173 419.5h1M174 430.5h1M157 406.5h1M170 430.5h1M157 411.5h1M159 439.5h1M172 425.5h1M170 432.5h1M152 411.5h1M151 407.5h1M167 420.5h1M167 411.5h1M156 408.5h1M170 423.5h1M173 435.5h1M166 428.5h1M161 425.5h1M177 424.5h1M167 429.5h1M171 422.5h1M160 416.5h1M172 428.5h1M178 422.5h1M153 409.5h1M168 425.5h1M165 413.5h1M170 427.5h1M163 413.5h1M159 407.5h1M174 434.5h1M161 403.5h1M156 409.5h1M165 408.5h1M154 413.5h1M171 421.5h1M166 402.5h1M166 406.5h1M178 423.5h1M171 421.5h1M170 432.5h1M155 413.5h1" stroke="#000" stroke-opacity="0.3" stroke-width="1" fill="none" filter="url(#bl0)"/>
<path d="M148 416.5h1M161 410.5h1M166 402.5h1M171 417.5h1M158 407.5h1M169 412.5h1M171 422.5h1M160 418.5h1M174 422.5h1M163 411.5h1M146 408.5h1M177 425.5h1M162 413.5h1M166 433.5h1M163 407.5h1M162 404.5h1M165 412.5h1M162 409.5h1M151 414.5h1M158 412.5h1M153 412.5h1M178 429.5h1M157 408.5h1M169 408.5h1M167 422.5h1M150 413.5h1M171 432.5h1M162 409.5h1M171 423.5h1M167 415.5h1M171 426.5h1M153 405.5h1M167 430.5h1M168 432.5h1M173 423.5h1M176 426.5h1M154 419.5h1M166 424.5h1M156 407.5h1M171 427.5h1M176 423.5h1M165 409.5h1M160 413.5h1M167 432.5h1M155 412.5h1M161 408.5h1M178 419.5h1M159 408.5h1M167 411.5h1M163 406.5h1M157 411.5h1M160 409.5h1M176 434.5h1M154 416.5h1M165 425.5h1M152 414.5h1M161 410.5h1M149 408.5h1M165 423.5h1M158 409.5h1M160 406.5h1M174 434.5h1M151 408.5h1M167 425.5h1M160 411.5h1M173 427.5h1M148 413.5h1M169 428.5h1M150 410.5h1M164 406.5h1M161 404.5h1M170 406.5h1M165 411.5h1M155 408.5h1M155 408.5h1M147 413.5h1M151 411.5h1M170 434.5h1M175 433.5h1M163 434.5h1M164 408.5h1M167 421.5h1M169 434.5h1M177 430.5h1M157 425.5h1M166 436.5h1M164 428.5h1M167 411.5h1M152 405.5h1M163 427.5h1M167 433.5h1M165 415.5h1M174 428.5h1M167 435.5h1M168 422.5h1M172 437.5h1M154 402.5h1M155 416.5h1M165 432.5h1M156 407.5h1M150 409.5h1M166 419.5h1M165 432.5h1M170 435.5h1M171 423.5h1M160 411.5h1M166 409.5h1M154 410.5h1M165 423.5h1M177 424.5h1M169 402.5h1M150 412.5h1M158 408.5h1M171 427.5h1M173 431.5h1M158 411.5h1M159 422.5h1M158 404.5h1M165 410.5h1M154 413.5h1M164 406.5h1M173 432.5h1M153 412.5h1M176 426.5h1M165 415.5h1M169 432.5h1M166 411.5h1M163 411.5h1M161 412.5h1M170 425.5h1M156 424.5h1M177 426.5h1M171 429.5h1M172 427.5h1M173 421.5h1M166 436.5h1M147 412.5h1M166 405.5h1M164 404.5h1M176 422.5h1M158 414.5h1M154 408.5h1M172 425.5h1M167 413.5h1M168 430.5h1M168 435.5h1M158 410.5h1M171 425.5h1M175 433.5h1M153 405.5h1M166 412.5h1M169 432.5h1M169 422.5h1M166 428.5h1M174 426.5h1M169 429.5h1M154 411.5h1M158 409.5h1M153 414.5h1M162 410.5h1M174 428.5h1M151 414.5h1M168 414.5h1M172 424.5h1M168 416.5h1M157 409.5h1M177 426.5h1M166 431.5h1M154 413.5h1M163 438.5h1M157 415.5h1M159 406.5h1M164 425.5h1M166 429.5h1M166 414.5h1M163 432.5h1M161 415.5h1M153 419.5h1M174 423.5h1M169 424.5h1M164 424.5h1M175 428.5h1M166 413.5h1M155 417.5h1M170 420.5h1M171 429.5h1M151 410.5h1M151 407.5h1M159 417.5h1M166 410.5h1M155 401.5h1M172 429.5h1M167 410.5h1M174 422.5h1M172 431.5h1M155 416.5h1M152 414.5h1M156 410.5h1M173 431.5h1M164 428.5h1M163 418.5h1M168 426.5h1M161 432.5h1M162 408.5h1M163 427.5h1M162 407.5h1M165 406.5h1M155 413.5h1M176 435.5h1M152 412.5h1M175 434.5h1M165 406.5h1M167 410.5h1M165 408.5h1M165 401.5h1M170 427.5h1M153 414.5h1M156 409.5h1M171 424.5h1M155 410.5h1M160 414.5h1M177 430.5h1M159 410.5h1M160 416.5h1M171 428.5h1M174 424.5h1M157 406.5h1M180 426.5h1M161 430.5h1M162 410.5h1M167 433.5h1M156 412.5h1M167 434.5h1M177 426.5h1M167 409.5h1M173 428.5h1M151 410.5h1M168 408.5h1M169 403.5h1M153 408.5h1M170 434.5h1M167 431.5h1M150 414.5h1M170 429.5h1M157 403.5h1M175 422.5h1M164 423.5h1M171 431.5h1M154 404.5h1M162 413.5h1M170 420.5h1M161 406.5h1M174 426.5h1M162 416.5h1M169 431.5h1M155 403.5h1M165 430.5h1M157 411.5h1M159 408.5h1M169 404.5h1M170 420.5h1M169 422.5h1M160 408.5h1M152 413.5h1M162 408.5h1M170 412.5h1M165 416.5h1M153 410.5h1M154 415.5h1M160 405.5h1M176 425.5h1M155 413.5h1M157 411.5h1M176 429.5h1M154 409.5h1M169 431.5h1M159 407.5h1M161 413.5h1M154 404.5h1M159 412.5h1M155 412.5h1M155 408.5h1M174 416.5h1M161 413.5h1M153 418.5h1M164 424.5h1M168 431.5h1M176 424.5h1M154 412.5h1M169 423.5h1M172 411.5h1M159 406.5h1M155 407.5h1M174 425.5h1M158 416.5h1M168 438.5h1M156 411.5h1M178 421.5h1M156 408.5h1M159 411.5h1M163 411.5h1M148 413.5h1M155 414.5h1M159 409.5h1M156 408.5h1M167 426.5h1M165 423.5h1M148 412.5h1M175 415.5h1M168 422.5h1M159 404.5h1M155 416.5h1M171 423.5h1M172 431.5h1M176 433.5h1M167 422.5h1M155 409.5h1M152 415.5h1M151 411.5h1M164 414.5h1M150 411.5h1M156 425.5h1M156 411.5h1M168 409.5h1M148 403.5h1M172 432.5h1M155 409.5h1M158 406.5h1M172 423.5h1M164 433.5h1M154 409.5h1M167 417.5h1M158 412.5h1M161 411.5h1M170 440.5h1M166 406.5h1M162 408.5h1M154 416.5h1M170 428.5h1M169 426.5h1M152 407.5h1M167 436.5h1M160 421.5h1M159 412.5h1M169 430.5h1M163 412.5h1M152 414.5h1M167 437.5h1M168 405.5h1M158 405.5h1M165 408.5h1M170 434.5h1M178 425.5h1M169 434.5h1M154 407.5h1M158 410.5h1M160 407.5h1M176 427.5h1M164 423.5h1M153 418.5h1M153 412.5h1M168 440.5h1M146 411.5h1M176 421.5h1M150 414.5h1M166 433.5h1M152 412.5h1M171 429.5h1M169 415.5h1M166 409.5h1M177 428.5h1M173 431.5h1M173 425.5h1M172 429.5h1M168 424.5h1M172 426.5h1M162 406.5h1M164 434.5h1M162 404.5h1M165 404.5h1M170 428.5h1M165 406.5h1M160 415.5h1M171 430.5h1M149 413.5h1M178 428.5h1M171 422.5h1M173 420.5h1M160 413.5h1M163 407.5h1M171 426.5h1M172 422.5h1M167 428.5h1M176 429.5h1M164 423.5h1M158 416.5h1M161 405.5h1M176 433.5h1M157 410.5h1M161 416.5h1M159 413.5h1M164 423.5h1M165 408.5h1M155 412.5h1M157 408.5h1M159 411.5h1M158 424.5h1M177 425.5h1M175 425.5h1M173 423.5h1M172 428.5h1M158 410.5h1M166 431.5h1M159 429.5h1M152 406.5h1M163 407.5h1M170 431.5h1M159 425.5h1M161 407.5h1M158 435.5h1M170 423.5h1M169 435.5h1M169 434.5h1M168 422.5h1M168 409.5h1M171 427.5h1M167 437.5h1M157 405.5h1M172 427.5h1M173 434.5h1M169 432.5h1M167 414.5h1M162 408.5h1M156 415.5h1M159 419.5h1M165 423.5h1M169 432.5h1M159 415.5h1M173 424.5h1M172 430.5h1M154 405.5h1M157 403.5h1M159 420.5h1M153 408.5h1M169 423.5h1M152 410.5h1M160 405.5h1M161 404.5h1M155 404.5h1M157 434.5h1M153 414.5h1M164 409.5h1M169 428.5h1M164 430.5h1M167 424.5h1M173 423.5h1M158 415.5h1M167 423.5h1M155 421.5h1M171 426.5h1M167 406.5h1M166 434.5h1M150 411.5h1M154 413.5h1M155 414.5h1M150 413.5h1M172 421.5h1M156 404.5h1M165 413.5h1M166 414.5h1M167 433.5h1M161 404.5h1M150 407.5h1M168 429.5h1M157 422.5h1M175 418.5h1M174 433.5h1M168 439.5h1M158 411.5h1M170 434.5h1M156 419.5h1M153 409.5h1M154 408.5h1M150 412.5h1M160 412.5h1M168 423.5h1M175 424.5h1M176 433.5h1M158 415.5h1M161 407.5h1M146 416.5h1M171 407.5h1M166 431.5h1M174 422.5h1M164 411.5h1M164 416.5h1M172 424.5h1M158 415.5h1M172 423.5h1M162 434.5h1M165 415.5h1M158 406.5h1M173 433.5h1M163 429.5h1M164 407.5h1M166 409.5h1M172 420.5h1M160 420.5h1M157 401.5h1M156 415.5h1M154 400.5h1M164 400.5h1M163 415.5h1M164 428.5h1M166 427.5h1M161 413.5h1M163 408.5h1M173 429.5h1M165 401.5h1M176 424.5h1" stroke="#000" stroke-opacity="0.3" stroke-width="1" fill="none" filter="url(#bl0)"/>
<path d="M168 412.5h1M151 407.5h1M159 407.5h1M171 428.5h1M155 406.5h1M173 431.5h1M164 408.5h1M168 427.5h1M176 422.5h1M163 436.5h1M170 415.5h1M168 430.5h1M166 431.5h1M168 428.5h1M159 404.5h1M159 406.5h1M166 432.5h1M170 429.5h1M167 410.5h1M173 429.5h1M164 416.5h1M171 420.5h1M155 411.5h1M151 403.5h1M164 415.5h1M176 428.5h1M150 411.5h1M164 434.5h1M170 430.5h1M163 417.5h1M157 413.5h1M149 408.5h1M172 430.5h1M169 409.5h1M171 420.5h1M144 414.5h1M155 416.5h1M171 423.5h1M158 408.5h1M174 428.5h1M170 416.5h1M158 411.5h1M159 409.5h1M159 409.5h1M164 424.5h1M169 436.5h1M163 430.5h1M155 413.5h1M154 413.5h1M156 409.5h1M170 425.5h1M160 428.5h1M159 415.5h1M171 427.5h1M151 405.5h1M163 405.5h1M162 419.5h1M159 430.5h1M153 413.5h1M165 414.5h1M159 406.5h1M168 433.5h1M161 410.5h1M161 409.5h1M155 409.5h1M167 428.5h1M169 409.5h1M166 415.5h1M167 415.5h1M168 429.5h1M165 407.5h1M169 423.5h1M166 434.5h1M169 430.5h1M164 429.5h1M174 421.5h1M162 404.5h1M158 403.5h1M156 406.5h1M165 438.5h1M154 408.5h1M167 431.5h1M173 431.5h1M171 421.5h1M168 428.5h1M168 409.5h1M150 404.5h1M169 430.5h1M169 431.5h1M160 434.5h1M154 410.5h1M168 423.5h1M171 420.5h1M153 415.5h1M149 413.5h1M159 409.5h1M175 431.5h1M161 405.5h1M152 411.5h1M175 433.5h1M165 440.5h1M172 435.5h1M156 431.5h1M168 406.5h1M169 427.5h1M171 425.5h1M160 409.5h1M151 415.5h1M161 411.5h1M147 407.5h1M172 423.5h1M174 425.5h1M178 432.5h1M173 430.5h1M157 410.5h1M168 420.5h1M146 407.5h1M156 411.5h1M167 422.5h1M168 439.5h1M168 424.5h1M160 407.5h1M167 422.5h1M153 407.5h1M174 424.5h1M158 407.5h1M160 407.5h1M161 414.5h1M169 425.5h1M157 405.5h1M159 427.5h1M158 412.5h1M151 413.5h1M159 418.5h1M163 409.5h1M171 431.5h1M172 426.5h1M150 413.5h1M153 414.5h1M168 404.5h1M162 436.5h1M169 429.5h1M161 406.5h1M177 420.5h1M154 406.5h1M162 429.5h1M155 413.5h1M165 430.5h1M160 412.5h1M167 421.5h1M158 404.5h1M158 403.5h1M146 413.5h1M165 415.5h1M149 413.5h1M175 432.5h1M156 410.5h1M174 440.5h1M170 421.5h1M174 424.5h1M173 425.5h1M174 432.5h1M169 415.5h1M172 425.5h1M151 417.5h1M153 411.5h1M157 407.5h1M174 429.5h1M168 420.5h1M165 405.5h1M161 404.5h1M157 416.5h1M160 407.5h1M169 409.5h1M163 424.5h1M178 422.5h1M160 408.5h1M145 411.5h1M176 431.5h1M167 434.5h1M167 422.5h1M174 425.5h1M168 422.5h1M152 406.5h1M168 413.5h1M169 435.5h1M166 413.5h1M161 408.5h1M159 432.5h1M169 438.5h1M154 413.5h1M146 409.5h1M176 426.5h1M162 409.5h1M165 408.5h1M161 424.5h1M155 415.5h1M174 419.5h1M170 423.5h1M170 425.5h1M169 430.5h1M162 431.5h1M165 428.5h1M168 429.5h1M168 431.5h1M172 438.5h1M165 407.5h1M174 430.5h1M153 414.5h1M158 413.5h1M156 404.5h1M156 408.5h1M153 408.5h1M161 400.5h1M169 436.5h1M155 405.5h1M164 406.5h1M173 428.5h1M157 409.5h1M168 423.5h1M172 426.5h1M163 410.5h1M153 406.5h1M176 421.5h1M170 417.5h1M169 435.5h1M154 412.5h1M169 430.5h1M164 429.5h1M161 407.5h1M158 407.5h1M172 423.5h1M152 411.5h1M168 430.5h1M159 436.5h1M174 433.5h1M156 407.5h1M171 415.5h1M170 432.5h1M149 413.5h1M171 421.5h1M150 407.5h1M174 432.5h1M170 425.5h1M164 405.5h1M157 407.5h1M164 439.5h1M160 422.5h1M162 426.5h1M156 410.5h1M154 405.5h1M154 419.5h1M153 419.5h1M155 410.5h1M155 405.5h1M170 425.5h1M174 418.5h1M171 426.5h1M157 411.5h1M165 421.5h1M163 428.5h1M169 413.5h1M167 410.5h1M163 405.5h1M174 431.5h1M151 407.5h1M174 430.5h1M149 413.5h1M172 435.5h1M158 414.5h1M168 410.5h1M158 413.5h1M166 435.5h1M166 420.5h1M158 431.5h1M155 413.5h1M164 407.5h1M161 416.5h1M156 435.5h1M161 427.5h1M167 423.5h1M156 415.5h1M157 410.5h1M169 427.5h1M158 414.5h1M167 408.5h1M149 410.5h1M162 403.5h1M161 415.5h1M169 428.5h1M166 420.5h1M160 404.5h1M173 422.5h1M157 413.5h1M167 418.5h1M165 413.5h1M166 422.5h1M173 430.5h1M161 412.5h1M159 410.5h1M157 412.5h1M168 433.5h1M162 425.5h1M165 422.5h1M145 408.5h1M171 423.5h1M157 406.5h1M171 425.5h1M158 411.5h1M170 428.5h1M169 419.5h1M150 413.5h1M167 432.5h1M164 404.5h1M165 430.5h1M155 407.5h1M178 419.5h1M172 426.5h1M172 419.5h1M157 421.5h1M167 414.5h1M174 429.5h1M162 406.5h1M153 416.5h1M174 422.5h1M157 415.5h1M172 420.5h1M158 408.5h1M161 410.5h1M155 409.5h1M161 415.5h1M178 428.5h1M166 414.5h1M152 409.5h1M162 413.5h1M152 405.5h1M163 426.5h1M162 403.5h1M172 426.5h1M167 405.5h1M153 405.5h1M157 412.5h1M170 421.5h1M149 409.5h1M178 431.5h1M166 437.5h1M174 427.5h1M160 407.5h1M162 423.5h1M167 428.5h1M157 416.5h1M151 408.5h1M157 413.5h1M171 436.5h1M164 410.5h1M170 422.5h1M177 423.5h1M155 409.5h1M168 422.5h1M165 432.5h1M165 403.5h1M152 411.5h1M168 408.5h1M161 413.5h1M165 438.5h1M156 408.5h1M153 414.5h1M172 420.5h1M169 433.5h1M163 426.5h1M150 407.5h1M165 429.5h1M163 400.5h1M173 438.5h1M172 429.5h1M151 412.5h1M157 406.5h1M172 438.5h1M173 420.5h1M169 422.5h1M173 433.5h1M170 414.5h1M159 416.5h1M152 403.5h1M162 411.5h1M164 407.5h1M152 407.5h1M167 425.5h1M150 412.5h1M159 409.5h1M161 430.5h1M152 414.5h1M175 429.5h1M161 412.5h1M174 420.5h1M164 429.5h1M159 414.5h1M161 407.5h1M154 408.5h1M154 415.5h1M166 434.5h1M168 404.5h1M161 404.5h1M157 407.5h1M168 441.5h1M163 405.5h1M152 410.5h1M167 428.5h1M154 405.5h1M162 407.5h1M169 438.5h1M166 409.5h1M165 402.5h1M152 415.5h1M150 410.5h1M172 429.5h1M155 421.5h1M152 412.5h1M171 419.5h1M164 417.5h1M166 430.5h1M154 404.5h1M155 414.5h1M178 428.5h1M157 410.5h1M178 429.5h1M158 408.5h1M160 410.5h1M172 421.5h1M154 410.5h1M166 422.5h1M159 402.5h1M176 429.5h1M174 437.5h1M176 426.5h1M150 404.5h1M172 432.5h1M159 409.5h1M161 429.5h1M162 403.5h1M166 420.5h1M170 431.5h1M169 430.5h1M176 431.5h1M168 433.5h1M163 404.5h1M173 423.5h1M158 414.5h1M171 413.5h1M163 411.5h1M157 408.5h1M166 424.5h1M169 422.5h1M169 427.5h1M159 430.5h1M162 414.5h1M177 434.5h1M167 407.5h1M166 422.5h1M155 411.5h1M156 409.5h1M160 406.5h1M172 425.5h1M168 428.5h1M171 429.5h1M158 404.5h1M159 406.5h1M177 430.5h1M172 426.5h1M155 408.5h1M175 434.5h1M163 411.5h1M171 426.5h1M160 416.5h1M158 411.5h1M175 433.5h1M158 407.5h1M176 431.5h1M155 405.5h1M145 415.5h1M156 406.5h1M174 430.5h1M170 429.5h1M162 415.5h1M166 406.5h1M168 413.5h1M153 409.5h1M153 409.5h1M172 430.5h1M171 428.5h1M157 407.5h1M164 439.5h1M169 412.5h1M159 414.5h1M177 421.5h1M158 410.5h1M159 403.5h1M169 425.5h1M168 421.5h1M176 419.5h1M161 429.5h1M174 427.5h1M160 406.5h1M174 434.5h1M158 403.5h1M182 434.5h1M160 408.5h1M166 415.5h1M153 411.5h1M160 408.5h1M164 434.5h1M159 405.5h1M164 415.5h1M165 413.5h1M162 410.5h1M159 403.5h1M175 428.5h1M157 415.5h1M164 423.5h1M166 412.5h1" stroke="#000" stroke-opacity="0.3" stroke-width="1" fill="none" filter="url(#bl0)"/>
<path d="M148 417.5h1M154 415.5h1M148 422.5h1M140 433.5h1M149 419.5h1M141 423.5h1M153 425.5h1M143 427.5h1M144 442.5h1M140 424.5h1M145 430.5h1M125 440.5h1M146 397.5h1M146 421.5h1M148 411.5h1M134 425.5h1M147 422.5h1M149 421.5h1M142 436.5h1M140 425.5h1M135 443.5h1M154 412.5h1M142 432.5h1M134 416.5h1M146 426.5h1M145 425.5h1M148 425.5h1M139 447.5h1M146 420.5h1M145 433.5h1M134 436.5h1M147 434.5h1M138 421.5h1M147 408.5h1M137 435.5h1M147 427.5h1M147 434.5h1M133 438.5h1M141 436.5h1M147 408.5h1M142 440.5h1M154 418.5h1M152 426.5h1M144 443.5h1M161 424.5h1M145 409.5h1M132 432.5h1M150 438.5h1M134 429.5h1M146 424.5h1M140 442.5h1M139 424.5h1M142 436.5h1M146 425.5h1M143 422.5h1M141 450.5h1M147 411.5h1M147 439.5h1M142 428.5h1M146 439.5h1M143 433.5h1M148 421.5h1M142 448.5h1M141 432.5h1M152 426.5h1M145 417.5h1M133 435.5h1M139 441.5h1M141 425.5h1M145 425.5h1M148 427.5h1M153 414.5h1M135 423.5h1M143 447.5h1M138 436.5h1M142 429.5h1M145 419.5h1M134 434.5h1M144 422.5h1M134 439.5h1M147 423.5h1M133 427.5h1M145 428.5h1M134 427.5h1M138 441.5h1M140 425.5h1M141 431.5h1M146 427.5h1M142 425.5h1M145 417.5h1M137 429.5h1M143 424.5h1M144 419.5h1M147 422.5h1M143 427.5h1M141 436.5h1M153 423.5h1M151 428.5h1M154 411.5h1M151 422.5h1M131 444.5h1M151 411.5h1M145 411.5h1M143 426.5h1M140 430.5h1M139 442.5h1M140 426.5h1M139 433.5h1M136 426.5h1M150 424.5h1" stroke="#000" stroke-opacity="0.18" stroke-width="1" fill="none" filter="url(#bl0)"/>
<path d="M137 433.5h1M145 429.5h1M148 431.5h1M137 423.5h1M136 430.5h1M156 410.5h1M143 432.5h1M142 421.5h1M140 417.5h1M144 429.5h1M141 415.5h1M146 428.5h1M149 426.5h1M145 438.5h1M153 431.5h1M148 438.5h1M140 438.5h1M147 437.5h1M145 427.5h1M145 438.5h1M151 439.5h1M150 429.5h1M154 416.5h1M146 407.5h1M152 425.5h1M136 430.5h1M151 432.5h1M143 421.5h1M131 428.5h1M146 427.5h1M149 428.5h1M145 418.5h1M140 444.5h1M145 432.5h1M138 432.5h1M147 432.5h1M148 432.5h1M139 442.5h1M146 424.5h1M146 426.5h1M146 421.5h1M149 434.5h1M144 445.5h1M143 432.5h1M139 425.5h1M135 418.5h1M156 425.5h1M133 421.5h1M155 419.5h1M142 434.5h1M146 422.5h1M152 427.5h1M146 417.5h1M151 424.5h1M143 420.5h1M148 438.5h1M146 432.5h1M139 426.5h1M146 427.5h1M140 421.5h1M145 409.5h1M141 433.5h1M142 432.5h1M153 396.5h1M151 422.5h1M139 433.5h1M144 429.5h1M150 425.5h1M147 419.5h1M138 436.5h1M142 437.5h1M140 430.5h1M147 419.5h1M134 433.5h1M157 420.5h1M156 428.5h1M144 435.5h1M147 416.5h1M147 417.5h1M144 432.5h1M152 424.5h1M149 438.5h1M137 420.5h1M137 426.5h1M149 424.5h1M151 419.5h1M140 434.5h1M143 434.5h1M138 426.5h1M131 445.5h1M141 425.5h1M151 409.5h1M133 444.5h1M146 420.5h1M152 430.5h1M148 425.5h1M143 428.5h1M138 430.5h1M147 414.5h1M142 433.5h1M140 425.5h1M142 444.5h1M143 420.5h1M138 421.5h1M143 421.5h1M133 417.5h1M147 427.5h1M134 433.5h1M151 428.5h1M146 422.5h1" stroke="#000" stroke-opacity="0.18" stroke-width="1" fill="none" filter="url(#bl0)"/>
<path d="M134 436.5h1M143 421.5h1M147 416.5h1M149 420.5h1M147 434.5h1M147 414.5h1M147 424.5h1M148 429.5h1M153 429.5h1M161 415.5h1M152 431.5h1M136 439.5h1M147 432.5h1M145 401.5h1M144 434.5h1M147 435.5h1M143 416.5h1M145 424.5h1M144 445.5h1M156 430.5h1M143 420.5h1M148 433.5h1M140 431.5h1M149 419.5h1M142 440.5h1M143 422.5h1M148 431.5h1M147 427.5h1M135 424.5h1M138 428.5h1M136 440.5h1M157 425.5h1M145 418.5h1M148 430.5h1M148 422.5h1M153 429.5h1M144 429.5h1M141 441.5h1M154 421.5h1M147 430.5h1M146 425.5h1M133 426.5h1M149 429.5h1M140 427.5h1M150 421.5h1M140 433.5h1M149 408.5h1M140 423.5h1M139 432.5h1M144 433.5h1M151 433.5h1M149 431.5h1M147 421.5h1M156 425.5h1M140 437.5h1M147 433.5h1M150 418.5h1M148 425.5h1M142 426.5h1M137 435.5h1M152 435.5h1M147 422.5h1M149 425.5h1M151 436.5h1M148 417.5h1M140 436.5h1M139 437.5h1M140 427.5h1M146 421.5h1M143 431.5h1M152 418.5h1M138 417.5h1M152 418.5h1M149 419.5h1M150 425.5h1M146 424.5h1M142 437.5h1M142 430.5h1M146 420.5h1M152 429.5h1M140 432.5h1M138 430.5h1M150 423.5h1M148 435.5h1M148 424.5h1M139 411.5h1M141 419.5h1M147 433.5h1M142 443.5h1M139 455.5h1M152 409.5h1M149 419.5h1M149 438.5h1M148 428.5h1M138 436.5h1M149 430.5h1M136 421.5h1M146 421.5h1M137 420.5h1M148 415.5h1M141 442.5h1M132 438.5h1M146 437.5h1M137 440.5h1M143 431.5h1M146 418.5h1M137 437.5h1M138 434.5h1M142 435.5h1M132 434.5h1" stroke="#000" stroke-opacity="0.18" stroke-width="1" fill="none" filter="url(#bl0)"/>
<path d="M141 443.5h1M140 435.5h1M139 436.5h1M140 439.5h1M133 440.5h1M135 442.5h1M137 442.5h1M137 439.5h1M134 442.5h1M138 440.5h1M141 438.5h1M138 439.5h1M138 438.5h1M139 441.5h1M139 437.5h1M135 439.5h1M138 440.5h1M136 438.5h1M136 438.5h1M133 438.5h1M139 439.5h1M142 439.5h1M137 440.5h1M140 442.5h1M142 440.5h1M138 437.5h1M141 439.5h1M137 439.5h1M139 441.5h1M139 435.5h1" stroke="#000" stroke-opacity="0.22" stroke-width="1" fill="none" filter="url(#bl0)"/>
<path d="M140 439.5h1M140 440.5h1M137 437.5h1M139 440.5h1M138 442.5h1M137 437.5h1M138 438.5h1M138 443.5h1M134 437.5h1M140 438.5h1M140 441.5h1M134 440.5h1M136 440.5h1M140 439.5h1M138 440.5h1M139 438.5h1M142 440.5h1M138 444.5h1M134 442.5h1M142 438.5h1M135 439.5h1M136 436.5h1M137 441.5h1M137 441.5h1M143 438.5h1M139 443.5h1M138 438.5h1M134 437.5h1M138 443.5h1M141 439.5h1" stroke="#000" stroke-opacity="0.22" stroke-width="1" fill="none" filter="url(#bl0)"/>
<path d="M140 438.5h1M141 444.5h1M139 438.5h1M134 441.5h1M140 440.5h1M138 441.5h1M137 439.5h1M141 440.5h1M140 437.5h1M136 439.5h1M138 441.5h1M137 437.5h1M133 443.5h1M141 439.5h1M140 443.5h1M138 443.5h1M137 440.5h1M133 437.5h1M136 441.5h1M141 437.5h1M138 439.5h1M136 434.5h1M137 439.5h1M137 437.5h1M133 442.5h1M141 446.5h1M138 439.5h1M136 443.5h1M138 437.5h1M139 441.5h1" stroke="#000" stroke-opacity="0.22" stroke-width="1" fill="none" filter="url(#bl0)"/>
<path d="M144.2 411.7 C144.38 410.62 144.75 409.35 145.7 408 C146.65 406.65 147.74 405.42 149.5 404.2 C151.26 402.98 153.07 401.92 155.5 401.2 C157.93 400.48 160.57 400.2 163 400.2 C165.43 400.2 167.6 400.34 169 401.2 C170.4 402.06 170.4 403.65 170.8 405 C171.2 406.35 170.59 407.35 171.2 408.7 C171.81 410.05 172.98 410.74 174.2 412.5 C175.42 414.26 177.05 416.34 178 418.5 C178.95 420.66 179.37 422.07 179.5 424.5 C179.63 426.93 179.11 429.57 178.7 432 C178.29 434.43 178.01 436.38 177.2 438 C176.39 439.62 175.68 440.33 174.2 441 C172.72 441.67 171.29 441.84 169 441.7 C166.71 441.56 163.61 440.92 161.5 440.2 C159.39 439.48 158.25 439.18 157.3 437.7 C156.35 436.22 156.2 434.11 156.2 432 C156.2 429.89 157.57 427.89 157.3 426 C157.03 424.11 155.98 422.72 154.7 421.5 C153.42 420.28 151.68 420.01 150.2 419.2 C148.72 418.39 147.49 417.94 146.5 417 C145.51 416.06 145.11 414.95 144.7 414 C144.29 413.05 144.02 412.78 144.2 411.7Z" fill="none" stroke="#111" stroke-width="1.4"/>
<path d="M148.7 409.5 C149.24 407.88 150.47 406.21 152.5 405 C154.53 403.79 157.57 403.02 160 402.75 C162.43 402.48 164.25 402.7 166 403.5 C167.75 404.3 168.94 405.58 169.7 407.2 C170.46 408.82 170.6 410.88 170.2 412.5 C169.8 414.12 169.07 415.26 167.5 416.2 C165.93 417.14 163.93 417.56 161.5 417.7 C159.07 417.84 156.16 417.67 154 417 C151.84 416.33 150.45 415.35 149.5 414 C148.55 412.65 148.16 411.12 148.7 409.5Z" fill="none" stroke="#111" stroke-width="1.4"/>
<path d="M163 427.5 C163.27 425.74 163.42 423.69 164.5 422.2 C165.58 420.71 167.25 419.6 169 419.2 C170.75 418.8 172.58 419.19 174.2 420 C175.82 420.81 177.1 422.08 178 423.7 C178.9 425.32 179.34 427.24 179.2 429 C179.06 430.76 178.5 432.15 177.2 433.5 C175.9 434.85 174.02 436.1 172 436.5 C169.98 436.9 167.62 436.51 166 435.7 C164.38 434.89 163.54 433.48 163 432 C162.46 430.52 162.73 429.26 163 427.5Z" fill="none" stroke="#111" stroke-width="1.4"/>
<rect x="119" y="385.5" width="75" height="74.3" fill="none" stroke="#111" stroke-width="1.4"/>
<path d="M115.5 393.75H119" stroke="#111" stroke-width="1.2"/>
<text x="112.2" y="396.65" font-size="8" text-anchor="end" fill="#111">10<tspan font-size="5.6" dy="-3.4">5</tspan></text>
<path d="M115.5 409.5H119" stroke="#111" stroke-width="1.2"/>
<text x="112.2" y="412.4" font-size="8" text-anchor="end" fill="#111">10<tspan font-size="5.6" dy="-3.4">4</tspan></text>
<path d="M115.5 430H119" stroke="#111" stroke-width="1.2"/>
<text x="112.2" y="432.9" font-size="8" text-anchor="end" fill="#111">10<tspan font-size="5.6" dy="-3.4">3</tspan></text>
<path d="M115.5 443.25H119" stroke="#111" stroke-width="1.2"/>
<text x="112.2" y="446.15" font-size="8" text-anchor="end" fill="#111">0</text>
<rect x="116" y="441.75" width="3" height="3" fill="#111"/>
<path d="M115.5 455.75H119" stroke="#111" stroke-width="1.2"/>
<text x="112.2" y="458.65" font-size="8" text-anchor="end" fill="#111">−10<tspan font-size="5.6" dy="-3.4">3</tspan></text>
<path d="M117.2 396.9H119M117.2 400.05H119M117.2 403.2H119M117.2 406.35H119M117.2 413.6H119M117.2 417.7H119M117.2 421.8H119M117.2 425.9H119M117.2 432.65H119M117.2 435.3H119M117.2 437.95H119M117.2 440.6H119M117.2 445.75H119M117.2 448.25H119M117.2 450.75H119M117.2 453.25H119" stroke="#111" stroke-width=".9"/>
<path d="M136.25 459.8V463" stroke="#111" stroke-width="1.2"/>
<rect x="134.75" y="459.8" width="3" height="2.6" fill="#111"/>
<text x="136.25" y="474.4" font-size="8" text-anchor="middle" fill="#111">0</text>
<path d="M170 459.8V463" stroke="#111" stroke-width="1.2"/>
<text x="170" y="474.4" font-size="8" text-anchor="middle" fill="#111">10<tspan font-size="5.6" dy="-3.4">4</tspan></text>
<path d="M122.12 459.8V461.6M125.25 459.8V461.6M128.38 459.8V461.6M131.5 459.8V461.6M134.62 459.8V461.6M137.75 459.8V461.6M140.88 459.8V461.6M144 459.8V461.6M147.12 459.8V461.6M150.25 459.8V461.6M153.38 459.8V461.6M156.5 459.8V461.6M159.62 459.8V461.6M162.75 459.8V461.6M165.88 459.8V461.6M169 459.8V461.6M172.12 459.8V461.6M175.25 459.8V461.6M178.38 459.8V461.6M181.5 459.8V461.6M184.62 459.8V461.6M187.75 459.8V461.6M190.88 459.8V461.6" stroke="#111" stroke-width=".9"/>
<text transform="translate(156.9 488.1)" font-size="9.8" text-anchor="middle" textLength="16.2" lengthAdjust="spacingAndGlyphs" style="stroke-width:0.25px" fill="#111">CD33</text>
<text transform="translate(90.8 422.65) rotate(-90)" font-size="9.8" text-anchor="middle" textLength="16.2" lengthAdjust="spacingAndGlyphs" style="stroke-width:0.25px" fill="#111">CD34</text>
<text x="134.5" y="392.4" font-size="6.1" text-anchor="middle" fill="#111" style="stroke-width:.2px">CD33+</text>
<text x="134.7" y="399.2" font-size="6.1" text-anchor="middle" fill="#111" style="stroke-width:.2px">91.0</text>
<text x="172.8" y="392.4" font-size="6.1" text-anchor="middle" fill="#111" style="stroke-width:.2px">CD33+CD34+</text>
<text x="173.5" y="399.2" font-size="6.1" text-anchor="middle" fill="#111" style="stroke-width:.2px">46.6</text>
<text x="174.4" y="451.7" font-size="6.1" text-anchor="middle" fill="#111" style="stroke-width:.2px">CD33+CD34-</text>
<text x="173.8" y="457.7" font-size="6.1" text-anchor="middle" fill="#111" style="stroke-width:.2px">29.1</text>
<path d="M169.5 408.8L260.5 444.8M179.2 428.5L399.5 448.2" stroke="#111" stroke-width="1.3"/>
<path d="M265.8 447.1L258.6 446.6L260.6 441.6Z" fill="#111"/>
<path d="M405.4 448.6L399.3 451.2L399.6 445.9Z" fill="#111"/>
<text x="8" y="18.1" font-size="12.2" font-weight="bold" fill="#000" style="stroke:#000;stroke-width:.45px">D</text>
<text x="8.5" y="509.9" font-size="12.2" font-weight="bold" fill="#000" style="stroke:#000;stroke-width:.45px">E</text>
<rect x="54.25" y="621.69" width="7" height="33.11" fill="#e08a1f" stroke="#b77119" stroke-width=".6"/>
<path d="M57.75 654.8V657.6" stroke="#111" stroke-width="1.1"/>
<text x="57.75" y="668.7" font-size="8" text-anchor="middle" fill="#1a1a1a">0</text>
<rect x="64.55" y="557.83" width="7" height="96.97" fill="#e08a1f" stroke="#b77119" stroke-width=".6"/>
<path d="M68.05 654.8V657.6" stroke="#111" stroke-width="1.1"/>
<text x="68.05" y="668.7" font-size="8" text-anchor="middle" fill="#1a1a1a">1</text>
<rect x="74.85" y="628.78" width="7" height="26.02" fill="#e08a1f" stroke="#b77119" stroke-width=".6"/>
<path d="M78.35 654.8V657.6" stroke="#111" stroke-width="1.1"/>
<text x="78.35" y="668.7" font-size="8" text-anchor="middle" fill="#1a1a1a">2</text>
<rect x="92.3" y="564.93" width="7" height="89.87" fill="#6aab45" stroke="#568c38" stroke-width=".6"/>
<path d="M95.8 654.8V657.6" stroke="#111" stroke-width="1.1"/>
<text x="95.8" y="668.7" font-size="8" text-anchor="middle" fill="#1a1a1a">0</text>
<rect x="102.6" y="605.13" width="7" height="49.67" fill="#6aab45" stroke="#568c38" stroke-width=".6"/>
<path d="M106.1 654.8V657.6" stroke="#111" stroke-width="1.1"/>
<text x="106.1" y="668.7" font-size="8" text-anchor="middle" fill="#1a1a1a">1</text>
<rect x="112.9" y="638.25" width="7" height="16.55" fill="#6aab45" stroke="#568c38" stroke-width=".6"/>
<path d="M116.4 654.8V657.6" stroke="#111" stroke-width="1.1"/>
<text x="116.4" y="668.7" font-size="8" text-anchor="middle" fill="#1a1a1a">2</text>
<rect x="130.35" y="519.99" width="7" height="134.81" fill="#6aabdd" stroke="#568cb5" stroke-width=".6"/>
<path d="M133.85 654.8V657.6" stroke="#111" stroke-width="1.1"/>
<text x="133.85" y="668.7" font-size="8" text-anchor="middle" fill="#1a1a1a">0</text>
<rect x="140.65" y="640.61" width="7" height="14.19" fill="#6aabdd" stroke="#568cb5" stroke-width=".6"/>
<path d="M144.15 654.8V657.6" stroke="#111" stroke-width="1.1"/>
<text x="144.15" y="668.7" font-size="8" text-anchor="middle" fill="#1a1a1a">1</text>
<rect x="150.95" y="647.7" width="7" height="7.1" fill="#6aabdd" stroke="#568cb5" stroke-width=".6"/>
<path d="M154.45 654.8V657.6" stroke="#111" stroke-width="1.1"/>
<text x="154.45" y="668.7" font-size="8" text-anchor="middle" fill="#1a1a1a">2</text>
<rect x="168.4" y="624.05" width="7" height="30.75" fill="#c4147c" stroke="#a01065" stroke-width=".6"/>
<path d="M171.9 654.8V657.6" stroke="#111" stroke-width="1.1"/>
<text x="171.9" y="668.7" font-size="8" text-anchor="middle" fill="#1a1a1a">0</text>
<rect x="178.7" y="560.2" width="7" height="94.6" fill="#c4147c" stroke="#a01065" stroke-width=".6"/>
<path d="M182.2 654.8V657.6" stroke="#111" stroke-width="1.1"/>
<text x="182.2" y="668.7" font-size="8" text-anchor="middle" fill="#1a1a1a">1</text>
<rect x="189" y="624.05" width="7" height="30.75" fill="#c4147c" stroke="#a01065" stroke-width=".6"/>
<path d="M192.5 654.8V657.6" stroke="#111" stroke-width="1.1"/>
<text x="192.5" y="668.7" font-size="8" text-anchor="middle" fill="#1a1a1a">2</text>
<rect x="206.45" y="626.42" width="7" height="28.38" fill="#c8c8cc" stroke="#a4a4a7" stroke-width=".6"/>
<path d="M209.95 654.8V657.6" stroke="#111" stroke-width="1.1"/>
<text x="209.95" y="668.7" font-size="8" text-anchor="middle" fill="#1a1a1a">0</text>
<rect x="216.75" y="557.83" width="7" height="96.97" fill="#c8c8cc" stroke="#a4a4a7" stroke-width=".6"/>
<path d="M220.25 654.8V657.6" stroke="#111" stroke-width="1.1"/>
<text x="220.25" y="668.7" font-size="8" text-anchor="middle" fill="#1a1a1a">1</text>
<rect x="227.05" y="624.05" width="7" height="30.75" fill="#c8c8cc" stroke="#a4a4a7" stroke-width=".6"/>
<path d="M230.55 654.8V657.6" stroke="#111" stroke-width="1.1"/>
<text x="230.55" y="668.7" font-size="8" text-anchor="middle" fill="#1a1a1a">2</text>
<rect x="244.5" y="574.39" width="7" height="80.41" fill="#ebbd2a" stroke="#c09a22" stroke-width=".6"/>
<path d="M248 654.8V657.6" stroke="#111" stroke-width="1.1"/>
<text x="248" y="668.7" font-size="8" text-anchor="middle" fill="#1a1a1a">0</text>
<rect x="254.8" y="598.04" width="7" height="56.76" fill="#ebbd2a" stroke="#c09a22" stroke-width=".6"/>
<path d="M258.3 654.8V657.6" stroke="#111" stroke-width="1.1"/>
<text x="258.3" y="668.7" font-size="8" text-anchor="middle" fill="#1a1a1a">1</text>
<rect x="265.1" y="635.88" width="7" height="18.92" fill="#ebbd2a" stroke="#c09a22" stroke-width=".6"/>
<path d="M268.6 654.8V657.6" stroke="#111" stroke-width="1.1"/>
<text x="268.6" y="668.7" font-size="8" text-anchor="middle" fill="#1a1a1a">2</text>
<path d="M286.05 654.8V657.6" stroke="#111" stroke-width="1.1"/>
<text x="286.05" y="668.7" font-size="8" text-anchor="middle" fill="#1a1a1a">0</text>
<rect x="292.85" y="536.55" width="7" height="118.25" fill="#356a55" stroke="#2b5645" stroke-width=".6"/>
<path d="M296.35 654.8V657.6" stroke="#111" stroke-width="1.1"/>
<text x="296.35" y="668.7" font-size="8" text-anchor="middle" fill="#1a1a1a">1</text>
<rect x="303.15" y="616.96" width="7" height="37.84" fill="#356a55" stroke="#2b5645" stroke-width=".6"/>
<path d="M306.65 654.8V657.6" stroke="#111" stroke-width="1.1"/>
<text x="306.65" y="668.7" font-size="8" text-anchor="middle" fill="#1a1a1a">2</text>
<rect x="320.6" y="538.91" width="7" height="115.89" fill="#a30d2e" stroke="#850a25" stroke-width=".6"/>
<path d="M324.1 654.8V657.6" stroke="#111" stroke-width="1.1"/>
<text x="324.1" y="668.7" font-size="8" text-anchor="middle" fill="#1a1a1a">0</text>
<rect x="330.9" y="624.05" width="7" height="30.75" fill="#a30d2e" stroke="#850a25" stroke-width=".6"/>
<path d="M334.4 654.8V657.6" stroke="#111" stroke-width="1.1"/>
<text x="334.4" y="668.7" font-size="8" text-anchor="middle" fill="#1a1a1a">1</text>
<rect x="341.2" y="645.34" width="7" height="9.46" fill="#a30d2e" stroke="#850a25" stroke-width=".6"/>
<path d="M344.7 654.8V657.6" stroke="#111" stroke-width="1.1"/>
<text x="344.7" y="668.7" font-size="8" text-anchor="middle" fill="#1a1a1a">2</text>
<rect x="358.65" y="619.32" width="7" height="35.48" fill="#542669" stroke="#441f56" stroke-width=".6"/>
<path d="M362.15 654.8V657.6" stroke="#111" stroke-width="1.1"/>
<text x="362.15" y="668.7" font-size="8" text-anchor="middle" fill="#1a1a1a">0</text>
<rect x="368.95" y="564.93" width="7" height="89.87" fill="#542669" stroke="#441f56" stroke-width=".6"/>
<path d="M372.45 654.8V657.6" stroke="#111" stroke-width="1.1"/>
<text x="372.45" y="668.7" font-size="8" text-anchor="middle" fill="#1a1a1a">1</text>
<rect x="379.25" y="624.05" width="7" height="30.75" fill="#542669" stroke="#441f56" stroke-width=".6"/>
<path d="M382.75 654.8V657.6" stroke="#111" stroke-width="1.1"/>
<text x="382.75" y="668.7" font-size="8" text-anchor="middle" fill="#1a1a1a">2</text>
<path d="M48.8 510.6V654.8H390.6" fill="none" stroke="#111" stroke-width="1.4"/>
<path d="M45.6 654.8H48.8" stroke="#111" stroke-width="1.2"/>
<text x="42" y="657.8" font-size="8.6" text-anchor="end" fill="#1a1a1a">0</text>
<path d="M45.6 607.5H48.8" stroke="#111" stroke-width="1.2"/>
<text x="42" y="610.5" font-size="8.6" text-anchor="end" fill="#1a1a1a">20</text>
<path d="M45.6 560.2H48.8" stroke="#111" stroke-width="1.2"/>
<text x="42" y="563.2" font-size="8.6" text-anchor="end" fill="#1a1a1a">40</text>
<path d="M45.6 512.9H48.8" stroke="#111" stroke-width="1.2"/>
<text x="42" y="515.9" font-size="8.6" text-anchor="end" fill="#1a1a1a">60</text>
<text transform="translate(25.6 582.7) rotate(-90) scale(0.72 1)" font-size="9.6" text-anchor="middle" style="stroke-width:0.3px" font-weight="normal" fill="#111"># samples</text>
<text transform="translate(219.7 682.6) scale(0.74 1)" font-size="9" text-anchor="middle" style="stroke-width:0.3px" font-weight="normal" fill="#111">RFI score</text>
<rect x="423.3" y="519" width="14.6" height="8.6" fill="#e08a1f" stroke="#b77119" stroke-width=".6"/>
<text x="441.7" y="526.4" font-size="8.5" fill="#222">MIC A</text>
<rect x="423.3" y="536.04" width="14.6" height="8.6" fill="#6aab45" stroke="#568c38" stroke-width=".6"/>
<text x="441.7" y="543.44" font-size="8.5" fill="#222">MIC B</text>
<rect x="423.3" y="553.08" width="14.6" height="8.6" fill="#6aabdd" stroke="#568cb5" stroke-width=".6"/>
<text x="441.7" y="560.48" font-size="8.5" fill="#222">CD155</text>
<rect x="423.3" y="570.12" width="14.6" height="8.6" fill="#c4147c" stroke="#a01065" stroke-width=".6"/>
<text x="441.7" y="577.52" font-size="8.5" fill="#222">CD112</text>
<rect x="423.3" y="587.16" width="14.6" height="8.6" fill="#c8c8cc" stroke="#a4a4a7" stroke-width=".6"/>
<text x="441.7" y="594.56" font-size="8.5" fill="#222">ULBP1</text>
<rect x="423.3" y="604.2" width="14.6" height="8.6" fill="#ebbd2a" stroke="#c09a22" stroke-width=".6"/>
<text x="441.7" y="611.6" font-size="8.5" fill="#222">ULBP 2/5/6</text>
<rect x="423.3" y="621.24" width="14.6" height="8.6" fill="#356a55" stroke="#2b5645" stroke-width=".6"/>
<text x="441.7" y="628.64" font-size="8.5" fill="#222">HLA I</text>
<rect x="423.3" y="638.28" width="14.6" height="8.6" fill="#a30d2e" stroke="#850a25" stroke-width=".6"/>
<text x="441.7" y="645.68" font-size="8.5" fill="#222">PD-L1</text>
<rect x="423.3" y="655.32" width="14.6" height="8.6" fill="#542669" stroke="#441f56" stroke-width=".6"/>
<text x="441.7" y="662.72" font-size="8.5" fill="#222">PD-L2</text>
<path d="M0 0H520V1.2H0ZM0 0H1.5V693H0ZM518.65 0H520V693H518.65ZM0 691.1H520V693H0Z" fill="#000"/></svg>
</body></html>
